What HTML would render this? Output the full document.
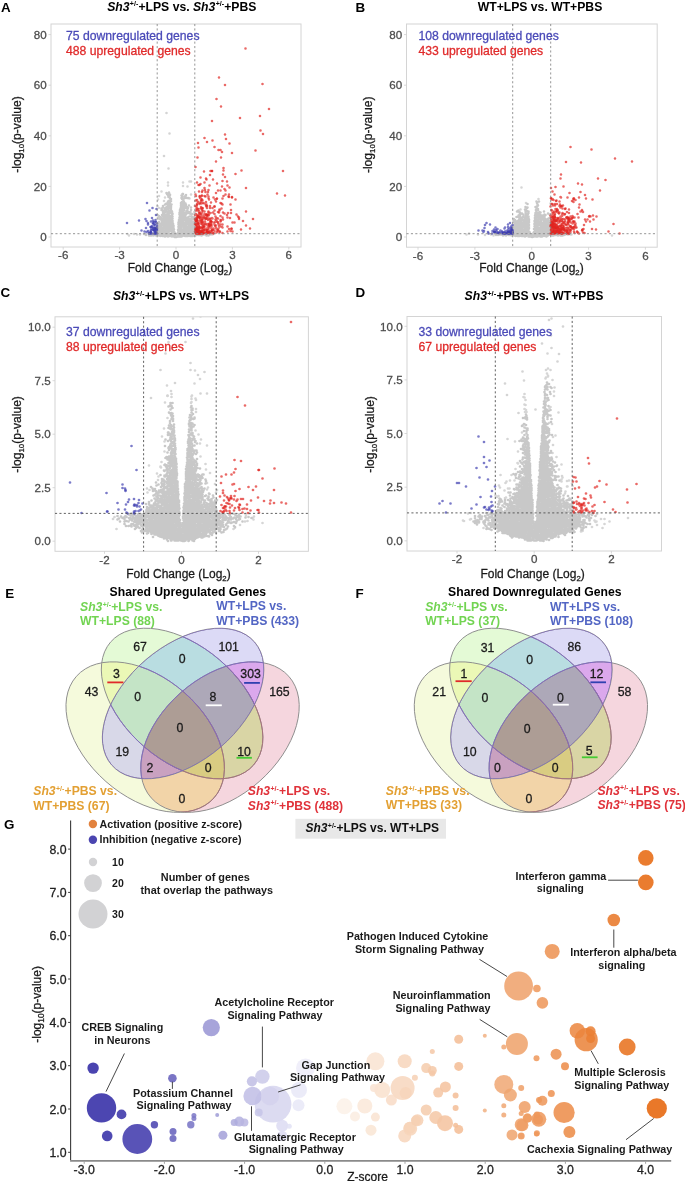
<!DOCTYPE html><html><head><meta charset="utf-8"><style>html,body{margin:0;padding:0;background:#fff}svg{display:block}</style></head><body><svg style="will-change:transform" width="685" height="1181" viewBox="0 0 685 1181" font-family="&quot;Liberation Sans&quot;, sans-serif">
<rect width="685" height="1181" fill="#fff"/>
<text x="1.0" y="11.6" font-size="13.4" font-weight="bold" fill="#000" text-anchor="start">A</text>
<text x="355.6" y="11.6" font-size="13.4" font-weight="bold" fill="#000" text-anchor="start">B</text>
<text x="0.6" y="296.8" font-size="13.4" font-weight="bold" fill="#000" text-anchor="start">C</text>
<text x="355.4" y="296.8" font-size="13.4" font-weight="bold" fill="#000" text-anchor="start">D</text>
<text x="5.2" y="598" font-size="13.4" font-weight="bold" fill="#000" text-anchor="start">E</text>
<text x="355.6" y="598.2" font-size="13.4" font-weight="bold" fill="#000" text-anchor="start">F</text>
<text x="4" y="829.3" font-size="13.4" font-weight="bold" fill="#000" text-anchor="start">G</text>
<text x="181.8" y="10.5" font-size="12.2" font-weight="bold" text-anchor="middle"><tspan font-style="italic">Sh3</tspan><tspan font-size="7" dy="-4.2" dx="0.3">+/-</tspan><tspan dy="4.2" dx="0.2">+LPS vs. </tspan><tspan font-style="italic">Sh3</tspan><tspan font-size="7" dy="-4.2" dx="0.3">+/-</tspan><tspan dy="4.2" dx="0.2">+PBS</tspan></text>
<text x="540" y="10.5" font-size="12.2" font-weight="bold" text-anchor="middle">WT+LPS vs. WT+PBS</text>
<text x="181" y="300" font-size="12.2" font-weight="bold" text-anchor="middle"><tspan font-style="italic">Sh3</tspan><tspan font-size="7.5" dy="-4.2" dx="0.3">+/-</tspan><tspan dy="4.2" dx="0.2">+LPS vs. WT+LPS</tspan></text>
<text x="534" y="300" font-size="12.2" font-weight="bold" text-anchor="middle"><tspan font-style="italic">Sh3</tspan><tspan font-size="7.5" dy="-4.2" dx="0.3">+/-</tspan><tspan dy="4.2" dx="0.2">+PBS vs. WT+PBS</tspan></text>
<rect x="51" y="24" width="250" height="223" fill="#fff" stroke="#d4d4d4" stroke-width="1"/>
<clipPath id="clp1"><rect x="51" y="24" width="250" height="223"/></clipPath>
<g clip-path="url(#clp1)">
<path transform="scale(0.5)" d="M280 469h0M274 469h0M425 469h0M366 365h0M323 383h0M255 468h0M366 372h0M379 363h0M379 397h0M422 469h0M258 471h0M328 402h0M318 392h0M336 365h0M336 371h0M330 395h0M318 416h0M315 412h0M268 468h0M316 399h0M382 389h0" stroke="#d6d6d6" stroke-width="5.2" stroke-linecap="round" fill="none" opacity="1.0"/>
<path transform="scale(0.5)" d="M339 472h0M382 469h0M349 474h0M346 472h0M361 473h0M330 470h0M374 467h0M370 471h0M339 472h0M358 473h0M357 473h0M344 473h0M352 474h0M353 474h0M340 471h0M372 469h0M323 467h0M336 473h0M327 472h0M366 471h0M342 472h0M342 472h0M371 472h0M364 472h0M385 462h0M332 470h0M325 468h0M365 472h0M345 471h0M377 469h0M327 470h0M363 473h0M324 466h0M362 471h0M360 471h0M384 471h0M386 468h0M387 470h0M338 469h0M323 471h0M319 467h0M380 470h0M326 470h0M373 470h0M416 469h0M328 461h0M322 464h0M368 469h0M362 469h0M336 471h0M329 469h0M328 465h0M335 468h0M373 472h0M332 472h0M379 465h0M317 468h0M396 470h0M379 467h0M317 471h0M325 463h0M332 469h0M398 469h0M366 467h0M391 471h0M386 466h0M320 468h0M370 472h0M371 466h0M335 463h0M387 469h0M340 468h0M382 464h0M359 467h0M395 469h0M329 466h0M364 468h0M330 468h0M321 465h0M315 470h0M321 470h0M371 472h0M312 468h0M377 469h0M383 472h0M389 462h0M325 472h0M407 468h0M388 465h0M305 468h0M357 471h0M312 471h0M303 471h0M327 464h0M401 468h0M330 473h0M292 469h0M307 471h0M309 469h0M310 470h0M300 469h0M389 470h0M389 469h0M317 463h0M377 466h0M393 469h0M363 465h0M366 464h0M407 468h0M317 465h0M319 460h0M389 465h0M333 465h0M288 468h0M321 463h0M299 469h0M374 466h0M404 468h0M315 456h0M410 469h0M307 468h0M382 472h0M315 469h0M342 468h0M380 472h0M336 465h0M320 458h0M348 472h0M339 467h0M399 470h0M372 464h0M317 460h0M330 463h0M315 466h0M376 472h0M386 472h0M381 453h0M321 472h0M337 467h0M372 458h0M345 469h0M383 462h0M397 470h0M372 461h0M298 471h0M364 466h0M340 442h0M357 463h0M326 443h0M342 437h0M368 449h0M344 466h0M346 466h0M340 455h0M345 457h0M341 447h0M361 464h0M368 459h0M360 458h0M342 449h0M343 461h0M345 443h0M367 451h0M328 434h0M340 435h0M367 424h0M357 448h0M374 462h0M338 442h0M356 465h0M363 455h0M364 394h0M386 454h0M366 465h0M347 453h0M362 440h0M342 452h0M346 459h0M365 447h0M334 461h0M322 459h0M357 458h0M342 438h0M359 429h0M361 456h0M363 458h0M381 460h0M356 460h0M379 457h0M344 463h0M358 440h0M323 435h0M328 453h0M328 438h0M367 402h0M344 455h0M362 447h0M329 438h0M333 423h0M364 443h0M343 454h0M382 438h0M362 460h0M361 451h0M365 451h0M319 438h0M360 466h0M388 459h0M379 445h0M329 429h0M343 432h0M361 427h0M378 454h0M336 458h0M346 447h0M337 429h0M363 457h0M344 439h0M339 458h0M357 454h0M337 408h0M367 422h0M348 459h0M337 405h0M331 445h0M335 413h0M366 447h0M345 441h0M374 444h0M342 445h0M376 416h0M360 462h0M349 465h0M357 469h0M330 461h0M336 438h0M316 450h0M344 448h0M345 428h0M370 456h0M368 449h0M367 428h0M368 417h0M371 446h0M330 456h0M368 414h0M381 447h0M338 440h0M360 456h0M341 457h0M374 396h0M365 435h0M343 443h0M337 461h0M362 444h0M346 462h0M341 460h0M370 460h0M359 461h0M374 454h0M357 453h0M388 439h0M361 429h0M335 451h0M363 440h0M340 432h0M326 427h0M339 401h0M319 438h0M378 459h0M348 463h0M358 452h0M330 452h0M374 459h0M377 462h0M358 450h0M378 460h0M368 446h0M333 440h0M378 453h0M342 438h0M330 409h0M323 441h0M322 454h0M369 439h0M343 456h0M343 422h0M388 464h0M361 453h0M328 456h0M358 447h0M339 422h0M374 448h0M336 453h0M333 455h0M370 453h0M371 447h0M373 451h0M339 444h0M369 441h0M363 437h0M327 449h0M363 463h0M347 456h0M334 463h0M345 456h0M343 450h0M382 455h0M376 446h0M333 459h0M345 442h0M370 464h0M341 400h0M338 462h0M335 434h0M334 429h0M379 455h0M348 468h0M321 448h0M385 446h0M320 450h0M366 461h0M347 457h0M324 419h0M330 440h0M321 449h0M332 416h0M379 448h0M355 468h0M371 449h0M359 438h0M419 469h0M343 433h0M345 450h0M362 406h0M343 427h0M381 424h0M342 462h0M363 409h0M369 462h0M322 447h0M341 410h0M374 441h0M381 453h0M326 414h0M324 430h0M331 458h0M332 420h0M323 452h0M318 451h0M332 449h0M330 419h0M359 445h0M337 454h0M366 438h0M339 454h0M364 404h0M388 447h0M317 456h0M355 470h0M329 450h0M345 437h0M372 455h0M320 456h0M360 423h0M340 390h0M326 441h0M384 452h0M378 463h0M364 443h0M342 422h0M334 417h0M339 426h0M358 442h0M362 417h0M383 451h0M376 446h0M363 433h0M332 453h0M364 424h0M384 450h0M383 456h0M367 435h0M336 430h0M370 430h0M340 425h0M339 451h0M374 435h0M335 441h0M365 459h0M335 436h0M342 410h0M361 434h0M389 452h0M338 433h0M318 437h0M337 448h0M371 412h0M357 445h0M360 421h0M360 431h0M325 438h0M365 388h0M332 432h0M326 458h0M338 436h0M387 456h0M369 458h0M360 420h0M362 441h0M326 458h0M338 393h0M373 451h0M336 409h0M332 448h0M337 451h0M366 444h0M385 461h0M340 402h0M377 458h0M363 454h0M337 443h0M334 444h0M383 442h0M334 443h0M370 436h0M359 426h0M368 446h0M378 438h0M292 470h0M389 424h0M366 420h0M366 430h0M360 436h0M341 445h0M371 407h0M359 435h0M334 388h0M326 412h0M389 460h0M360 433h0M372 441h0M363 391h0M344 423h0M381 439h0M366 414h0M373 436h0M377 424h0M327 432h0M339 393h0M368 455h0M335 427h0M338 423h0M328 426h0M368 415h0M315 450h0M370 431h0M368 433h0M316 459h0M344 430h0M372 454h0M324 447h0M324 460h0M342 415h0M333 435h0M375 456h0M323 457h0M360 424h0M365 426h0M335 447h0M335 431h0M377 439h0M333 461h0M366 406h0M347 453h0M365 413h0M345 433h0M357 449h0M368 437h0M337 417h0M362 411h0M341 415h0M384 439h0M331 442h0M366 443h0M368 404h0M336 424h0M363 421h0M374 416h0M340 396h0M326 424h0M324 444h0M370 396h0M371 416h0M377 396h0M317 435h0M328 448h0M376 435h0M325 432h0M362 414h0M372 435h0M330 431h0M372 440h0M343 409h0M386 435h0M366 388h0M375 420h0M363 396h0M374 423h0M388 449h0M362 408h0M377 442h0M364 419h0M389 434h0M377 426h0M382 428h0M298 468h0M342 398h0M335 419h0M336 403h0M385 437h0M342 418h0M332 437h0M315 430h0M371 425h0M327 423h0M325 443h0M385 444h0M338 431h0M315 452h0M378 450h0M363 405h0M315 448h0M381 440h0M315 457h0M385 428h0M373 422h0M331 448h0M369 393h0M372 410h0M328 444h0M379 450h0M333 407h0M379 433h0M342 402h0M369 407h0M340 389h0M347 451h0M337 418h0M383 446h0M318 444h0M372 429h0M413 471h0M371 393h0M383 433h0M385 454h0M320 434h0M332 419h0M340 405h0M368 420h0M364 392h0M375 436h0M366 411h0M339 423h0M316 447h0M325 445h0M382 415h0M315 461h0M336 411h0M332 415h0M403 471h0M368 419h0M338 412h0M331 422h0M363 429h0M329 417h0M338 385h0M389 450h0M375 440h0M381 428h0M363 411h0M326 456h0M340 408h0M338 389h0M337 404h0M319 452h0M332 408h0M326 451h0M341 417h0M300 471h0M385 458h0M350 471h0M333 386h0M318 432h0M389 457h0M337 415h0M386 445h0M372 390h0M342 418h0M323 417h0M330 425h0M329 429h0M368 397h0M325 433h0M369 427h0M417 471h0M336 391h0M380 441h0M361 417h0M374 414h0M363 416h0M342 413h0M323 420h0M322 438h0M389 444h0M327 422h0M373 427h0M345 427h0M369 411h0M378 411h0M405 470h0M364 398h0M337 394h0M382 420h0M369 406h0M389 448h0M315 463h0M367 426h0M325 449h0M325 439h0M352 468h0" stroke="#c8c8c8" stroke-width="5.2" stroke-linecap="round" fill="none" opacity="1.0"/>
<path transform="scale(0.5)" d="M333 226h0M339 267h0M328 312h0M337 337h0M382 363h0M375 373h0" stroke="#d4d4d4" stroke-width="5.2" stroke-linecap="round" fill="none" opacity="1.0"/>
<path transform="scale(0.5)" d="M398 443h0M431 439h0M409 376h0M393 458h0M395 315h0M393 417h0M437 457h0M394 456h0M418 399h0M396 465h0M417 380h0M399 462h0M445 466h0M429 462h0M405 417h0M424 242h0M482 459h0M400 406h0M419 452h0M393 439h0M401 463h0M395 442h0M397 467h0M441 440h0M399 427h0M401 443h0M420 450h0M394 455h0M394 410h0M400 433h0M446 425h0M414 465h0M403 443h0M406 451h0M408 461h0M400 396h0M421 464h0M420 437h0M392 464h0M396 445h0M441 443h0M404 439h0M394 466h0M450 354h0M415 465h0M409 407h0M413 429h0M393 465h0M459 287h0M397 405h0M429 428h0M440 453h0M395 467h0M458 394h0M427 466h0M445 397h0M465 463h0M418 448h0M393 442h0M408 449h0M393 458h0M441 381h0M396 434h0M407 454h0M390 438h0M413 437h0M438 425h0M412 357h0M406 465h0M394 417h0M400 436h0M398 453h0M419 463h0M390 412h0M404 391h0M424 342h0M397 418h0M406 465h0M395 421h0M506 438h0M403 466h0M492 376h0M420 466h0M402 400h0M423 444h0M416 440h0M403 463h0M393 463h0M397 418h0M396 465h0M393 467h0M392 438h0M438 452h0M400 440h0M405 463h0M411 384h0M417 431h0M391 334h0M390 448h0M412 404h0M395 443h0M392 437h0M419 466h0M409 465h0M422 462h0M392 451h0M402 397h0M478 435h0M423 446h0M402 417h0M391 448h0M421 444h0M394 458h0M395 430h0M413 462h0M399 430h0M427 460h0M390 463h0M438 155h0M570 391h0" stroke="#e0221e" stroke-width="5.2" stroke-linecap="round" fill="none" opacity="0.68"/>
<path transform="scale(0.5)" d="M428 445h0M397 370h0M405 401h0M424 464h0M398 424h0M463 457h0M462 426h0M419 452h0M406 466h0M404 454h0M410 380h0M426 359h0M394 439h0M419 447h0M399 436h0M405 454h0M394 461h0M433 436h0M398 422h0M442 315h0M395 434h0M400 467h0M393 413h0M444 373h0M392 460h0M418 452h0M445 435h0M454 430h0M393 444h0M443 407h0M391 438h0M414 465h0M410 443h0M391 447h0M405 455h0M415 450h0M436 445h0M413 413h0M455 371h0M447 341h0M433 465h0M408 435h0M396 447h0M457 393h0M415 455h0M433 398h0M430 452h0M397 466h0M413 458h0M442 441h0M394 461h0M411 447h0M403 407h0M419 371h0M415 429h0M464 395h0M445 362h0M416 437h0M404 463h0M405 416h0M462 420h0M408 466h0M460 436h0M430 399h0M407 445h0M399 393h0M461 462h0M406 466h0M420 412h0M432 403h0M416 384h0M436 424h0M433 198h0M526 268h0M399 455h0M395 403h0M423 466h0M394 452h0M399 458h0M442 213h0M403 429h0M414 437h0M392 460h0M404 420h0M424 461h0M447 336h0M427 467h0M434 464h0M454 363h0M396 460h0M411 437h0M405 381h0M415 464h0M422 443h0M405 464h0M392 442h0M404 462h0M401 355h0M394 457h0M395 433h0M451 381h0M436 381h0M429 294h0M415 435h0M392 457h0M415 448h0M394 400h0M393 446h0M425 416h0M449 427h0M439 419h0M408 343h0M486 442h0M416 457h0M403 466h0M401 368h0M417 425h0M405 440h0M450 170h0M480 236h0" stroke="#e0221e" stroke-width="5.2" stroke-linecap="round" fill="none" opacity="0.68"/>
<path transform="scale(0.5)" d="M405 444h0M391 401h0M409 276h0M464 394h0M417 465h0M399 408h0M425 281h0M398 456h0M406 422h0M432 323h0M391 464h0M394 440h0M413 410h0M404 446h0M446 439h0M436 460h0M404 467h0M392 449h0M411 393h0M451 389h0M397 448h0M397 295h0M402 464h0M399 462h0M424 436h0M403 456h0M435 444h0M396 459h0M400 466h0M414 284h0M409 423h0M394 436h0M413 409h0M461 409h0M440 463h0M441 406h0M445 449h0M520 232h0M395 457h0M396 466h0M434 397h0M434 367h0M415 465h0M399 427h0M425 460h0M421 342h0M398 451h0M465 445h0M412 429h0M395 432h0M408 459h0M395 418h0M404 459h0M399 454h0M429 449h0M427 395h0M391 458h0M418 429h0M437 448h0M399 455h0M420 416h0M441 432h0M419 466h0M399 370h0M391 465h0M404 436h0M444 454h0M449 378h0M416 464h0M429 413h0M452 278h0M395 434h0M407 436h0M478 438h0M445 455h0M404 399h0M421 442h0M406 467h0M464 306h0M390 430h0M425 437h0M413 465h0M400 455h0M392 421h0M397 463h0M396 453h0M423 450h0M395 462h0M411 449h0M441 449h0M395 433h0M413 430h0M392 428h0M554 387h0M399 434h0M424 460h0M403 447h0M414 460h0M447 392h0M413 467h0M395 461h0M394 408h0M393 456h0M538 218h0M445 409h0M436 437h0M414 431h0M458 389h0M408 452h0M395 433h0M431 433h0M450 269h0M469 445h0M455 435h0M415 389h0M456 426h0M463 458h0M491 97h0M521 261h0" stroke="#e0221e" stroke-width="5.2" stroke-linecap="round" fill="none" opacity="0.68"/>
<path transform="scale(0.5)" d="M476 433h0M403 416h0M416 460h0M391 459h0M433 441h0M392 463h0M404 464h0M455 453h0M421 439h0M435 461h0M492 451h0M414 416h0M492 423h0M392 458h0M391 389h0M395 467h0M439 464h0M443 417h0M408 460h0M422 405h0M396 457h0M483 341h0M426 425h0M403 445h0M409 428h0M432 451h0M391 441h0M396 286h0M393 458h0M423 443h0M444 304h0M409 392h0M455 463h0M413 359h0M409 454h0M397 433h0M401 463h0M396 467h0M438 463h0M391 463h0M471 348h0M402 427h0M404 433h0M424 342h0M439 421h0M459 375h0M421 426h0M417 396h0M433 458h0M432 386h0M406 406h0M402 403h0M392 392h0M392 467h0M397 447h0M405 449h0M399 456h0M432 442h0M500 457h0M402 414h0M441 300h0M404 384h0M393 442h0M406 461h0M420 350h0M411 438h0M419 464h0M429 421h0M411 435h0M420 439h0M417 460h0M431 444h0M397 467h0M418 450h0M403 392h0M423 453h0M422 449h0M396 464h0M458 458h0M414 431h0M394 365h0M404 425h0M432 456h0M437 300h0M409 365h0M446 349h0M429 413h0M396 448h0M400 467h0M402 425h0M413 431h0M398 383h0M400 392h0M400 463h0M392 442h0M392 459h0M419 455h0M417 393h0M412 411h0M405 466h0M414 412h0M423 457h0M397 461h0M403 448h0M417 423h0M408 431h0M397 458h0M405 456h0M511 301h0M471 399h0M395 462h0M402 441h0M410 459h0M427 457h0M414 461h0M473 429h0M396 448h0M525 168h0M566 342h0" stroke="#e0221e" stroke-width="5.2" stroke-linecap="round" fill="none" opacity="0.68"/>
<path transform="scale(0.5)" d="M314 452h0M313 418h0M302 464h0M306 441h0M278 441h0M306 460h0M302 454h0M314 456h0M307 456h0M306 442h0M298 467h0M311 458h0M310 458h0M311 465h0M299 467h0M314 457h0M310 467h0M306 446h0M254 446h0" stroke="#3c3cb0" stroke-width="5.2" stroke-linecap="round" fill="none" opacity="0.68"/>
<path transform="scale(0.5)" d="M309 450h0M314 460h0M308 460h0M312 458h0M304 452h0M304 458h0M311 440h0M304 457h0M309 461h0M310 449h0M311 443h0M283 461h0M296 449h0M311 462h0M303 457h0M313 455h0M301 463h0M289 463h0M294 406h0" stroke="#3c3cb0" stroke-width="5.2" stroke-linecap="round" fill="none" opacity="0.68"/>
<path transform="scale(0.5)" d="M292 456h0M312 466h0M313 459h0M312 430h0M306 447h0M293 464h0M304 436h0M312 459h0M302 460h0M312 444h0M309 462h0M314 447h0M302 443h0M298 466h0M306 455h0M309 455h0M310 466h0M301 467h0M299 421h0" stroke="#3c3cb0" stroke-width="5.2" stroke-linecap="round" fill="none" opacity="0.68"/>
<path transform="scale(0.5)" d="M309 449h0M308 460h0M314 467h0M303 467h0M310 456h0M311 467h0M309 458h0M291 438h0M308 444h0M307 467h0M293 442h0M312 465h0M311 463h0M296 446h0M305 416h0M296 462h0M301 454h0M302 465h0" stroke="#3c3cb0" stroke-width="5.2" stroke-linecap="round" fill="none" opacity="0.68"/>
</g>
<line x1="157.2" y1="24" x2="157.2" y2="247" stroke="#8a8a8a" stroke-width="0.9" stroke-dasharray="2.1 2.3"/>
<line x1="194.8" y1="24" x2="194.8" y2="247" stroke="#8a8a8a" stroke-width="0.9" stroke-dasharray="2.1 2.3"/>
<line x1="51" y1="233.7" x2="301" y2="233.7" stroke="#8a8a8a" stroke-width="0.9" stroke-dasharray="2.1 2.3"/>
<line x1="48.5" y1="237.0" x2="51" y2="237.0" stroke="#cfcfcf" stroke-width="0.8"/>
<text x="46.7" y="241.2" font-size="11.6" fill="#4d4d4d" stroke="#4d4d4d" stroke-width="0.28" text-anchor="end">0</text>
<line x1="48.5" y1="186.4" x2="51" y2="186.4" stroke="#cfcfcf" stroke-width="0.8"/>
<text x="46.7" y="190.6" font-size="11.6" fill="#4d4d4d" stroke="#4d4d4d" stroke-width="0.28" text-anchor="end">20</text>
<line x1="48.5" y1="135.8" x2="51" y2="135.8" stroke="#cfcfcf" stroke-width="0.8"/>
<text x="46.7" y="140.0" font-size="11.6" fill="#4d4d4d" stroke="#4d4d4d" stroke-width="0.28" text-anchor="end">40</text>
<line x1="48.5" y1="85.2" x2="51" y2="85.2" stroke="#cfcfcf" stroke-width="0.8"/>
<text x="46.7" y="89.4" font-size="11.6" fill="#4d4d4d" stroke="#4d4d4d" stroke-width="0.28" text-anchor="end">60</text>
<line x1="48.5" y1="34.6" x2="51" y2="34.6" stroke="#cfcfcf" stroke-width="0.8"/>
<text x="46.7" y="38.8" font-size="11.6" fill="#4d4d4d" stroke="#4d4d4d" stroke-width="0.28" text-anchor="end">80</text>
<line x1="63.2" y1="247" x2="63.2" y2="249.5" stroke="#cfcfcf" stroke-width="0.8"/>
<text x="63.2" y="259.3" font-size="11.6" fill="#4d4d4d" stroke="#4d4d4d" stroke-width="0.28" text-anchor="middle">-6</text>
<line x1="119.6" y1="247" x2="119.6" y2="249.5" stroke="#cfcfcf" stroke-width="0.8"/>
<text x="119.6" y="259.3" font-size="11.6" fill="#4d4d4d" stroke="#4d4d4d" stroke-width="0.28" text-anchor="middle">-3</text>
<line x1="176.0" y1="247" x2="176.0" y2="249.5" stroke="#cfcfcf" stroke-width="0.8"/>
<text x="176.0" y="259.3" font-size="11.6" fill="#4d4d4d" stroke="#4d4d4d" stroke-width="0.28" text-anchor="middle">0</text>
<line x1="232.4" y1="247" x2="232.4" y2="249.5" stroke="#cfcfcf" stroke-width="0.8"/>
<text x="232.4" y="259.3" font-size="11.6" fill="#4d4d4d" stroke="#4d4d4d" stroke-width="0.28" text-anchor="middle">3</text>
<line x1="288.8" y1="247" x2="288.8" y2="249.5" stroke="#cfcfcf" stroke-width="0.8"/>
<text x="288.8" y="259.3" font-size="11.6" fill="#4d4d4d" stroke="#4d4d4d" stroke-width="0.28" text-anchor="middle">6</text>
<text x="180" y="272.3" font-size="12" fill="#1a1a1a" stroke="#1a1a1a" stroke-width="0.28" text-anchor="middle">Fold Change (Log<tspan font-size="7.8" dy="3">2</tspan><tspan dy="-3">)</tspan></text>
<text transform="translate(21.1,134.5) rotate(-90)" font-size="12.1" fill="#1a1a1a" stroke="#1a1a1a" stroke-width="0.28" text-anchor="middle">-log<tspan font-size="7.8" dy="3">10</tspan><tspan dy="-3">(p-value)</tspan></text>
<text x="66" y="39.9" font-size="12.2" fill="#4a4ab8" stroke="#4a4ab8" stroke-width="0.28" text-anchor="start">75 downregulated genes</text>
<text x="66" y="54.9" font-size="12.2" fill="#e02a2a" stroke="#e02a2a" stroke-width="0.28" text-anchor="start">488 upregulated genes</text>
<rect x="406.5" y="24" width="250.70000000000005" height="223.2" fill="#fff" stroke="#d4d4d4" stroke-width="1"/>
<clipPath id="clp2"><rect x="406.5" y="24" width="250.70000000000005" height="223.2"/></clipPath>
<g clip-path="url(#clp2)">
<path transform="scale(0.5)" d="M1141 469h0M1224 471h0M933 469h0M978 467h0M1098 428h0M1041 419h0M1052 406h0M1101 407h0M1100 431h0M987 471h0M982 469h0M970 470h0M938 467h0M1043 375h0M1143 469h0M988 468h0M956 469h0M1077 398h0" stroke="#d6d6d6" stroke-width="5.2" stroke-linecap="round" fill="none" opacity="1.0"/>
<path transform="scale(0.5)" d="M1045 470h0M1068 473h0M1077 471h0M1070 470h0M1096 471h0M1050 473h0M1060 473h0M1064 474h0M1059 473h0M1057 473h0M1101 465h0M1036 469h0M1049 470h0M1075 472h0M1043 471h0M1072 473h0M1065 474h0M1032 471h0M1053 470h0M1054 470h0M1040 471h0M1078 471h0M1081 470h0M1040 463h0M1101 470h0M1042 464h0M1044 468h0M1032 469h0M1038 471h0M1079 472h0M1051 469h0M1086 471h0M1091 470h0M1109 470h0M1085 466h0M1052 472h0M1074 470h0M1103 470h0M1082 469h0M1094 465h0M1101 469h0M1039 465h0M1050 471h0M1075 473h0M1092 466h0M1090 469h0M1087 466h0M1039 472h0M1037 462h0M1093 463h0M1041 468h0M1091 469h0M1032 466h0M1087 467h0M1027 466h0M1049 469h0M1028 469h0M1089 466h0M1012 471h0M1058 472h0M1035 462h0M1075 468h0M1078 468h0M1095 467h0M1044 466h0M1038 469h0M1070 472h0M1090 472h0M1047 472h0M1035 469h0M1029 471h0M1084 472h0M1030 466h0M1072 468h0M1083 469h0M1101 464h0M1084 473h0M999 469h0M1098 463h0M1020 468h0M1089 469h0M1130 468h0M1082 466h0M1097 468h0M1086 472h0M1081 473h0M1078 466h0M1047 466h0M1042 468h0M1043 472h0M1032 461h0M1038 466h0M1111 468h0M1100 469h0M1089 460h0M1104 471h0M1019 470h0M1074 467h0M1021 469h0M1089 457h0M1026 468h0M1122 468h0M1117 468h0M1045 472h0M1096 470h0M1013 469h0M1052 466h0M1023 468h0M1008 469h0M1104 469h0M1045 464h0M1034 466h0M1101 461h0M1093 473h0M1016 467h0M1082 462h0M1098 467h0M1067 471h0M1054 469h0M1025 470h0M1095 463h0M1037 472h0M1023 471h0M1122 469h0M1010 468h0M1109 468h0M1042 461h0M1049 465h0M1055 469h0M1131 469h0M1087 462h0M1031 463h0M1094 472h0M1031 460h0M1015 469h0M1083 463h0M1089 464h0M1113 469h0M1079 463h0M1095 461h0M1002 469h0M1027 470h0M1004 468h0M1028 462h0M1055 465h0M1082 461h0M1007 468h0M1035 472h0M1031 472h0M1026 456h0M1117 469h0M1075 466h0M1098 461h0M1087 458h0M1048 454h0M1033 457h0M1075 462h0M1059 464h0M1053 458h0M1071 428h0M1068 464h0M1050 451h0M1077 459h0M1035 446h0M1056 458h0M1078 446h0M1091 451h0M1039 454h0M1053 463h0M1072 421h0M1057 463h0M1050 442h0M1089 435h0M1058 469h0M1074 441h0M1058 454h0M1075 452h0M1088 451h0M1083 449h0M1080 449h0M1070 465h0M1071 460h0M1069 459h0M1077 446h0M1069 464h0M1033 453h0M1070 456h0M1073 431h0M1080 459h0M1036 451h0M1055 456h0M1051 462h0M1038 457h0M1058 450h0M1057 459h0M1049 446h0M1095 459h0M1070 454h0M1042 458h0M1053 439h0M1057 448h0M1084 461h0M1058 445h0M1041 435h0M1073 452h0M1072 419h0M1099 454h0M1037 434h0M1072 447h0M1056 434h0M1056 454h0M1055 462h0M1038 459h0M1071 442h0M1080 430h0M1075 446h0M1069 469h0M1070 462h0M1073 450h0M1049 436h0M1049 461h0M1078 432h0M1072 450h0M1067 469h0M1046 460h0M1060 466h0M1046 441h0M1073 465h0M1076 463h0M1049 458h0M1069 453h0M1086 460h0M1054 449h0M1116 468h0M1060 470h0M1027 444h0M1072 459h0M1047 463h0M1040 450h0M1047 440h0M1056 451h0M1043 464h0M1074 448h0M1060 468h0M1082 456h0M1077 449h0M1050 452h0M1049 445h0M1083 448h0M1029 452h0M1076 445h0M1058 457h0M1086 446h0M1053 461h0M1053 454h0M1070 445h0M1073 454h0M1043 451h0M1078 456h0M1072 441h0M1076 455h0M1037 456h0M1095 440h0M1073 459h0M1055 442h0M1083 453h0M1078 431h0M1057 453h0M1050 459h0M1072 425h0M1044 427h0M1085 459h0M1052 419h0M1041 459h0M1074 457h0M1068 458h0M1054 452h0M1006 471h0M1056 427h0M1043 456h0M1089 455h0M1069 447h0M1035 454h0M1049 450h0M1043 436h0M1069 449h0M1052 433h0M1044 453h0M1077 457h0M1085 449h0M993 469h0M1080 451h0M1089 445h0M1027 451h0M1074 418h0M1047 433h0M1097 456h0M1093 453h0M1057 423h0M1044 455h0M1096 452h0M1052 446h0M1051 461h0M1083 454h0M1042 453h0M1057 460h0M1073 438h0M1035 460h0M1107 471h0M1073 436h0M1053 445h0M1056 436h0M1078 458h0M1054 433h0M1039 437h0M1081 448h0M1057 440h0M1085 431h0M1082 443h0M1045 448h0M1045 459h0M1071 456h0M1052 437h0M1058 442h0M1112 470h0M1086 456h0M1026 465h0M1034 453h0M1057 444h0M1027 461h0M1008 470h0M1050 455h0M1047 433h0M1097 458h0M1058 439h0M1051 447h0M1087 445h0M1080 460h0M1054 442h0M1090 446h0M1078 435h0M1035 458h0M1083 445h0M1071 437h0M1088 438h0M1100 451h0M1076 443h0M1082 436h0M1096 445h0M1071 444h0M1038 447h0M1048 442h0M1026 464h0M1096 453h0M1056 447h0M1089 429h0M1032 463h0M1099 436h0M1038 443h0M1086 453h0M1091 461h0M1051 440h0M1057 436h0M1072 431h0M1092 442h0M1121 471h0M1082 453h0M1046 450h0M1048 444h0M1055 408h0M1090 442h0M1042 444h0M1083 440h0M1088 441h0M1084 435h0M1040 457h0M1089 449h0M1028 438h0M1076 434h0M1043 439h0M1070 436h0M1036 444h0M1049 451h0M1070 438h0M1093 447h0M1101 442h0M1040 447h0M1046 446h0M1042 435h0M1028 458h0M1098 442h0M1053 437h0M1017 470h0M1041 452h0M1081 430h0M1123 471h0M1092 457h0M1034 450h0M1033 434h0M1030 458h0M1031 449h0M1078 438h0M1099 454h0M1052 431h0M1074 420h0M1055 415h0M1078 437h0M1034 443h0M1029 456h0M1070 435h0M1101 461h0M1092 450h0M1051 422h0M1081 425h0M1043 448h0M1045 428h0M1036 451h0M1026 460h0M1136 469h0M1053 434h0M1099 444h0M1074 413h0M1071 435h0M1093 454h0M1045 440h0M1026 452h0M1030 450h0M1052 430h0M1076 418h0M1093 443h0M1071 426h0M1089 440h0M992 470h0M1067 466h0M996 470h0M1033 445h0M1044 435h0M1056 428h0M1044 441h0M1078 443h0M1082 433h0M1054 416h0M1073 434h0M1030 447h0M1095 438h0M1040 440h0M1074 406h0M1047 430h0M995 468h0M1041 444h0M1096 427h0M1039 429h0M1038 440h0M1076 420h0M1090 438h0M1076 440h0M1050 419h0M1078 436h0M1030 440h0M1079 448h0M1054 429h0M1039 424h0M1027 442h0M1041 442h0M1069 442h0M1071 414h0M1054 422h0M1089 433h0M1096 456h0M1079 424h0M1033 455h0M1078 403h0M1057 433h0M1070 431h0M1052 427h0M1051 426h0M1033 447h0M1097 449h0M1094 449h0M1139 468h0M1073 403h0M1091 430h0M1097 437h0M1028 439h0M1084 445h0M1055 431h0M1073 429h0M1073 424h0M1037 423h0M1051 414h0M1088 423h0M1101 457h0M1034 423h0M1057 426h0M1076 429h0M1044 436h0M1042 427h0M1116 471h0M1079 427h0M1035 442h0M1030 443h0M1040 431h0M1099 448h0M1075 409h0M1087 432h0M1086 438h0M1092 440h0M1037 421h0M1076 411h0M1081 439h0M1128 470h0M1075 426h0M1037 431h0M1125 471h0M1063 469h0M1063 470h0" stroke="#c8c8c8" stroke-width="5.2" stroke-linecap="round" fill="none" opacity="1.0"/>
<path transform="scale(0.5)" d="M1134 467h0M1102 376h0M1111 462h0M1217 463h0M1167 458h0M1127 445h0M1105 449h0M1148 445h0M1130 428h0M1117 463h0M1128 466h0M1111 456h0M1112 455h0M1136 436h0M1104 455h0M1119 425h0M1170 390h0M1119 466h0M1111 443h0M1107 443h0M1121 412h0M1119 412h0M1108 439h0M1101 413h0M1136 440h0M1136 447h0M1102 396h0M1102 449h0M1105 466h0M1118 464h0M1109 435h0M1150 449h0M1133 435h0M1148 454h0M1105 383h0M1166 465h0M1110 462h0M1128 455h0M1123 442h0M1107 466h0M1108 437h0M1108 462h0M1124 442h0M1134 449h0M1113 401h0M1131 417h0M1115 461h0M1109 463h0M1113 422h0M1146 435h0M1108 447h0M1111 448h0M1107 466h0M1117 426h0M1137 463h0M1106 466h0M1128 459h0M1110 462h0M1107 454h0M1110 411h0M1138 467h0M1115 436h0M1106 467h0M1104 464h0M1151 447h0M1124 465h0M1112 455h0M1135 395h0M1142 453h0M1103 467h0M1115 454h0M1120 441h0M1121 461h0M1111 455h0M1107 400h0M1179 432h0M1105 445h0M1180 443h0M1122 465h0M1135 455h0M1138 444h0M1148 463h0M1165 423h0M1107 464h0M1166 424h0M1153 455h0M1109 467h0M1165 460h0M1107 435h0M1193 433h0M1108 465h0M1125 467h0M1102 454h0M1107 425h0M1123 460h0M1122 456h0M1145 457h0M1147 443h0M1123 448h0M1105 443h0M1121 451h0M1106 455h0M1105 454h0M1126 411h0M1148 397h0M1141 294h0M1211 360h0" stroke="#e0221e" stroke-width="5.2" stroke-linecap="round" fill="none" opacity="0.68"/>
<path transform="scale(0.5)" d="M1145 432h0M1186 431h0M1138 467h0M1120 443h0M1133 466h0M1109 448h0M1107 444h0M1128 457h0M1116 465h0M1102 459h0M1161 384h0M1103 451h0M1103 463h0M1196 357h0M1144 436h0M1112 440h0M1104 445h0M1125 426h0M1103 408h0M1124 459h0M1121 459h0M1102 445h0M1110 466h0M1119 456h0M1105 447h0M1102 397h0M1103 450h0M1127 447h0M1147 397h0M1103 466h0M1105 449h0M1121 464h0M1143 438h0M1115 463h0M1200 381h0M1122 453h0M1110 408h0M1138 442h0M1105 430h0M1110 441h0M1104 453h0M1106 411h0M1120 409h0M1128 461h0M1264 323h0M1165 459h0M1124 449h0M1122 461h0M1138 437h0M1140 459h0M1149 435h0M1116 454h0M1157 435h0M1115 420h0M1106 454h0M1106 464h0M1110 452h0M1164 369h0M1116 438h0M1104 465h0M1164 420h0M1139 386h0M1137 459h0M1149 466h0M1117 457h0M1106 466h0M1145 456h0M1178 433h0M1130 448h0M1138 426h0M1111 452h0M1127 438h0M1144 402h0M1125 461h0M1106 432h0M1133 461h0M1114 454h0M1106 450h0M1105 445h0M1113 465h0M1113 465h0M1117 455h0M1106 459h0M1151 455h0M1149 443h0M1118 462h0M1123 467h0M1101 467h0M1121 453h0M1119 466h0M1113 450h0M1119 462h0M1109 432h0M1110 455h0M1126 456h0M1155 464h0M1112 456h0M1123 412h0M1239 467h0M1108 441h0M1137 449h0M1110 440h0M1227 448h0M1136 444h0M1105 449h0M1183 299h0" stroke="#e0221e" stroke-width="5.2" stroke-linecap="round" fill="none" opacity="0.68"/>
<path transform="scale(0.5)" d="M1110 434h0M1114 451h0M1113 453h0M1115 440h0M1126 452h0M1142 460h0M1104 447h0M1135 445h0M1101 431h0M1156 367h0M1106 448h0M1111 460h0M1125 457h0M1187 439h0M1113 456h0M1109 452h0M1185 399h0M1108 457h0M1104 451h0M1117 453h0M1119 452h0M1101 452h0M1108 462h0M1109 453h0M1158 467h0M1102 434h0M1141 453h0M1103 452h0M1127 373h0M1159 409h0M1129 429h0M1124 432h0M1129 445h0M1121 357h0M1109 456h0M1113 466h0M1112 442h0M1114 453h0M1154 463h0M1125 443h0M1114 420h0M1108 457h0M1109 453h0M1124 438h0M1106 438h0M1124 429h0M1161 423h0M1103 420h0M1109 452h0M1175 439h0M1106 434h0M1141 454h0M1115 421h0M1121 394h0M1138 419h0M1114 421h0M1109 389h0M1122 395h0M1126 428h0M1117 457h0M1134 463h0M1126 429h0M1125 466h0M1105 452h0M1109 455h0M1109 430h0M1151 400h0M1112 402h0M1119 465h0M1128 459h0M1105 455h0M1168 450h0M1133 463h0M1115 441h0M1143 437h0M1181 433h0M1104 445h0M1104 441h0M1112 458h0M1103 441h0M1121 459h0M1110 434h0M1121 433h0M1112 463h0M1123 452h0M1116 423h0M1123 467h0M1156 466h0M1104 451h0M1141 433h0M1184 458h0M1114 460h0M1133 435h0M1137 436h0M1133 461h0M1121 435h0M1141 464h0M1103 466h0M1122 349h0M1138 439h0M1158 395h0M1164 461h0M1111 374h0M1125 417h0M1114 418h0M1230 317h0" stroke="#e0221e" stroke-width="5.2" stroke-linecap="round" fill="none" opacity="0.68"/>
<path transform="scale(0.5)" d="M1119 403h0M1113 457h0M1104 453h0M1142 445h0M1121 465h0M1145 447h0M1105 446h0M1105 408h0M1130 462h0M1103 421h0M1147 454h0M1116 446h0M1118 427h0M1111 418h0M1125 456h0M1111 466h0M1104 461h0M1145 446h0M1140 441h0M1132 456h0M1172 397h0M1158 415h0M1125 466h0M1140 452h0M1119 459h0M1114 461h0M1137 457h0M1121 415h0M1113 461h0M1106 462h0M1147 399h0M1135 437h0M1140 461h0M1108 423h0M1118 462h0M1111 438h0M1109 454h0M1139 439h0M1172 443h0M1121 439h0M1134 424h0M1151 451h0M1123 466h0M1111 450h0M1146 443h0M1112 464h0M1131 460h0M1108 425h0M1132 324h0M1106 450h0M1125 457h0M1108 461h0M1109 457h0M1192 459h0M1121 460h0M1104 435h0M1110 450h0M1103 460h0M1114 442h0M1105 426h0M1155 428h0M1104 465h0M1148 458h0M1104 459h0M1135 465h0M1123 413h0M1103 465h0M1130 418h0M1116 467h0M1130 439h0M1108 452h0M1107 437h0M1111 436h0M1108 448h0M1109 441h0M1102 450h0M1137 456h0M1103 459h0M1117 443h0M1102 438h0M1134 461h0M1135 434h0M1147 404h0M1117 436h0M1170 439h0M1132 450h0M1116 457h0M1143 455h0M1112 424h0M1127 452h0M1114 408h0M1104 399h0M1105 449h0M1108 463h0M1169 466h0M1115 461h0M1114 464h0M1110 428h0M1108 466h0M1103 437h0M1118 445h0M1105 398h0M1130 442h0M1114 465h0M1102 461h0M1162 325h0" stroke="#e0221e" stroke-width="5.2" stroke-linecap="round" fill="none" opacity="0.68"/>
<path transform="scale(0.5)" d="M1018 464h0M989 464h0M1010 467h0M997 465h0M1022 465h0M1024 465h0M1020 464h0M1018 467h0M1009 465h0M1007 466h0M1009 467h0M985 462h0M1024 466h0M1021 463h0M1006 466h0M1017 460h0M1025 466h0M1016 464h0M1023 460h0M1016 459h0M994 466h0M1021 465h0M1019 464h0M1020 446h0M1012 466h0M990 464h0M957 461h0" stroke="#3c3cb0" stroke-width="5.2" stroke-linecap="round" fill="none" opacity="0.68"/>
<path transform="scale(0.5)" d="M1025 467h0M967 464h0M997 466h0M1014 467h0M1008 467h0M968 462h0M1010 466h0M1022 453h0M1007 466h0M1022 466h0M1004 463h0M1023 460h0M991 455h0M1000 466h0M1025 465h0M1024 466h0M1018 456h0M995 458h0M1017 467h0M1019 464h0M1025 463h0M1016 454h0M989 464h0M1020 465h0M1024 461h0M1016 465h0M969 456h0" stroke="#3c3cb0" stroke-width="5.2" stroke-linecap="round" fill="none" opacity="0.68"/>
<path transform="scale(0.5)" d="M1022 467h0M1010 467h0M1021 463h0M976 464h0M994 463h0M1010 463h0M1013 462h0M1018 465h0M1024 464h0M988 463h0M1011 465h0M1013 464h0M1016 463h0M1022 458h0M1010 455h0M984 467h0M1025 461h0M1005 464h0M1023 457h0M980 449h0M1024 465h0M1023 464h0M1025 460h0M1025 467h0M1020 461h0M1009 457h0M988 459h0" stroke="#3c3cb0" stroke-width="5.2" stroke-linecap="round" fill="none" opacity="0.68"/>
<path transform="scale(0.5)" d="M1015 466h0M990 464h0M1020 465h0M1022 466h0M1018 467h0M1022 466h0M1020 466h0M1024 462h0M1025 450h0M1021 465h0M1025 465h0M965 461h0M1016 464h0M1016 449h0M973 446h0M1023 465h0M970 450h0M998 466h0M992 460h0M1001 461h0M1005 467h0M977 467h0M1023 456h0M1000 463h0M1020 465h0M1019 467h0" stroke="#3c3cb0" stroke-width="5.2" stroke-linecap="round" fill="none" opacity="0.68"/>
</g>
<line x1="512.7" y1="24" x2="512.7" y2="247.2" stroke="#8a8a8a" stroke-width="0.9" stroke-dasharray="2.1 2.3"/>
<line x1="550.7" y1="24" x2="550.7" y2="247.2" stroke="#8a8a8a" stroke-width="0.9" stroke-dasharray="2.1 2.3"/>
<line x1="406.5" y1="233.7" x2="657.2" y2="233.7" stroke="#8a8a8a" stroke-width="0.9" stroke-dasharray="2.1 2.3"/>
<line x1="404.0" y1="237.0" x2="406.5" y2="237.0" stroke="#cfcfcf" stroke-width="0.8"/>
<text x="402.2" y="241.2" font-size="11.6" fill="#4d4d4d" stroke="#4d4d4d" stroke-width="0.28" text-anchor="end">0</text>
<line x1="404.0" y1="186.4" x2="406.5" y2="186.4" stroke="#cfcfcf" stroke-width="0.8"/>
<text x="402.2" y="190.6" font-size="11.6" fill="#4d4d4d" stroke="#4d4d4d" stroke-width="0.28" text-anchor="end">20</text>
<line x1="404.0" y1="135.8" x2="406.5" y2="135.8" stroke="#cfcfcf" stroke-width="0.8"/>
<text x="402.2" y="140.0" font-size="11.6" fill="#4d4d4d" stroke="#4d4d4d" stroke-width="0.28" text-anchor="end">40</text>
<line x1="404.0" y1="85.2" x2="406.5" y2="85.2" stroke="#cfcfcf" stroke-width="0.8"/>
<text x="402.2" y="89.4" font-size="11.6" fill="#4d4d4d" stroke="#4d4d4d" stroke-width="0.28" text-anchor="end">60</text>
<line x1="404.0" y1="34.6" x2="406.5" y2="34.6" stroke="#cfcfcf" stroke-width="0.8"/>
<text x="402.2" y="38.8" font-size="11.6" fill="#4d4d4d" stroke="#4d4d4d" stroke-width="0.28" text-anchor="end">80</text>
<line x1="418.0" y1="247.2" x2="418.0" y2="249.7" stroke="#cfcfcf" stroke-width="0.8"/>
<text x="418.0" y="259.5" font-size="11.6" fill="#4d4d4d" stroke="#4d4d4d" stroke-width="0.28" text-anchor="middle">-6</text>
<line x1="474.9" y1="247.2" x2="474.9" y2="249.7" stroke="#cfcfcf" stroke-width="0.8"/>
<text x="474.9" y="259.5" font-size="11.6" fill="#4d4d4d" stroke="#4d4d4d" stroke-width="0.28" text-anchor="middle">-3</text>
<line x1="531.7" y1="247.2" x2="531.7" y2="249.7" stroke="#cfcfcf" stroke-width="0.8"/>
<text x="531.7" y="259.5" font-size="11.6" fill="#4d4d4d" stroke="#4d4d4d" stroke-width="0.28" text-anchor="middle">0</text>
<line x1="588.6" y1="247.2" x2="588.6" y2="249.7" stroke="#cfcfcf" stroke-width="0.8"/>
<text x="588.6" y="259.5" font-size="11.6" fill="#4d4d4d" stroke="#4d4d4d" stroke-width="0.28" text-anchor="middle">3</text>
<line x1="645.4" y1="247.2" x2="645.4" y2="249.7" stroke="#cfcfcf" stroke-width="0.8"/>
<text x="645.4" y="259.5" font-size="11.6" fill="#4d4d4d" stroke="#4d4d4d" stroke-width="0.28" text-anchor="middle">6</text>
<text x="531.5" y="272.3" font-size="12" fill="#1a1a1a" stroke="#1a1a1a" stroke-width="0.28" text-anchor="middle">Fold Change (Log<tspan font-size="7.8" dy="3">2</tspan><tspan dy="-3">)</tspan></text>
<text transform="translate(372.3,134.8) rotate(-90)" font-size="12.1" fill="#1a1a1a" stroke="#1a1a1a" stroke-width="0.28" text-anchor="middle">-log<tspan font-size="7.8" dy="3">10</tspan><tspan dy="-3">(p-value)</tspan></text>
<text x="418.5" y="39.9" font-size="12.2" fill="#4a4ab8" stroke="#4a4ab8" stroke-width="0.28" text-anchor="start">108 downregulated genes</text>
<text x="418.5" y="54.9" font-size="12.2" fill="#e02a2a" stroke="#e02a2a" stroke-width="0.28" text-anchor="start">433 upregulated genes</text>
<rect x="55" y="316.8" width="253.39999999999998" height="234.49999999999994" fill="#fff" stroke="#d4d4d4" stroke-width="1"/>
<clipPath id="clp3"><rect x="55" y="316.8" width="253.39999999999998" height="234.49999999999994"/></clipPath>
<g clip-path="url(#clp3)">
<path transform="scale(0.5)" d="M505 1036h0M414 979h0M298 931h0M495 1042h0M229 1034h0M430 968h0M233 1058h0M434 980h0M492 1031h0M432 985h0M499 1027h0M295 985h0M507 1039h0M508 1033h0M490 1043h0M491 1028h0M467 1058h0M299 980h0M525 1046h0M480 1050h0M226 1038h0M294 977h0M392 824h0M322 935h0M400 887h0M334 771h0M323 924h0M392 818h0M384 791h0M335 792h0M335 836h0M342 782h0M400 758h0M330 805h0M401 913h0M314 947h0M391 861h0M391 797h0M337 685h0M337 684h0M414 966h0M383 804h0M328 857h0M420 946h0M317 953h0M321 933h0M383 798h0M343 788h0M329 883h0M412 939h0M392 800h0M397 869h0M343 794h0M416 975h0M321 934h0M389 767h0M390 741h0M411 928h0M414 891h0M382 806h0M383 793h0M316 960h0M324 873h0M329 903h0M402 879h0" stroke="#d6d6d6" stroke-width="5.4" stroke-linecap="round" fill="none" opacity="1.0"/>
<path transform="scale(0.5)" d="M365 1082h0M362 1081h0M311 1044h0M396 1048h0M352 1074h0M392 1059h0M357 1075h0M332 1046h0M369 1082h0M298 1024h0M347 1071h0M413 1029h0M345 1062h0M375 1074h0M349 1075h0M322 1062h0M371 1077h0M394 1072h0M367 1081h0M344 1067h0M344 1069h0M286 1055h0M388 1063h0M418 1053h0M330 1042h0M369 1078h0M412 1055h0M431 1032h0M329 1058h0M336 1069h0M365 1078h0M441 1034h0M372 1078h0M373 1073h0M332 1059h0M404 1067h0M408 1057h0M347 1073h0M320 1063h0M377 1073h0M356 1076h0M387 1070h0M379 1071h0M356 1071h0M389 1036h0M351 1075h0M337 1052h0M383 1073h0M420 1054h0M371 1070h0M386 1063h0M320 1053h0M383 1064h0M368 1078h0M359 1079h0M352 1076h0M369 1075h0M287 1051h0M381 1076h0M357 1078h0M295 1051h0M349 1064h0M333 1056h0M407 1050h0M397 1063h0M349 1067h0M350 1064h0M378 1077h0M404 1060h0M402 1054h0M398 1050h0M340 1069h0M348 1072h0M352 1078h0M316 1044h0M330 1055h0M392 1076h0M450 1040h0M415 1062h0M354 1068h0M373 1071h0M383 1060h0M392 1061h0M358 1080h0M304 1064h0M339 1071h0M334 1074h0M390 1070h0M389 1073h0M353 1073h0M343 1062h0M346 1077h0M391 1059h0M329 1049h0M378 1069h0M383 1078h0M327 1050h0M380 1064h0M409 1053h0M416 1052h0M340 1067h0M332 1061h0M344 1056h0M380 1067h0M340 1063h0M322 1061h0M317 1039h0M376 1079h0M352 1066h0M390 1065h0M319 1062h0M429 1045h0M427 1057h0M336 1061h0M320 1059h0M335 1055h0M474 1041h0M291 1040h0M397 1074h0M386 1068h0M394 1059h0M320 1067h0M330 1068h0M400 1023h0M311 1039h0M381 1074h0M387 1068h0M339 1068h0M341 1046h0M401 1052h0M392 1065h0M332 1051h0M388 1065h0M328 1053h0M391 1060h0M345 1065h0M397 1054h0M338 1048h0M318 1062h0M300 1052h0M396 1056h0M340 1055h0M346 1069h0M372 1070h0M331 1035h0M401 1062h0M393 1040h0M340 1060h0M279 1047h0M398 1058h0M377 1068h0M348 1068h0M238 1037h0M405 1056h0M270 1052h0M390 1065h0M314 1052h0M293 1056h0M383 1068h0M402 1028h0M310 1047h0M408 1060h0M324 1059h0M414 1052h0M405 1043h0M434 1000h0M413 1033h0M278 1034h0M347 1057h0M411 1061h0M393 1052h0M408 1028h0M301 1061h0M394 1044h0M313 1035h0M351 1060h0M305 1037h0M387 1060h0M388 1057h0M334 1069h0M373 1078h0M385 1075h0M316 1041h0M346 1073h0M377 1072h0M374 1075h0M342 1049h0M331 1066h0M447 1064h0M426 1042h0M327 1059h0M321 1029h0M355 1062h0M379 1077h0M382 1066h0M339 1052h0M281 1045h0M382 1071h0M349 1078h0M414 1034h0M412 1041h0M393 1068h0M433 1031h0M334 1067h0M385 1072h0M402 1042h0M327 1067h0M324 1035h0M375 1058h0M290 1050h0M421 1042h0M317 1067h0M319 1043h0M339 1061h0M326 1048h0M305 1048h0M301 1054h0M389 1070h0M403 1049h0M341 1042h0M354 1079h0M335 1064h0M336 1057h0M330 1039h0M306 1059h0M343 1072h0M340 1073h0M440 1029h0M396 1066h0M387 1058h0M390 1073h0M316 1051h0M433 1034h0M435 1046h0M398 1056h0M408 1046h0M336 1071h0M381 1059h0M337 1065h0M337 1034h0M375 1067h0M385 1054h0M344 1074h0M330 1050h0M386 1067h0M350 1071h0M294 1048h0M415 1033h0M299 1010h0M429 1037h0M406 1044h0M307 1062h0M361 1079h0M335 1046h0M437 1039h0M387 1048h0M399 1048h0M338 1074h0M386 1052h0M300 1058h0M393 1057h0M340 1071h0M402 1040h0M420 1033h0M401 1046h0M322 1053h0M408 1001h0M406 1063h0M344 1077h0M410 1056h0M381 1058h0M401 1069h0M311 1059h0M312 1054h0M378 1061h0M445 1039h0M309 1031h0M430 1043h0M352 1046h0M413 1058h0M385 1059h0M333 1063h0M397 1065h0M327 1047h0M275 1034h0M303 1068h0M342 1058h0M395 1069h0M393 1063h0M296 1047h0M394 1062h0M333 1070h0M431 1064h0M400 1064h0M327 1061h0M279 1040h0M435 1051h0M330 1045h0M310 1055h0M380 1061h0M348 1056h0M413 1064h0M384 1061h0M301 1014h0M327 1074h0M278 1037h0M424 1060h0M403 1062h0M392 1074h0M367 1078h0M402 1049h0M395 1064h0M336 1034h0M322 1057h0M399 1002h0M374 1056h0M464 1045h0M318 1049h0M332 1030h0M328 1054h0M401 1044h0M338 1059h0M329 1062h0M389 1049h0M344 1054h0M350 1067h0M332 1052h0M403 1068h0M434 1053h0M322 1033h0M312 1028h0M337 1076h0M395 1039h0M404 1044h0M374 1067h0M311 1050h0M345 1060h0M386 1073h0M400 1056h0M326 1060h0M410 1046h0M393 1018h0M328 1066h0M409 1055h0M331 1064h0M331 1072h0M412 1069h0M346 1059h0M384 1049h0M274 1038h0M338 1031h0M423 1019h0M325 1035h0M317 1044h0M288 1033h0M336 1065h0M324 1032h0M415 1037h0M324 1045h0M338 1046h0M284 1030h0M295 1034h0M411 1014h0M300 1055h0M358 1077h0M418 1062h0M357 1081h0M337 1065h0M356 1068h0M334 1051h0M302 1055h0M282 1062h0M436 1046h0M307 1047h0M322 1068h0M445 1050h0M420 1044h0M301 1048h0M344 1065h0M420 1040h0M271 1050h0M331 1052h0M413 1049h0M347 1054h0M405 1075h0M412 1047h0M433 1038h0M377 1043h0M382 1041h0M326 1068h0M352 1071h0M397 1033h0M315 1053h0M391 1049h0M311 1061h0M321 1045h0M309 1059h0M335 1048h0M381 1056h0M335 1039h0M406 1066h0M325 1065h0M421 1054h0M309 1054h0M329 1064h0M331 1031h0M432 1024h0M396 1028h0M318 1020h0M392 1072h0M297 1039h0M404 1052h0M398 1069h0M293 1040h0M465 1027h0M307 1055h0M334 1043h0M326 1039h0M460 1034h0M301 1045h0M398 1062h0M332 1074h0M339 1058h0M305 1056h0M398 1041h0M409 1052h0M472 1046h0M424 1066h0M412 1059h0M345 1051h0M316 1054h0M419 1029h0M449 1029h0M323 1040h0M432 1037h0M292 1052h0M390 1048h0M315 1060h0M406 1053h0M389 1040h0M402 1059h0M314 1055h0M431 1052h0M274 1039h0M424 1050h0M412 1048h0M377 1067h0M312 1052h0M408 1042h0M310 1060h0M314 1036h0M303 1045h0M403 1032h0M313 1029h0M411 1050h0M433 1042h0M335 1044h0M413 1042h0M324 1046h0M344 1050h0M381 1055h0M318 1044h0M311 1063h0M430 1053h0M321 1049h0M307 1052h0M405 1059h0M373 1061h0M328 1041h0M418 1050h0M426 1048h0M400 1049h0M321 1068h0M399 1070h0M444 1053h0M284 1036h0M432 1050h0M262 1030h0M409 1066h0M335 1052h0M317 1064h0M397 1037h0M325 1053h0M384 1056h0M319 1049h0M297 1052h0M277 1045h0M425 1043h0M306 1025h0M298 1031h0M401 1073h0M410 1069h0M289 1062h0M324 1071h0M430 1029h0M326 1042h0M312 1069h0M287 1028h0M353 1061h0M305 1060h0M279 1056h0M439 1045h0M326 1044h0M346 1045h0M426 1051h0M325 1056h0M306 1017h0M350 1068h0M396 1050h0M390 1032h0M478 1039h0M388 1043h0M315 1045h0M404 1071h0M302 1027h0M407 1037h0M249 1038h0M429 1057h0M320 1049h0M407 1048h0M444 1043h0M391 1044h0M353 1081h0M425 1038h0M390 1020h0M304 1042h0M397 1044h0M372 1067h0M395 1016h0M440 1033h0M344 1028h0M408 1062h0M380 1078h0M397 1023h0M319 1035h0M322 1055h0M341 1035h0M418 1033h0M389 1076h0M446 1033h0M277 1040h0M417 1034h0M417 1055h0M294 1059h0M370 1072h0M402 1059h0M303 1030h0M389 1044h0M451 1034h0M302 1036h0M330 1076h0M313 1048h0M298 1039h0M263 1027h0M274 1050h0M377 1053h0M291 1036h0M341 1077h0M424 1056h0M432 1046h0M437 1044h0M322 1026h0M428 1036h0M377 1059h0M284 1051h0M315 1063h0M478 1035h0M404 1038h0M318 1003h0M390 1055h0M349 1051h0M272 1056h0M390 1039h0M307 1044h0M331 1029h0M410 1071h0M306 1060h0M293 1033h0M303 1064h0M405 1039h0M445 1039h0M391 1076h0M408 1048h0M324 1037h0M425 1066h0M395 1053h0M388 1040h0M341 1037h0M470 1054h0M320 1040h0M388 1045h0M400 1028h0M399 1049h0M319 1038h0M317 1069h0M403 1036h0M318 1055h0M412 1040h0M416 1029h0M461 1037h0M319 982h0M282 1050h0M380 1052h0M469 1028h0M261 1031h0M277 1028h0M385 1045h0M310 1026h0M395 1074h0M418 1045h0M274 1047h0M293 1027h0M382 1048h0M309 997h0M301 1032h0M291 1051h0M414 1024h0M294 1042h0M325 1025h0M418 1073h0M415 1047h0M333 1038h0M336 1075h0M448 1054h0M343 1041h0M332 1040h0M305 1052h0M325 1064h0M288 1040h0M470 1055h0M438 1050h0M323 1043h0M304 1040h0M415 1043h0M302 974h0M414 1038h0M414 1010h0M309 1050h0M296 1063h0M372 1063h0M315 1048h0M358 1075h0M439 1050h0M257 1043h0M422 1035h0M399 1039h0M375 1064h0M376 1049h0M440 1055h0M281 1032h0M408 1039h0M365 1080h0M405 1027h0M307 1029h0M421 1059h0M435 1039h0M480 1038h0M415 1057h0M339 1056h0M306 1043h0M386 1079h0M428 1047h0M334 1047h0M425 1028h0M424 1057h0M416 1051h0M376 1064h0M395 1042h0M314 1066h0M341 1053h0M405 1068h0M407 1029h0M279 1029h0M429 1005h0M429 1058h0M432 1036h0M285 1044h0M322 1038h0M390 1030h0M346 1054h0M325 1050h0M478 1029h0M301 1035h0M428 1041h0M318 1005h0M407 1040h0M455 1036h0M383 1053h0M444 1029h0M313 1066h0M428 1028h0M263 1049h0M322 1067h0M303 1052h0M392 1044h0M429 1050h0M269 1030h0M417 1058h0M397 1029h0M371 1081h0M436 1036h0M296 1046h0M397 1040h0M424 1053h0M421 1045h0M400 1070h0M440 1036h0M311 1044h0M270 1044h0M278 1031h0M300 1046h0M330 1022h0M348 1061h0M474 1034h0M313 1030h0M394 1037h0M440 1057h0M431 1039h0M299 1051h0M242 1033h0M305 1016h0M405 1060h0M425 1033h0M430 1063h0M313 1021h0M448 1060h0M413 1060h0M297 1058h0M410 1035h0M322 1051h0M300 1044h0M400 1066h0M301 1058h0M413 1066h0M399 1036h0M427 1052h0M407 981h0M392 1042h0M409 1034h0M314 1017h0M417 1041h0M411 1033h0M457 1041h0M410 1052h0M397 1023h0M386 1041h0M437 1058h0M292 1058h0M418 1022h0M414 1072h0M433 1021h0M310 1037h0M305 1029h0M420 1063h0M462 1034h0M304 1027h0M327 1018h0M268 1043h0M309 1042h0M390 1054h0M311 1007h0M392 1050h0M410 1036h0M402 1030h0M321 1001h0M274 1051h0M352 1058h0M380 1040h0M425 1010h0M293 1062h0M380 1045h0M264 1041h0M410 1044h0M381 1052h0M405 1071h0M415 1046h0M468 1052h0M316 1010h0M420 1027h0M315 1058h0M452 1039h0M333 1075h0M258 1028h0M299 1015h0M323 1030h0M442 1049h0M434 1057h0M286 1046h0M389 1051h0M428 1039h0M266 1034h0M442 1053h0M321 1056h0M307 1049h0M308 1041h0M380 1049h0M311 1033h0M417 1072h0M415 1063h0M370 1070h0M303 1033h0M299 1049h0M317 1035h0M405 1014h0M424 1031h0M421 1029h0M386 1035h0M311 1043h0M340 1047h0M308 1007h0M406 1025h0M408 1069h0M272 1035h0M337 1030h0M298 1017h0M296 1041h0M452 1050h0M427 1038h0M423 1034h0M421 1054h0M361 1077h0M270 1036h0M294 1044h0M473 1043h0M345 1078h0M422 1047h0M335 1037h0M454 1057h0M309 1023h0M457 1037h0M307 1033h0M405 1034h0M263 1048h0M355 1065h0M455 1046h0M407 1070h0M258 1036h0M344 1049h0M317 1059h0M378 1056h0M334 1079h0M402 1018h0M419 1040h0M427 1036h0M442 1029h0M396 1019h0M451 1037h0M249 1043h0M289 1045h0M341 1078h0M261 1036h0M312 1037h0M421 1004h0M308 1011h0M435 1028h0M434 1026h0M325 1073h0M452 1049h0M298 1008h0M328 1046h0M317 1028h0M439 1027h0M413 1045h0M245 1036h0M319 1015h0M383 1045h0M318 1033h0M395 1034h0M318 1024h0M372 1061h0M251 1032h0M315 1069h0M385 1037h0M322 1025h0M300 1039h0M396 1029h0M284 1040h0M331 1074h0M304 1019h0M308 1041h0M293 1029h0M312 1024h0M391 1037h0M291 1062h0M432 1066h0M382 1027h0M320 1073h0M291 1049h0M424 1045h0M293 1020h0M446 1050h0M295 1054h0M290 1043h0M376 1046h0M435 1031h0M409 1010h0M285 1031h0M425 1044h0M292 1033h0M308 1030h0M305 1059h0M253 1034h0M443 1065h0M281 1030h0M337 1011h0M284 1065h0M328 1037h0M280 1035h0M240 1043h0M419 1062h0M323 1071h0M438 1031h0M386 1048h0M444 1047h0M252 1052h0M301 1042h0M449 1037h0M427 1063h0M413 1028h0M419 1047h0M235 1032h0M379 1054h0M337 1041h0M468 1044h0M291 1044h0M401 1014h0M331 1036h0M302 1065h0M453 1036h0M446 1036h0M326 1028h0M320 1070h0M432 1003h0M424 1025h0M385 1010h0M312 1063h0M292 1054h0M420 1050h0M386 1078h0M295 1032h0M248 1035h0M344 1078h0M300 1034h0M451 1059h0M432 1017h0M285 1043h0M429 1043h0M328 1032h0M503 1036h0M319 985h0M316 1071h0M458 1029h0M419 1035h0M264 1028h0M328 1072h0M301 1021h0M282 1038h0M411 1064h0M333 1034h0M474 1032h0M270 1040h0M298 1036h0M347 1043h0M320 1032h0M424 1070h0M429 1008h0M288 1031h0M325 1029h0M411 1029h0M347 1049h0M468 1052h0M300 1033h0M418 1028h0M315 1041h0M318 1072h0M441 1034h0M280 1047h0M297 1021h0M327 1034h0M281 1041h0M318 1011h0M456 1043h0M284 1059h0M337 1028h0M314 1035h0M378 1034h0M441 1046h0M425 1048h0M446 1040h0M296 1066h0M304 1023h0M408 1014h0M306 1035h0M306 1036h0M286 1058h0M478 1031h0M403 1075h0M420 1025h0M332 1032h0M395 993h0M437 1028h0M291 1037h0M441 1028h0M305 1054h0M385 1043h0M406 1021h0M346 1041h0M294 1062h0M276 1030h0M409 1073h0M407 1032h0M441 1049h0M418 1037h0M310 981h0M273 1043h0M398 994h0M358 1069h0M292 1008h0M419 1065h0M283 1052h0M399 1032h0M288 1048h0M329 996h0M276 1054h0M385 1036h0M405 1073h0M427 1005h0M446 1031h0M333 1027h0M294 1016h0M294 1067h0M316 1006h0M471 1030h0M260 1039h0M298 1060h0M307 1027h0M324 1027h0M274 1053h0M391 1023h0M339 1042h0M395 1075h0M404 1033h0M462 1039h0M298 1004h0M423 1000h0M427 995h0M408 1009h0M276 1049h0M419 988h0M328 1023h0M429 1011h0M440 1062h0M270 1058h0M425 1041h0M421 1000h0M424 1006h0M306 1074h0M297 1026h0M419 1020h0M398 1034h0M452 1033h0M446 1045h0M292 1043h0M281 1042h0M443 1043h0M462 1046h0M303 1025h0M257 1052h0M430 1059h0M445 1045h0M298 1006h0M415 1023h0M441 1058h0M393 1028h0M469 1035h0M249 1048h0M417 1008h0M426 1021h0M257 1029h0M368 1073h0M283 1045h0M295 1034h0M393 1013h0M343 1035h0M425 1059h0M291 1029h0M423 1031h0M309 1035h0M434 1031h0M313 993h0M296 1018h0M400 1034h0M497 1034h0M318 1031h0M424 1014h0M287 1047h0M416 1025h0M299 1017h0M265 1038h0M308 1023h0M261 1051h0M421 1068h0M435 1055h0M300 1062h0M456 1053h0M273 1032h0M394 1032h0M306 1066h0M411 1065h0M350 1055h0M338 1026h0M472 1038h0M301 1011h0M417 1014h0M303 1035h0M320 1027h0M438 1062h0M388 1038h0M385 1027h0M410 1028h0M274 1043h0M295 1052h0M463 1037h0M460 1045h0M422 1017h0M281 1028h0M440 1042h0M409 1021h0M309 1069h0M309 1066h0M323 1074h0M481 1033h0M392 1031h0M235 1039h0M263 1053h0M347 1048h0M266 1048h0M430 1013h0M314 1032h0M328 1077h0M278 1044h0M287 1061h0M349 1038h0M349 992h0M373 954h0M369 1017h0M361 1050h0M372 997h0M369 998h0M347 1028h0M370 1038h0M349 1032h0M352 1021h0M352 970h0M356 1013h0M354 964h0M351 1024h0M380 993h0M359 1045h0M344 866h0M371 1045h0M358 1028h0M352 926h0M379 1026h0M356 1011h0M329 1012h0M366 1033h0M373 988h0M354 996h0M354 998h0M381 973h0M374 979h0M337 972h0M352 1016h0M376 1033h0M375 1010h0M340 1014h0M434 1022h0M332 930h0M391 952h0M378 985h0M353 1008h0M369 1010h0M374 994h0M374 1023h0M347 1006h0M374 953h0M355 1026h0M359 1017h0M370 1006h0M373 961h0M382 1030h0M375 1042h0M357 989h0M372 971h0M349 998h0M368 1054h0M335 989h0M372 964h0M377 948h0M369 1001h0M345 995h0M353 1004h0M373 1008h0M386 1029h0M328 1024h0M342 971h0M343 1012h0M352 994h0M356 991h0M349 1014h0M371 970h0M405 949h0M317 969h0M350 951h0M354 947h0M375 1002h0M372 1007h0M331 1025h0M385 1008h0M354 1030h0M353 953h0M357 1025h0M387 1010h0M348 946h0M377 939h0M349 1029h0M385 989h0M370 1029h0M340 879h0M374 1032h0M357 1002h0M350 946h0M356 983h0M346 1017h0M350 945h0M356 1022h0M370 974h0M374 976h0M373 976h0M337 926h0M349 935h0M340 979h0M338 894h0M344 1010h0M338 913h0M336 865h0M371 1014h0M372 952h0M401 1005h0M347 1020h0M355 974h0M355 1029h0M380 1020h0M341 1006h0M376 951h0M342 980h0M346 951h0M356 999h0M384 934h0M380 1037h0M339 989h0M372 1038h0M378 999h0M353 1006h0M396 949h0M397 995h0M374 989h0M369 1052h0M375 1014h0M353 944h0M378 955h0M389 891h0M377 1007h0M357 1017h0M368 1017h0M369 1018h0M336 1033h0M354 1037h0M356 1005h0M426 991h0M359 1030h0M346 979h0M398 950h0M359 1025h0M372 1042h0M346 1014h0M378 966h0M367 1040h0M369 1023h0M354 1012h0M350 967h0M377 998h0M373 984h0M396 991h0M383 986h0M372 982h0M378 993h0M378 1019h0M340 968h0M352 1010h0M410 1001h0M351 1013h0M341 1022h0M357 1006h0M369 994h0M374 945h0M383 1002h0M373 1029h0M349 995h0M347 1035h0M374 929h0M338 1002h0M358 1049h0M391 1022h0M354 974h0M358 1014h0M351 896h0M338 968h0M370 1035h0M379 959h0M356 1028h0M393 977h0M340 946h0M332 1005h0M375 924h0M341 952h0M380 981h0M352 929h0M372 1027h0M379 988h0M378 972h0M373 985h0M373 992h0M370 1004h0M348 993h0M343 975h0M374 925h0M375 933h0M342 830h0M376 1041h0M350 961h0M388 1005h0M372 998h0M357 1019h0M350 1004h0M346 965h0M379 946h0M382 1010h0M376 1019h0M351 1038h0M372 1011h0M375 1004h0M373 948h0M368 1046h0M356 1047h0M344 1015h0M375 910h0M348 1044h0M376 990h0M371 1022h0M353 935h0M390 1013h0M376 919h0M375 1041h0M353 1051h0M318 981h0M353 980h0M370 1025h0M372 944h0M353 982h0M323 966h0M369 996h0M377 996h0M359 1040h0M342 1018h0M354 1025h0M345 962h0M341 926h0M403 956h0M343 832h0M375 968h0M378 979h0M380 1031h0M358 1032h0M357 1009h0M354 991h0M386 1000h0M349 921h0M343 978h0M346 992h0M353 961h0M336 1010h0M430 1024h0M384 941h0M379 926h0M384 937h0M346 991h0M382 1016h0M348 1017h0M341 1041h0M355 1038h0M348 884h0M376 944h0M349 939h0M399 1022h0M404 977h0M379 961h0M385 1016h0M375 958h0M348 863h0M351 1000h0M382 951h0M373 1020h0M344 961h0M377 1014h0M323 1015h0M352 999h0M355 972h0M369 987h0M378 904h0M381 992h0M348 1011h0M375 1007h0M379 900h0M358 1048h0M398 1007h0M349 979h0M382 994h0M340 999h0M352 996h0M374 1051h0M375 982h0M340 915h0M342 985h0M395 983h0M347 972h0M346 948h0M337 1038h0M346 1006h0M342 1000h0M333 988h0M377 940h0M377 979h0M358 1036h0M354 994h0M381 1007h0M350 1039h0M373 1037h0M379 879h0M351 958h0M336 882h0M349 1024h0M379 1009h0M373 978h0M382 979h0M379 922h0M387 1006h0M383 987h0M369 1052h0M352 937h0M348 911h0M332 992h0M321 1004h0M365 1050h0M345 892h0M350 1036h0M354 1034h0M368 1013h0M342 1046h0M343 1023h0M355 979h0M358 1037h0M415 1028h0M367 1021h0M373 1025h0M349 926h0M375 960h0M380 897h0M370 1032h0M376 1045h0M356 993h0M386 1022h0M341 928h0M373 1048h0M390 984h0M347 959h0M402 1022h0M387 838h0M376 968h0M386 891h0M398 1015h0M384 984h0M377 1037h0M371 1024h0M389 966h0M392 1016h0M374 1053h0M379 950h0M372 1056h0M439 1047h0M386 909h0M377 914h0M342 1026h0M374 938h0M376 883h0M350 1028h0M429 1021h0M367 1024h0M386 960h0M329 983h0M358 1010h0M344 965h0M337 1019h0M324 962h0M379 1001h0M346 1038h0M353 1016h0M355 1020h0M346 1020h0M360 1040h0M345 1029h0M342 994h0M392 988h0M347 979h0M343 1033h0M351 972h0M378 890h0M368 1034h0M342 956h0M369 1026h0M345 945h0M371 1032h0M374 915h0M338 1014h0M372 1052h0M342 895h0M380 973h0M379 938h0M385 957h0M341 1002h0M386 1014h0M348 891h0M345 982h0M353 956h0M380 954h0M347 1005h0M380 1017h0M377 1010h0M338 962h0M356 978h0M393 998h0M379 995h0M368 1012h0M356 986h0M350 1006h0M389 837h0M349 1023h0M350 906h0M344 928h0M384 1033h0M344 1005h0M353 1013h0M353 1052h0M378 864h0M353 1048h0M346 986h0M334 1009h0M348 1026h0M353 1021h0M376 912h0M366 1036h0M398 1028h0M357 1042h0M345 925h0M373 997h0M338 1005h0M389 921h0M381 914h0M382 898h0M378 1021h0M344 994h0M355 968h0M345 967h0M329 977h0M387 999h0M387 1030h0M347 1054h0M375 1029h0M352 987h0M421 1012h0M344 960h0M352 1032h0M315 997h0M356 1032h0M329 1019h0M352 961h0M384 976h0M377 1001h0M385 1000h0M370 1048h0M382 1025h0M378 1025h0M375 920h0M352 988h0M344 990h0M351 960h0M378 941h0M372 956h0M372 1051h0M389 989h0M372 947h0M379 1027h0M340 956h0M348 906h0M376 908h0M348 1035h0M378 1011h0M354 976h0M377 1027h0M392 959h0M351 933h0M356 996h0M366 1046h0M350 981h0M394 930h0M352 974h0M375 1016h0M386 919h0M324 1006h0M388 905h0M367 1051h0M378 1018h0M383 1033h0M387 907h0M372 979h0M375 919h0M375 941h0M342 907h0M331 963h0M358 1022h0M406 1015h0M383 1035h0M351 939h0M341 868h0M400 991h0M373 1036h0M352 983h0M385 929h0M353 929h0M377 1011h0M354 1001h0M352 978h0M368 1040h0M343 1001h0M344 1024h0M347 867h0M350 953h0M349 976h0M330 999h0M344 932h0M378 894h0M343 1038h0M353 977h0M394 1023h0M382 815h0M341 871h0M378 934h0M376 926h0M371 990h0M350 1040h0M349 1010h0M367 1028h0M321 998h0M315 985h0M399 955h0M342 943h0M341 1012h0M336 955h0M381 916h0M358 1011h0M314 1027h0M347 961h0M384 1023h0M377 1030h0M327 1006h0M358 1018h0M349 898h0M383 956h0M384 965h0M355 971h0M321 1005h0M342 850h0M392 992h0M336 986h0M375 1011h0M348 971h0M373 997h0M383 1005h0M352 990h0M342 1031h0M361 1048h0M348 890h0M338 900h0M344 1006h0M374 965h0M344 982h0M339 960h0M417 1000h0M388 977h0M328 1019h0M371 974h0M367 1015h0M378 1003h0M380 956h0M345 1008h0M353 1040h0M346 1004h0M344 1043h0M370 990h0M370 976h0M336 1023h0M349 882h0M349 923h0M387 1011h0M381 1023h0M351 963h0M389 835h0M377 960h0M356 1040h0M378 1005h0M347 982h0M389 1009h0M375 948h0M357 1053h0M389 850h0M358 1005h0M346 938h0M381 970h0M353 1033h0M375 1026h0M371 1000h0M351 970h0M412 991h0M353 988h0M337 994h0M379 907h0M367 1029h0M351 951h0M344 1018h0M391 981h0M353 939h0M370 980h0M376 897h0M341 988h0M427 1014h0M359 1043h0M400 993h0M338 1002h0M348 977h0M377 984h0M375 1048h0M349 898h0M386 982h0M368 1042h0M346 865h0M348 903h0M336 994h0M424 1011h0M390 1007h0M418 1015h0M352 1010h0M340 1009h0M345 900h0M369 1011h0M341 1024h0M340 961h0M370 984h0M397 1003h0M337 1004h0M384 955h0M381 940h0M335 999h0M387 1014h0M325 1003h0M351 1029h0M383 923h0M336 1014h0M391 1016h0M370 973h0M389 940h0M382 1043h0M393 1029h0M352 941h0M386 961h0M343 922h0M372 958h0M392 983h0M350 971h0M342 919h0M384 887h0M355 1035h0M349 936h0M372 1016h0M405 995h0M347 1000h0M401 960h0M378 881h0M353 927h0M352 953h0M351 1043h0M343 887h0M385 992h0M385 820h0M334 951h0M345 1021h0M368 1043h0M371 967h0M390 934h0M328 1004h0M331 992h0M338 1025h0M349 875h0M399 1008h0M334 1023h0M350 903h0M409 1025h0M407 1009h0M348 964h0M375 914h0M356 1051h0M376 958h0M380 983h0M333 983h0M350 915h0M383 812h0M347 936h0M399 1017h0M335 1020h0M361 1046h0M379 895h0M324 972h0M346 917h0M350 989h0M382 943h0M346 839h0M376 900h0M338 957h0M351 919h0M328 967h0M336 1000h0M400 997h0M388 1015h0M326 968h0M334 987h0M350 984h0M383 927h0M335 1006h0M351 924h0M381 945h0M390 989h0M378 975h0M394 1002h0M383 846h0M331 1000h0M312 982h0M395 1024h0M359 1053h0M395 1006h0M336 870h0M384 1020h0M381 976h0M383 1011h0M336 914h0M341 986h0M321 1017h0M368 1048h0M391 963h0M320 1019h0M345 923h0M383 831h0M383 965h0M306 982h0M396 985h0M398 979h0M342 1030h0M390 931h0M334 1018h0M324 970h0M424 1028h0M376 923h0M339 970h0M347 942h0M343 859h0M374 1034h0M341 806h0M394 887h0M378 1050h0M398 988h0M343 1029h0M357 1045h0M390 1012h0M382 839h0M389 1028h0M376 966h0M346 956h0M386 967h0M391 998h0M342 968h0M375 963h0M392 938h0M329 951h0M328 941h0M379 1014h0M375 972h0M397 1012h0M347 989h0M353 942h0M394 905h0M392 1023h0M404 1013h0M353 1042h0M391 1001h0M378 937h0M385 866h0M375 907h0M338 953h0M335 1031h0M491 1035h0M385 868h0M345 911h0M343 995h0M346 860h0M355 968h0M341 1017h0M380 924h0M386 877h0M352 917h0M381 1019h0M400 937h0M392 923h0M393 1012h0M340 964h0M345 1043h0M346 1025h0M377 969h0M341 808h0M375 954h0M388 994h0M399 1029h0M398 954h0M379 1033h0M401 1011h0M340 949h0M415 997h0M388 970h0M349 871h0M371 1040h0M394 1003h0M342 960h0M396 997h0M397 1020h0M344 901h0M400 964h0M335 972h0M337 964h0M396 977h0M382 1022h0M353 934h0M403 988h0M344 940h0M411 959h0M355 985h0M423 1002h0M394 966h0M376 886h0M322 992h0M382 854h0M343 812h0M392 1006h0M322 974h0M342 906h0M344 869h0M336 961h0M388 952h0M343 950h0M380 1034h0M376 920h0M384 1002h0M379 1003h0M405 1019h0M386 1006h0M335 983h0M341 973h0M382 968h0M333 994h0M348 958h0M401 976h0M374 969h0M345 1032h0M326 1020h0M350 909h0M337 1022h0M388 1020h0M304 1011h0M383 934h0M388 879h0M329 1002h0M313 1012h0M347 1001h0M388 1027h0M331 953h0M409 1004h0M409 977h0M377 891h0M337 1016h0M396 999h0M327 980h0M338 932h0M386 901h0M351 899h0M377 903h0M324 995h0M381 904h0M376 911h0M386 959h0M321 1022h0M334 958h0M339 924h0M379 966h0M341 983h0M376 901h0M354 1046h0M349 949h0M339 917h0M330 1007h0M338 851h0M344 932h0M394 974h0M309 1010h0M338 1010h0M329 998h0M346 954h0M348 916h0M366 1054h0M325 1023h0M372 1002h0M346 921h0M335 919h0M385 985h0M386 969h0M392 976h0M381 877h0M345 1011h0M398 997h0M387 950h0M380 927h0M341 1019h0M321 1012h0M345 971h0M383 889h0M320 1004h0M328 1009h0M383 949h0M340 1004h0M344 835h0M348 940h0M343 838h0M387 937h0M334 1025h0M334 995h0M350 913h0M352 1048h0M333 964h0M351 1018h0M343 923h0M347 947h0M341 975h0M370 984h0M328 1029h0M373 933h0M412 962h0M385 817h0M375 990h0M344 972h0M387 943h0M408 1006h0M331 1026h0M336 1012h0M376 928h0M338 998h0M344 830h0M339 937h0M378 947h0M342 925h0M386 996h0M391 882h0M328 990h0M411 1024h0M380 892h0M329 942h0M350 963h0M354 950h0M390 957h0M390 995h0M382 981h0M374 931h0M345 998h0M395 952h0M333 1013h0M386 979h0M379 987h0M383 902h0M388 991h0M431 1008h0M386 1022h0M381 899h0M397 972h0M388 966h0M386 947h0M384 972h0M403 995h0M342 856h0M385 916h0M333 949h0M389 992h0M315 991h0M386 1025h0M384 931h0M384 912h0M394 979h0M384 924h0M379 992h0M379 882h0M342 944h0M379 835h0M384 987h0M383 946h0M377 988h0M348 931h0M399 987h0M397 1018h0M265 1031h0M346 858h0M345 933h0M347 858h0M402 1003h0M382 971h0M376 937h0M382 1014h0M343 874h0M324 998h0M361 1056h0M368 1007h0M333 914h0M348 887h0M340 933h0M343 910h0M404 1019h0M375 906h0M375 937h0M343 852h0M485 1043h0M372 938h0M381 963h0M312 965h0M403 1016h0M377 962h0M342 897h0M385 898h0M340 995h0M321 999h0M331 916h0M347 877h0M286 1036h0M411 967h0M382 909h0M337 896h0M346 931h0M389 970h0M404 999h0M390 979h0M382 894h0M344 955h0M330 1008h0M327 994h0M348 919h0M307 1014h0M321 1017h0M417 1016h0M336 1023h0M379 870h0M268 1051h0M392 985h0M389 960h0M378 930h0M348 944h0M383 1038h0M352 1053h0M373 937h0M397 990h0M411 1023h0M382 885h0M348 905h0M328 976h0M337 939h0M387 1031h0M322 980h0M384 938h0M408 1020h0M379 1042h0M309 990h0M372 949h0M352 923h0M326 991h0M383 825h0M396 1015h0M340 914h0M382 1000h0M378 877h0M349 966h0M335 931h0M412 1018h0M349 955h0M379 934h0M382 917h0M383 954h0M334 998h0M355 963h0M335 943h0M414 1015h0M334 935h0M379 842h0M385 978h0M388 873h0M398 969h0M346 916h0M328 962h0M393 956h0M381 995h0M379 860h0M373 941h0M341 942h0M402 1025h0M325 987h0M348 911h0M394 1022h0M332 1016h0M344 815h0M335 979h0M345 869h0M395 1009h0M350 948h0M345 827h0M337 865h0M384 1003h0M383 850h0M347 975h0M386 995h0M350 894h0M395 1010h0M368 1020h0M313 971h0M381 935h0M380 840h0M387 919h0M343 892h0M415 1019h0M392 940h0M345 886h0M389 1002h0M306 980h0M403 974h0M422 1024h0M341 875h0M334 934h0M337 1016h0M321 997h0M377 879h0M340 980h0M380 859h0M381 959h0M326 1000h0M334 967h0M392 934h0M269 1036h0M351 1051h0M405 994h0M297 1024h0M386 988h0M344 864h0M426 1031h0M344 946h0M410 1010h0M391 955h0M346 905h0M403 967h0M308 1020h0M331 994h0M421 1007h0M348 855h0M330 892h0M339 920h0M390 884h0M358 1003h0M402 994h0M396 981h0M352 920h0M417 999h0M360 1056h0M375 901h0M404 1010h0M380 830h0M342 955h0M313 1010h0M351 932h0M337 970h0M343 989h0M303 1001h0M382 928h0M345 878h0M389 968h0M330 974h0M380 976h0M421 1019h0M431 1018h0M382 867h0M381 919h0M344 942h0M379 912h0M386 972h0M396 971h0M383 856h0M333 1001h0M337 945h0M378 873h0M288 1028h0M343 897h0M392 997h0M344 969h0M345 898h0M381 880h0M402 1005h0M326 994h0M417 993h0M403 986h0M392 1035h0M337 996h0M350 878h0M307 991h0M368 1056h0M385 911h0M329 930h0M340 842h0M399 984h0M336 952h0M312 1000h0M431 1028h0M343 904h0M405 997h0M355 965h0M384 943h0M395 936h0M329 969h0M325 979h0M344 914h0M410 992h0M386 980h0M350 887h0M311 1003h0M346 863h0M315 988h0M396 960h0M391 943h0M340 921h0M339 978h0M340 936h0M339 826h0M466 1037h0M342 878h0M390 948h0M340 846h0M333 1012h0M417 995h0M391 991h0M347 871h0M334 975h0M324 1009h0M293 1025h0M384 894h0M303 1014h0M294 1014h0M385 952h0M378 849h0M380 952h0M334 947h0M383 984h0M391 985h0M395 1002h0M382 906h0M344 916h0M337 813h0M341 819h0M404 954h0M402 952h0M335 974h0M387 968h0M388 924h0M378 859h0M379 875h0M380 932h0M343 826h0M387 975h0M348 849h0M392 908h0M316 1014h0M321 950h0M335 915h0M341 852h0M391 975h0M338 896h0M386 828h0M333 939h0M387 903h0M329 1016h0M310 978h0M397 1010h0M344 906h0M370 968h0M334 976h0M424 1009h0M350 891h0M391 1001h0M405 985h0M309 1018h0M330 986h0M403 981h0M382 931h0M393 950h0M344 949h0M331 1015h0M326 984h0M342 882h0M319 991h0M332 933h0M382 974h0M390 924h0M405 956h0M316 1022h0M395 967h0M383 909h0M386 955h0M334 1003h0M323 1012h0M392 970h0M351 908h0M391 941h0M394 918h0M380 850h0M393 901h0M338 984h0M326 987h0M446 1035h0M358 1001h0M390 901h0M381 938h0M389 925h0M387 930h0M329 953h0M405 989h0M348 865h0M379 853h0M400 969h0M380 890h0M328 977h0M350 881h0M404 983h0M377 870h0M390 938h0M293 1021h0M375 898h0M346 837h0M407 949h0M347 853h0M336 980h0M345 816h0M386 940h0M329 1011h0M379 887h0M361 1053h0M305 977h0M400 958h0M348 861h0M341 930h0M338 991h0M339 945h0M317 1021h0M402 991h0M394 966h0M460 1030h0M346 832h0M316 996h0M338 918h0M290 1037h0M337 952h0M292 1025h0M311 1016h0M384 881h0M393 1008h0M389 878h0M383 861h0M397 967h0M383 820h0M326 981h0M405 989h0M430 1001h0M389 929h0M382 836h0M340 892h0M406 984h0M341 889h0M342 911h0M330 929h0M321 1023h0M322 984h0M334 973h0M338 825h0M344 884h0M435 1049h0M385 871h0M396 989h0M413 1006h0M427 1017h0M397 1001h0M335 905h0M324 1019h0M316 1002h0M346 842h0M328 972h0M385 847h0M339 812h0M324 958h0M331 987h0M389 947h0M379 846h0M345 877h0M328 1015h0M341 858h0M311 1019h0M327 959h0M342 887h0M370 969h0M383 836h0M312 987h0M344 903h0M387 853h0M345 806h0M385 925h0M345 912h0M378 847h0M399 983h0M349 927h0M380 902h0M337 856h0M383 921h0M253 1042h0M331 879h0M387 985h0M418 987h0M382 869h0M394 927h0M423 998h0M383 858h0M419 1011h0M336 869h0M316 1000h0M367 1071h0M364 1060h0M359 1065h0M360 1060h0M369 1063h0M363 1062h0M370 1066h0M361 1065h0M361 1062h0M358 1058h0M362 1074h0M369 1058h0M365 1076h0M360 1072h0M357 1061h0M364 1065h0M363 1069h0M377 1082h0M359 1072h0M363 1074h0M368 1060h0M372 1057h0M343 1081h0M359 1061h0M378 1081h0M388 1082h0M357 1063h0M367 1058h0M363 1058h0M357 1057h0M366 1062h0M366 1065h0M365 1072h0M366 1060h0M342 1081h0M362 1059h0M358 1063h0M349 1081h0M361 1067h0M353 1057h0M385 1081h0M336 1082h0M353 1058h0M367 1070h0M390 1078h0" stroke="#c8c8c8" stroke-width="5.4" stroke-linecap="round" fill="none" opacity="1.0"/>
<path transform="scale(0.5)" d="M381 726h0M381 740h0M350 766h0M396 750h0M321 740h0M414 787h0M335 791h0M386 637h0M401 633h0M331 707h0M401 787h0M302 796h0M371 684h0M344 697h0M409 744h0" stroke="#d4d4d4" stroke-width="5.4" stroke-linecap="round" fill="none" opacity="1.0"/>
<path transform="scale(0.5)" d="M517 1020h0M441 1022h0M469 992h0M478 1016h0M489 1017h0M518 1025h0M468 968h0M479 978h0M464 1011h0M516 995h0M462 996h0M452 1013h0M454 994h0M518 940h0M548 1006h0M501 1021h0M460 1026h0M471 982h0M446 1016h0M458 1001h0M465 969h0M582 644h0" stroke="#e0221e" stroke-width="5.4" stroke-linecap="round" fill="none" opacity="0.68"/>
<path transform="scale(0.5)" d="M494 1009h0M443 1010h0M486 998h0M440 993h0M453 1022h0M470 1016h0M494 1018h0M540 1007h0M460 1015h0M477 1014h0M541 1001h0M459 1022h0M468 999h0M463 997h0M448 1016h0M456 997h0M446 986h0M452 949h0M572 1007h0M463 949h0M449 1013h0M482 922h0" stroke="#e0221e" stroke-width="5.4" stroke-linecap="round" fill="none" opacity="0.68"/>
<path transform="scale(0.5)" d="M515 1020h0M456 1007h0M448 1022h0M469 920h0M460 997h0M442 966h0M480 1010h0M512 973h0M443 953h0M458 1000h0M448 1001h0M482 998h0M445 1024h0M517 940h0M468 1021h0M449 991h0M506 980h0M473 1002h0M502 1001h0M525 957h0M475 794h0M548 980h0" stroke="#e0221e" stroke-width="5.4" stroke-linecap="round" fill="none" opacity="0.68"/>
<path transform="scale(0.5)" d="M453 1006h0M451 1019h0M475 999h0M549 937h0M496 1026h0M497 974h0M479 1020h0M459 1008h0M450 1013h0M563 1005h0M471 938h0M468 945h0M447 1024h0M446 981h0M528 1002h0M446 1025h0M479 1009h0M485 1018h0M462 992h0M485 1025h0M490 811h0M582 1025h0" stroke="#e0221e" stroke-width="5.4" stroke-linecap="round" fill="none" opacity="0.68"/>
<path transform="scale(0.5)" d="M258 999h0M268 1023h0M245 976h0M237 1019h0M269 1027h0M253 1025h0M278 1000h0M268 998h0M256 1004h0M251 980h0" stroke="#3c3cb0" stroke-width="5.4" stroke-linecap="round" fill="none" opacity="0.68"/>
<path transform="scale(0.5)" d="M269 1009h0M252 1009h0M274 1010h0M285 1007h0M250 1019h0M273 940h0M251 982h0M279 1013h0M140 965h0" stroke="#3c3cb0" stroke-width="5.4" stroke-linecap="round" fill="none" opacity="0.68"/>
<path transform="scale(0.5)" d="M270 1011h0M271 1022h0M215 1023h0M250 977h0M245 969h0M235 1006h0M282 1019h0M163 1026h0M263 892h0" stroke="#3c3cb0" stroke-width="5.4" stroke-linecap="round" fill="none" opacity="0.68"/>
<path transform="scale(0.5)" d="M277 1006h0M274 1013h0M277 1022h0M268 1011h0M255 1027h0M279 1021h0M268 1026h0M214 1023h0M213 986h0" stroke="#3c3cb0" stroke-width="5.4" stroke-linecap="round" fill="none" opacity="0.68"/>
</g>
<line x1="143.6" y1="316.8" x2="143.6" y2="551.3" stroke="#505050" stroke-width="0.9" stroke-dasharray="2.1 2.3"/>
<line x1="216.2" y1="316.8" x2="216.2" y2="551.3" stroke="#505050" stroke-width="0.9" stroke-dasharray="2.1 2.3"/>
<line x1="55" y1="513.4" x2="308.4" y2="513.4" stroke="#505050" stroke-width="0.9" stroke-dasharray="2.1 2.3"/>
<line x1="52.5" y1="541.2" x2="55" y2="541.2" stroke="#cfcfcf" stroke-width="0.8"/>
<text x="50.7" y="545.4" font-size="11.6" fill="#4d4d4d" stroke="#4d4d4d" stroke-width="0.28" text-anchor="end">0.0</text>
<line x1="52.5" y1="487.7" x2="55" y2="487.7" stroke="#cfcfcf" stroke-width="0.8"/>
<text x="50.7" y="491.9" font-size="11.6" fill="#4d4d4d" stroke="#4d4d4d" stroke-width="0.28" text-anchor="end">2.5</text>
<line x1="52.5" y1="434.2" x2="55" y2="434.2" stroke="#cfcfcf" stroke-width="0.8"/>
<text x="50.7" y="438.4" font-size="11.6" fill="#4d4d4d" stroke="#4d4d4d" stroke-width="0.28" text-anchor="end">5.0</text>
<line x1="52.5" y1="380.7" x2="55" y2="380.7" stroke="#cfcfcf" stroke-width="0.8"/>
<text x="50.7" y="384.9" font-size="11.6" fill="#4d4d4d" stroke="#4d4d4d" stroke-width="0.28" text-anchor="end">7.5</text>
<line x1="52.5" y1="327.2" x2="55" y2="327.2" stroke="#cfcfcf" stroke-width="0.8"/>
<text x="50.7" y="331.4" font-size="11.6" fill="#4d4d4d" stroke="#4d4d4d" stroke-width="0.28" text-anchor="end">10.0</text>
<line x1="104.5" y1="551.3" x2="104.5" y2="553.8" stroke="#cfcfcf" stroke-width="0.8"/>
<text x="104.5" y="563.5999999999999" font-size="11.6" fill="#4d4d4d" stroke="#4d4d4d" stroke-width="0.28" text-anchor="middle">-2</text>
<line x1="181.5" y1="551.3" x2="181.5" y2="553.8" stroke="#cfcfcf" stroke-width="0.8"/>
<text x="181.5" y="563.5999999999999" font-size="11.6" fill="#4d4d4d" stroke="#4d4d4d" stroke-width="0.28" text-anchor="middle">0</text>
<line x1="258.5" y1="551.3" x2="258.5" y2="553.8" stroke="#cfcfcf" stroke-width="0.8"/>
<text x="258.5" y="563.5999999999999" font-size="11.6" fill="#4d4d4d" stroke="#4d4d4d" stroke-width="0.28" text-anchor="middle">2</text>
<text x="178.5" y="578" font-size="12" fill="#1a1a1a" stroke="#1a1a1a" stroke-width="0.28" text-anchor="middle">Fold Change (Log<tspan font-size="7.8" dy="3">2</tspan><tspan dy="-3">)</tspan></text>
<text transform="translate(21,434.4) rotate(-90)" font-size="12.1" fill="#1a1a1a" stroke="#1a1a1a" stroke-width="0.28" text-anchor="middle">-log<tspan font-size="7.8" dy="3">10</tspan><tspan dy="-3">(p-value)</tspan></text>
<text x="66" y="336.0" font-size="12.2" fill="#4a4ab8" stroke="#4a4ab8" stroke-width="0.28" text-anchor="start">37 downregulated genes</text>
<text x="66" y="351.0" font-size="12.2" fill="#e02a2a" stroke="#e02a2a" stroke-width="0.28" text-anchor="start">88 upregulated genes</text>
<rect x="407" y="316.5" width="254.5" height="234.5" fill="#fff" stroke="#d4d4d4" stroke-width="1"/>
<clipPath id="clp4"><rect x="407" y="316.5" width="254.5" height="234.5"/></clipPath>
<g clip-path="url(#clp4)">
<path transform="scale(0.5)" d="M1010 996h0M997 992h0M936 1027h0M1202 1038h0M994 994h0M1000 975h0M1256 1036h0M1162 1063h0M1134 973h0M1220 1026h0M998 971h0M1193 1043h0M1194 1028h0M1165 1062h0M991 991h0M1001 950h0M1131 983h0M1219 1043h0M1194 1050h0M1130 987h0M1023 950h0M940 1039h0M1209 1048h0M1189 1041h0M926 1041h0M942 1026h0M1191 1044h0M928 1042h0M1138 961h0M967 1056h0M1144 967h0M1205 1056h0M1209 1038h0M1184 1054h0M1049 818h0M1123 959h0M1102 671h0M1049 809h0M1104 848h0M1049 788h0M1125 955h0M1099 816h0M1117 825h0M1013 963h0M1031 938h0M1016 977h0M1111 871h0M1035 926h0M1096 753h0M1096 737h0M1108 792h0M1009 981h0M1019 977h0M1095 707h0M1106 890h0M1123 963h0M1020 961h0M1036 927h0M1012 995h0M1101 740h0M942 1038h0M1098 846h0M1096 751h0M1044 865h0M1145 972h0M1051 810h0M1011 966h0M1092 755h0M1092 740h0M1015 878h0M1047 794h0M1053 824h0M1101 814h0M1124 952h0M1118 939h0M1135 973h0M1030 883h0M1049 795h0M1050 824h0M1106 874h0M1134 962h0M1048 761h0M1123 929h0M1036 903h0M1103 637h0M1091 757h0M1113 914h0M1105 760h0M1051 800h0M1052 820h0M1029 961h0M1108 783h0M1094 747h0M1105 906h0" stroke="#d6d6d6" stroke-width="5.4" stroke-linecap="round" fill="none" opacity="1.0"/>
<path transform="scale(0.5)" d="M1054 1067h0M1068 1081h0M1145 1050h0M1056 1075h0M1083 1064h0M1067 1080h0M1091 1063h0M1063 1073h0M1013 1034h0M1119 1063h0M1114 1050h0M1103 1063h0M1077 1073h0M1044 1075h0M1050 1045h0M1009 1050h0M1070 1081h0M1023 1011h0M1065 1078h0M1082 1072h0M1123 1042h0M1095 1063h0M1093 1040h0M1081 1075h0M1074 1080h0M1091 1038h0M1080 1075h0M1085 1073h0M998 1038h0M1041 1062h0M1047 1072h0M1103 1042h0M1084 1076h0M1047 1058h0M1088 1066h0M1105 1038h0M1090 1068h0M1014 1065h0M1119 1021h0M1048 1065h0M1021 1048h0M1072 1080h0M1077 1077h0M1105 1055h0M1000 1035h0M1062 1079h0M1051 1067h0M1034 1066h0M1109 1053h0M1052 1063h0M1035 1040h0M1111 1070h0M1045 1063h0M1060 1072h0M1036 1050h0M1110 1063h0M1042 1050h0M1090 1050h0M1081 1075h0M1050 1077h0M1023 1058h0M1059 1075h0M1083 1066h0M1034 1038h0M1099 1040h0M1093 1059h0M1041 1063h0M1121 1057h0M1076 1078h0M1015 1027h0M1060 1078h0M1054 1075h0M1018 1043h0M1107 1041h0M1100 1033h0M1093 1073h0M1046 1066h0M1037 1059h0M1090 1072h0M1054 1072h0M1079 1077h0M1094 1054h0M1023 1049h0M1067 1079h0M1157 1043h0M1039 1059h0M982 1054h0M1157 1052h0M1037 1064h0M1093 1067h0M1102 1069h0M1095 1070h0M1121 1049h0M1096 1061h0M1165 1029h0M1028 1014h0M990 1038h0M1128 1050h0M1020 1036h0M1035 1054h0M1012 1046h0M1050 1063h0M995 1031h0M1054 1073h0M1085 1071h0M1037 1060h0M1088 1069h0M1097 1064h0M1067 1077h0M1023 1041h0M1060 1074h0M1073 1081h0M1128 1044h0M1002 1051h0M1107 1062h0M1060 1076h0M1111 1046h0M1037 1057h0M1086 1033h0M1012 1051h0M1048 1066h0M1096 1065h0M1082 1068h0M1052 1065h0M1147 1037h0M1120 1060h0M1099 1060h0M1036 1064h0M1058 1078h0M1083 1057h0M1041 1056h0M1044 1066h0M1010 1029h0M1034 1044h0M977 1030h0M1108 1069h0M1086 1072h0M1139 1056h0M1051 1069h0M1101 1059h0M1050 1055h0M1034 1030h0M1058 1077h0M1025 1058h0M1107 1038h0M1075 1076h0M1131 1027h0M1093 1071h0M1130 1047h0M1048 1076h0M1104 1057h0M1028 1068h0M1078 1078h0M1106 1050h0M999 1040h0M1098 1045h0M1109 1048h0M1003 1032h0M1065 1080h0M1058 1071h0M1087 1075h0M1096 1066h0M1115 1051h0M1018 1064h0M1087 1067h0M1081 1078h0M1041 1042h0M1124 1048h0M976 1057h0M1136 1052h0M1112 1064h0M1066 1076h0M1042 1073h0M1049 1073h0M1032 1066h0M1107 1059h0M1055 1067h0M1145 1040h0M1055 1061h0M1093 1068h0M1110 1060h0M1019 1062h0M1024 1042h0M1118 1022h0M1030 1034h0M1015 1058h0M1089 1057h0M1097 1073h0M1105 1066h0M1040 1050h0M1042 1044h0M1100 1055h0M1100 1067h0M1058 1068h0M1142 1062h0M1078 1062h0M1030 1049h0M1081 1063h0M1103 1066h0M1054 1059h0M1101 1047h0M1038 1071h0M1115 1062h0M1084 1070h0M1087 1064h0M1060 1069h0M1140 1040h0M1091 1063h0M1094 1074h0M1048 1068h0M1107 1031h0M1104 1053h0M1011 1059h0M1005 1050h0M1087 1059h0M1084 1067h0M1038 1041h0M1042 1054h0M1108 1045h0M1101 1035h0M1059 1060h0M1099 1045h0M1119 1049h0M1089 1057h0M1020 1036h0M1093 1061h0M1119 1066h0M1051 1060h0M1100 1068h0M1095 1072h0M1118 1053h0M1094 1049h0M1050 1072h0M1124 1036h0M1042 1057h0M1113 1036h0M1027 1042h0M1034 1060h0M1027 1038h0M971 1051h0M1033 1064h0M1097 1069h0M1045 1058h0M1097 1051h0M1022 1046h0M1121 1001h0M1112 1060h0M1127 1054h0M1134 1042h0M1045 1056h0M1052 1077h0M1031 1055h0M1085 1060h0M1057 1072h0M1041 1068h0M1053 1055h0M977 1049h0M1018 1052h0M1034 1028h0M1105 1049h0M1116 1027h0M1089 1078h0M1115 1066h0M985 1027h0M1138 1032h0M1000 1004h0M1104 1045h0M1059 1059h0M1141 1009h0M1092 1077h0M1136 1031h0M983 1035h0M1135 1006h0M1096 1059h0M1044 1073h0M1099 1037h0M1041 1041h0M1102 1070h0M1000 1052h0M1129 1041h0M1062 1070h0M1121 1042h0M1100 1049h0M1119 1042h0M1099 1064h0M1036 1031h0M991 1035h0M1132 1066h0M1062 1063h0M1056 1068h0M1145 1019h0M1109 1067h0M1103 1055h0M1160 1036h0M1027 1059h0M1087 1060h0M1125 1030h0M1127 1047h0M1154 1037h0M1007 1052h0M1119 1045h0M1139 1054h0M1077 1072h0M1067 1075h0M1010 1004h0M1045 1052h0M1148 1035h0M1050 1073h0M1056 1046h0M1007 1032h0M1100 1053h0M1003 1045h0M1009 1055h0M1041 1072h0M1037 1066h0M1058 1067h0M1043 1055h0M1093 1050h0M1159 1033h0M1109 1058h0M1108 1050h0M960 1035h0M1090 1073h0M1075 1075h0M1121 1051h0M1104 1064h0M997 1049h0M1178 1037h0M1020 1070h0M1111 1041h0M1009 1043h0M1078 1072h0M1103 1049h0M1060 1067h0M1018 1018h0M1043 1062h0M1105 1060h0M1152 1055h0M1095 1043h0M1025 1056h0M1104 1044h0M998 1036h0M1048 1055h0M1013 1032h0M1137 1040h0M1126 1063h0M1055 1057h0M1108 1026h0M1014 1044h0M1050 1059h0M1102 1058h0M1046 1051h0M1046 1047h0M1122 1033h0M1084 1078h0M1051 1038h0M1013 1040h0M1052 1049h0M1110 1048h0M1045 1068h0M1097 1043h0M1007 1036h0M1033 1044h0M1011 1044h0M1044 1071h0M1078 1070h0M1145 1020h0M1022 1054h0M1054 1045h0M1118 1011h0M1098 1054h0M1032 1073h0M1032 1051h0M1130 1029h0M1130 1042h0M1123 1020h0M1005 1055h0M1118 1049h0M1027 1047h0M983 1027h0M1124 1052h0M1110 1049h0M1040 1066h0M1028 1064h0M1106 1070h0M1141 1037h0M996 1042h0M1033 1033h0M1105 1070h0M1127 1032h0M1089 1042h0M1066 1069h0M1027 1067h0M1093 1053h0M1033 1041h0M1019 1066h0M1109 1035h0M1112 1047h0M1028 1041h0M1058 1063h0M1105 1076h0M1030 1029h0M1003 1040h0M996 1008h0M1121 1067h0M1117 1039h0M1039 1035h0M1145 1007h0M1030 1056h0M1014 1056h0M1133 1051h0M1026 1026h0M1043 1038h0M1011 1047h0M1043 1068h0M1041 1036h0M1122 1053h0M1021 1041h0M1005 1048h0M1033 1052h0M1097 1072h0M1032 1038h0M1156 1034h0M1128 1068h0M1002 1047h0M1035 1055h0M1133 1057h0M1103 1053h0M1142 1054h0M1102 1036h0M1129 1058h0M1143 1052h0M1043 1072h0M1098 1062h0M1124 1055h0M1096 1030h0M1035 1043h0M1027 1051h0M1038 1036h0M1090 1076h0M1087 1076h0M1125 1044h0M1115 1049h0M1096 1059h0M1049 1060h0M1107 1023h0M1101 1045h0M1012 1063h0M1025 1039h0M1018 1045h0M1130 1041h0M1004 1048h0M994 1043h0M1089 1060h0M1027 1057h0M1159 1041h0M980 1046h0M1039 1054h0M1018 1055h0M998 1053h0M1031 1018h0M1002 1040h0M1103 1050h0M1041 1061h0M1036 1070h0M1094 1075h0M1117 1060h0M1120 1014h0M983 1030h0M1152 1044h0M1029 1046h0M1023 1027h0M1018 1041h0M987 1043h0M1035 1071h0M1139 1034h0M1002 1045h0M1122 1061h0M1022 1038h0M1131 1050h0M1120 1040h0M1092 1056h0M1012 1056h0M1101 1072h0M1138 1062h0M1056 1078h0M1146 1045h0M1027 1062h0M1121 1045h0M1006 1044h0M1184 1030h0M960 1038h0M1001 1031h0M1035 1036h0M1102 1060h0M1011 1041h0M1120 1025h0M1114 1061h0M1121 1031h0M1024 1064h0M1007 1058h0M1016 1028h0M1116 1045h0M1129 1052h0M1045 1061h0M1036 1069h0M1112 1055h0M1032 1048h0M1097 1039h0M1096 1047h0M1010 1000h0M1116 1055h0M1021 1042h0M1106 1061h0M1048 1046h0M1142 1046h0M1050 1047h0M1054 1051h0M954 1049h0M1010 1033h0M1034 1049h0M1093 1049h0M1122 1039h0M1038 1050h0M1024 1034h0M1017 1050h0M991 1031h0M1033 1060h0M1037 1046h0M1111 1052h0M986 1042h0M1123 1059h0M1019 1048h0M1099 1027h0M1030 1066h0M1011 1025h0M1022 1067h0M1024 1048h0M1038 1039h0M963 1036h0M1053 1061h0M1027 1054h0M1105 1029h0M1131 1044h0M998 1043h0M964 1033h0M1002 1042h0M1121 1038h0M1024 1022h0M1101 1010h0M1031 1058h0M1004 1062h0M1105 1031h0M1021 1035h0M993 1031h0M1019 1033h0M1057 1050h0M1138 1050h0M1106 1055h0M1013 1037h0M1113 1043h0M1037 1028h0M1020 1027h0M1024 1050h0M1080 1070h0M1125 1053h0M1160 1038h0M1153 1051h0M1147 1043h0M1114 1067h0M1140 1040h0M1014 1054h0M1022 1055h0M1040 1073h0M1149 1037h0M1006 1061h0M1039 1048h0M1148 1039h0M1111 1056h0M1079 1051h0M1045 1032h0M1112 1040h0M1136 1062h0M1037 1052h0M1029 1051h0M1099 1073h0M990 1057h0M1113 1053h0M1028 1032h0M1140 1064h0M1029 1061h0M1121 1033h0M1154 1051h0M1048 1050h0M1113 932h0M1035 1031h0M1026 1044h0M1008 1046h0M989 1035h0M1025 1011h0M1024 1045h0M1112 1031h0M1094 1030h0M1010 1040h0M1128 1048h0M1118 1037h0M1135 1053h0M1080 1063h0M1020 1054h0M1117 1057h0M1016 1032h0M1050 1051h0M1144 1048h0M1172 1054h0M1105 1040h0M995 1040h0M1009 1029h0M1025 1065h0M1111 1073h0M997 1062h0M1040 1033h0M1000 1025h0M1020 1059h0M1114 1022h0M1029 1031h0M1030 1064h0M1055 1054h0M1135 1058h0M1143 1031h0M1120 1067h0M1017 1043h0M1022 1018h0M1035 1059h0M1007 1038h0M1124 1031h0M1114 1058h0M1015 1047h0M1081 1060h0M1098 1055h0M1130 1056h0M950 1036h0M1039 1074h0M1015 1051h0M1117 1040h0M1016 1041h0M1119 1027h0M1109 1069h0M1099 1029h0M1014 1044h0M1119 1064h0M1120 1016h0M1053 1053h0M1088 1052h0M1029 1027h0M1017 1034h0M1029 1043h0M1129 1037h0M1149 1032h0M1167 1029h0M973 1039h0M1132 1023h0M1002 1038h0M1126 1049h0M1113 1028h0M1048 1039h0M1026 1036h0M1097 1032h0M1023 1060h0M1144 1053h0M1153 1034h0M1017 1046h0M1048 1032h0M1108 1034h0M1114 1039h0M1098 1038h0M1023 1014h0M1013 1038h0M1035 1013h0M1143 1056h0M970 1044h0M1063 1068h0M1128 1003h0M975 1030h0M1122 1026h0M1173 1035h0M1016 1068h0M1096 1032h0M1021 1064h0M1051 1054h0M1103 1025h0M1115 1010h0M979 1035h0M1002 1020h0M1112 1045h0M1035 1073h0M1130 1024h0M1098 1035h0M1003 1052h0M1165 1056h0M1129 1007h0M1134 1048h0M992 1052h0M1030 1072h0M1006 1030h0M1110 1067h0M1031 1040h0M1020 1051h0M1047 1052h0M1147 1035h0M1155 1044h0M994 1027h0M1111 1039h0M1044 1045h0M1110 1033h0M1086 1054h0M1179 1028h0M1143 1042h0M1160 1052h0M991 1054h0M1018 1031h0M1167 1056h0M1024 1069h0M1134 1038h0M1008 1026h0M1053 1007h0M1040 1046h0M994 1049h0M1021 1068h0M1072 1076h0M1113 1058h0M1057 1065h0M1050 1036h0M1140 1017h0M991 1027h0M1117 1035h0M991 1043h0M1154 1040h0M1125 1060h0M1089 1048h0M1005 1039h0M1078 1065h0M1032 1069h0M1122 1024h0M1086 1079h0M998 1003h0M1114 1032h0M1097 1048h0M1134 1060h0M1136 992h0M1168 1032h0M992 1040h0M998 1009h0M1130 1034h0M1123 1038h0M1011 1066h0M1025 1054h0M989 1052h0M1133 1001h0M1037 1047h0M969 1048h0M988 1044h0M1026 1029h0M1137 1048h0M1115 1054h0M1127 1033h0M1123 1027h0M1018 1061h0M1110 1014h0M1169 1040h0M1167 1040h0M1029 1053h0M1002 1043h0M1001 1030h0M1027 996h0M1160 1042h0M1121 1056h0M1109 1070h0M1010 1022h0M1015 1061h0M985 1045h0M1025 996h0M1137 1043h0M1117 1068h0M1047 1048h0M1134 1019h0M1123 1066h0M1103 1073h0M1153 1055h0M1016 1058h0M1018 1016h0M994 1021h0M1169 1026h0M990 1049h0M1109 1031h0M1037 1024h0M1139 1059h0M1118 1058h0M1048 1034h0M1033 1035h0M1045 1026h0M1156 1038h0M1075 1080h0M1116 1029h0M960 1030h0M1117 1035h0M1131 1064h0M1112 990h0M1108 1043h0M1132 1054h0M1129 1010h0M1117 1074h0M972 1026h0M1167 1050h0M1152 1054h0M1112 1068h0M1035 1019h0M1026 1030h0M1036 1034h0M1017 1047h0M1016 1025h0M1093 1054h0M1044 1044h0M1149 1064h0M1142 1049h0M1041 1048h0M1010 1060h0M957 1033h0M999 1002h0M1108 1010h0M1129 1026h0M1126 1034h0M1075 1071h0M999 1047h0M1032 1043h0M1135 1015h0M1003 1037h0M1158 1046h0M997 1057h0M1149 1048h0M1141 1019h0M1096 1040h0M995 1036h0M1028 1068h0M1084 1056h0M1022 1010h0M1135 1063h0M1010 1038h0M1131 1039h0M1084 1052h0M1152 1042h0M1056 1048h0M1191 1032h0M1023 1030h0M1093 1045h0M1115 1042h0M1008 1035h0M1055 1031h0M1114 1031h0M994 1024h0M1127 1021h0M1123 1062h0M1097 1020h0M967 1045h0M1152 1057h0M1021 1060h0M1179 1040h0M1039 1021h0M1127 1054h0M1141 999h0M1020 1055h0M1090 1040h0M1124 1045h0M1165 1059h0M973 1058h0M1159 1045h0M1145 1044h0M1122 1053h0M1133 1057h0M1089 1052h0M1165 1033h0M990 1050h0M950 1032h0M1057 1045h0M986 1051h0M1112 1034h0M994 1054h0M1146 1053h0M1012 1035h0M979 1034h0M1126 1027h0M993 1038h0M1081 1056h0M1139 1045h0M1127 1039h0M1012 1062h0M1094 1044h0M979 1058h0M1154 1045h0M1010 1062h0M1100 1044h0M1030 1058h0M995 1022h0M1139 1043h0M1014 1067h0M1146 1032h0M1165 1045h0M1135 1039h0M1019 1008h0M1088 1038h0M1113 1017h0M1152 1031h0M992 1035h0M1102 1027h0M1018 1010h0M1147 1061h0M1075 1069h0M981 1027h0M1005 1055h0M997 1038h0M1022 1031h0M970 1032h0M1158 1030h0M1061 1061h0M1086 1048h0M1150 1055h0M1038 1029h0M1138 1000h0M967 1043h0M1026 1073h0M1082 1059h0M1029 1038h0M1031 1026h0M1117 1032h0M1108 1032h0M1125 1013h0M1009 1007h0M984 1032h0M1024 1032h0M1004 1003h0M987 1028h0M1008 1031h0M1133 1065h0M1142 1061h0M1129 1034h0M995 1057h0M1015 1061h0M1107 1074h0M1033 1071h0M1134 1046h0M989 1039h0M1156 1026h0M1134 1035h0M1119 1035h0M1103 1031h0M996 1029h0M1146 1047h0M1148 1052h0M1139 1039h0M1112 1004h0M1131 1016h0M1167 1046h0M1178 1029h0M1003 1002h0M1175 1048h0M1006 1042h0M1014 1020h0M1148 1052h0M1105 1073h0M995 1027h0M1150 1045h0M1016 1012h0M1045 1040h0M1133 1029h0M1156 1041h0M1005 1066h0M1003 1025h0M1119 1004h0M1126 1013h0M1151 1049h0M1021 1072h0M1024 1075h0M1126 1059h0M1163 1060h0M998 1022h0M991 1045h0M1139 1030h0M984 1053h0M1179 1041h0M1163 1029h0M1110 1028h0M958 1043h0M1001 1016h0M1042 1036h0M996 1014h0M1009 1053h0M1125 1042h0M984 1041h0M1130 1059h0M1143 1009h0M1088 1046h0M1146 1029h0M1096 1028h0M1004 1054h0M1013 1030h0M1135 1053h0M977 1041h0M1002 999h0M1171 1033h0M1043 1040h0M1144 1037h0M1132 1032h0M1002 1056h0M1110 1037h0M1167 1054h0M953 1045h0M955 1040h0M1049 1044h0M1001 1060h0M1017 1036h0M963 1038h0M1176 1030h0M1093 1042h0M1111 1023h0M1144 1046h0M1058 1051h0M1061 1047h0M1125 999h0M1027 1027h0M1129 1015h0M995 1063h0M1014 1008h0M1136 1023h0M1129 1064h0M1162 1055h0M985 1047h0M984 1031h0M1102 1040h0M1118 1025h0M1023 1009h0M981 1050h0M983 1060h0M1053 1078h0M1018 1015h0M1125 1007h0M1169 1042h0M1141 1032h0M1153 1039h0M1006 1064h0M1138 1014h0M1021 1016h0M1136 1045h0M997 1020h0M984 1040h0M1178 1032h0M1100 1020h0M1045 1037h0M1033 1030h0M1098 1023h0M1172 1033h0M1038 1075h0M1041 1025h0M972 1035h0M1133 1028h0M1091 1026h0M1009 1066h0M1117 1069h0M1046 1043h0M1095 1035h0M992 1046h0M1009 1014h0M1027 1071h0M1112 1071h0M1135 1009h0M1012 1027h0M1036 1022h0M976 1037h0M1171 1046h0M1019 1022h0M1127 1020h0M1036 1024h0M1120 993h0M1165 1027h0M1140 1026h0M1164 1049h0M1005 1026h0M1055 1056h0M1139 1009h0M1141 1036h0M997 1032h0M1088 1042h0M1130 1012h0M1140 1012h0M1010 1048h0M1146 1027h0M1122 1016h0M1002 1058h0M995 1052h0M1019 1010h0M1185 1027h0M1086 1035h0M1136 1024h0M1138 1023h0M977 1041h0M1180 1048h0M1139 1049h0M1022 1014h0M1149 1028h0M950 1046h0M1164 1044h0M1101 1034h0M1142 1057h0M1146 1057h0M1144 1029h0M1154 1047h0M1102 992h0M1127 1031h0M1136 1000h0M959 1031h0M1122 977h0M986 1036h0M1086 1037h0M1149 1031h0M1041 1020h0M1145 1003h0M997 1051h0M1127 1066h0M1030 1006h0M1152 1030h0M1125 1066h0M1120 1005h0M1122 982h0M1159 1048h0M988 1056h0M955 1044h0M1146 1065h0M1125 1025h0M1139 997h0M1046 1036h0M1036 1002h0M1041 1030h0M1102 1076h0M1062 1067h0M1033 1008h0M1131 1009h0M989 1041h0M1085 1050h0M1126 1038h0M1118 1030h0M1141 1021h0M1047 1037h0M1017 985h0M1130 1070h0M1004 1023h0M1008 1025h0M1167 1047h0M1144 1013h0M1016 1066h0M1082 1053h0M1058 1055h0M970 1041h0M999 1005h0M1134 1012h0M1129 1011h0M1016 1000h0M1141 1029h0M991 1031h0M1016 1028h0M1019 1026h0M1010 1052h0M1058 960h0M1063 1045h0M1044 986h0M1052 1040h0M1087 837h0M1086 1013h0M1074 1023h0M1048 1044h0M1093 1020h0M1056 996h0M1082 932h0M1090 1035h0M1060 975h0M1089 858h0M1064 1015h0M1083 912h0M1058 915h0M1093 946h0M1062 1011h0M1084 876h0M1076 1031h0M1095 991h0M1058 1016h0M1078 974h0M1060 933h0M1049 1009h0M1058 1026h0M1086 982h0M1094 1026h0M1057 945h0M1080 983h0M1078 1001h0M1059 986h0M1060 1010h0M1049 1032h0M1079 967h0M1079 977h0M1083 891h0M1074 1044h0M1065 1023h0M1059 969h0M1061 963h0M1065 1038h0M1111 959h0M1080 1011h0M1063 1034h0M1086 974h0M1075 1005h0M1058 980h0M1083 1024h0M1055 1038h0M1079 1009h0M1065 1033h0M1083 915h0M1091 960h0M1081 1019h0M1063 981h0M1080 1025h0M1088 998h0M1083 911h0M1058 1018h0M1063 991h0M1052 1025h0M1087 990h0M1061 967h0M1095 1037h0M1078 954h0M1094 1020h0M1083 944h0M1102 957h0M1054 1023h0M1046 1005h0M1062 985h0M1060 1001h0M1076 1012h0M1094 986h0M1078 1039h0M1062 1047h0M1090 911h0M1077 986h0M1029 1017h0M1079 962h0M1088 971h0M1088 953h0M1091 987h0M1076 1037h0M1060 1019h0M1050 886h0M1084 887h0M1056 957h0M1102 950h0M1077 1015h0M1049 1012h0M1081 1007h0M1078 1007h0M1059 1010h0M1063 995h0M1076 1041h0M1079 1052h0M1046 963h0M1098 1002h0M1080 985h0M1040 1006h0M1088 1045h0M1060 944h0M1062 983h0M1052 1037h0M1057 927h0M1078 1021h0M1074 1041h0M1044 962h0M1041 1001h0M1074 1031h0M1088 856h0M1092 1009h0M1092 1030h0M1081 926h0M1085 869h0M1084 973h0M1084 1017h0M1061 984h0M1017 1017h0M1091 1016h0M1093 926h0M1085 996h0M1062 1033h0M1047 1023h0M1054 1003h0M1049 937h0M1084 993h0M1079 1036h0M1063 971h0M1039 1028h0M1082 929h0M1085 966h0M1050 849h0M1086 851h0M1053 958h0M1074 1043h0M1082 946h0M1065 1046h0M1046 974h0M1044 882h0M1059 952h0M1104 1003h0M1077 1010h0M1060 956h0M1080 1027h0M1052 1029h0M1083 994h0M1056 1002h0M1052 1017h0M1103 1002h0M1088 853h0M1059 998h0M1084 1010h0M1081 923h0M1110 1012h0M1077 996h0M1067 1055h0M1088 928h0M973 1053h0M1093 1014h0M1077 981h0M1107 978h0M1089 1006h0M1066 1029h0M1102 1020h0M1097 996h0M1042 1013h0M1076 1026h0M1060 1006h0M1063 1005h0M1074 1022h0M1081 953h0M1050 1026h0M1084 980h0M1085 922h0M1082 952h0M1036 999h0M1081 987h0M1061 951h0M1076 991h0M1057 1043h0M1075 1020h0M1058 1014h0M1082 1035h0M1114 987h0M1082 938h0M1080 947h0M1096 872h0M1093 1004h0M1086 986h0M1047 1028h0M1083 1033h0M1088 1028h0M1089 945h0M1087 830h0M1086 959h0M1057 1018h0M1058 1030h0M1056 1023h0M1081 956h0M1056 998h0M1046 984h0M1078 1031h0M1052 954h0M1077 1019h0M1047 969h0M1065 1021h0M1079 979h0M1058 1013h0M1118 975h0M1079 1033h0M1081 1013h0M1079 1020h0M1064 999h0M1089 1017h0M1076 999h0M1094 918h0M1062 1019h0M1080 951h0M1088 940h0M1099 922h0M1087 886h0M1081 962h0M1078 1045h0M1097 830h0M1064 1009h0M1082 919h0M1054 973h0M1079 988h0M1081 970h0M1112 982h0M1056 1010h0M1077 977h0M1079 1016h0M1100 999h0M1053 922h0M1084 926h0M1104 1030h0M1078 1043h0M1089 1010h0M1105 998h0M1061 1004h0M1088 916h0M1064 1026h0M1060 966h0M1053 994h0M1084 975h0M1079 994h0M1033 1021h0M1066 1035h0M1082 1008h0M1083 958h0M1081 918h0M1053 1005h0M1053 1013h0M1058 976h0M1077 1024h0M1086 881h0M1081 937h0M1085 1012h0M1086 922h0M1080 1014h0M1081 977h0M1083 940h0M1082 1017h0M1063 978h0M1084 1022h0M1057 1034h0M1098 940h0M1084 1005h0M1116 1008h0M1084 989h0M1090 949h0M1055 895h0M1092 1031h0M1053 947h0M1087 981h0M1059 911h0M1105 934h0M1075 1027h0M1085 1043h0M1090 865h0M1065 1055h0M1063 992h0M1052 984h0M1061 981h0M1094 1009h0M1065 1012h0M1059 972h0M1091 996h0M1062 1029h0M1087 954h0M1059 947h0M1102 960h0M1084 1027h0M1061 1017h0M1082 903h0M1057 994h0M1061 1024h0M1065 1000h0M1098 950h0M1056 1040h0M1059 917h0M1056 970h0M1102 844h0M1083 960h0M1081 981h0M1059 1031h0M1048 959h0M1083 964h0M1083 902h0M1053 939h0M1085 1029h0M1042 1025h0M1062 1044h0M1048 1024h0M1082 1036h0M1078 970h0M1075 1034h0M1082 1030h0M1086 874h0M1061 1013h0M1067 1044h0M1075 1011h0M1029 999h0M1057 1005h0M1077 1021h0M1075 1037h0M1090 791h0M1085 860h0M1080 1026h0M1062 1037h0M1046 906h0M1091 978h0M1084 1015h0M1088 950h0M1099 960h0M1063 976h0M1088 823h0M1059 965h0M1089 960h0M1057 941h0M1078 1043h0M1062 993h0M1091 999h0M1040 1012h0M1087 1023h0M1077 989h0M1057 940h0M1092 953h0M1053 983h0M1113 999h0M1062 1054h0M1058 931h0M1093 1022h0M1057 982h0M1086 1007h0M1055 968h0M1043 981h0M1085 935h0M1083 1019h0M1086 940h0M1093 1025h0M1099 931h0M1089 955h0M1051 916h0M1089 983h0M1051 900h0M1043 879h0M1096 964h0M1103 915h0M1084 950h0M1059 1027h0M1059 949h0M1078 996h0M1084 920h0M1091 886h0M1094 928h0M1045 919h0M1049 1017h0M1104 991h0M1097 1014h0M1081 968h0M1082 899h0M1083 982h0M1038 1015h0M1065 1040h0M1082 973h0M1081 974h0M1082 991h0M1052 1010h0M1077 1029h0M1059 939h0M1053 975h0M1082 1050h0M1082 1039h0M1085 898h0M1087 952h0M1086 868h0M1096 1023h0M1075 1018h0M1058 990h0M1094 1003h0M1076 1053h0M1050 1040h0M1097 965h0M1094 1017h0M1083 946h0M1051 937h0M1085 1035h0M1055 1026h0M1077 1017h0M1034 1017h0M1060 999h0M1055 1023h0M1057 894h0M1082 896h0M1057 1004h0M1090 852h0M1060 997h0M1067 1048h0M1037 978h0M1093 1002h0M1082 912h0M1056 994h0M1080 1023h0M1090 800h0M1032 995h0M1096 1021h0M1062 1004h0M1088 1019h0M1048 924h0M1095 1024h0M1105 1023h0M1082 907h0M1057 898h0M1079 1038h0M1083 931h0M1049 1003h0M1045 928h0M1095 926h0M1061 1021h0M1083 895h0M1066 1036h0M1085 853h0M1082 987h0M1089 878h0M1057 912h0M1096 1002h0M1046 1018h0M1087 913h0M1056 893h0M1091 811h0M1050 999h0M1063 1017h0M1084 968h0M1060 1026h0M1052 960h0M1066 1028h0M1036 994h0M1076 1005h0M1037 1019h0M1041 985h0M1090 986h0M1094 944h0M1050 981h0M1043 1021h0M1083 991h0M1081 999h0M1042 965h0M1062 1043h0M1081 943h0M1051 992h0M1099 997h0M1049 1030h0M1092 864h0M1062 960h0M1056 1013h0M1053 1012h0M1078 998h0M1092 968h0M1086 925h0M1095 838h0M1079 956h0M1074 1014h0M1086 917h0M1101 1003h0M1046 896h0M1099 955h0M1087 833h0M1062 1050h0M1061 970h0M1081 1012h0M1057 1035h0M1059 1040h0M1079 964h0M1052 979h0M1048 1006h0M1105 992h0M1079 1024h0M1065 1020h0M1056 930h0M1095 833h0M1097 894h0M1087 957h0M1095 768h0M1088 847h0M1044 1004h0M1060 987h0M1091 828h0M1049 934h0M1085 983h0M1089 977h0M1055 870h0M1078 982h0M1108 995h0M1097 800h0M1058 1021h0M1088 872h0M1091 945h0M1077 994h0M1054 961h0M1084 1003h0M1093 984h0M1096 999h0M1050 989h0M1056 1030h0M1089 990h0M1095 989h0M1075 1034h0M1086 934h0M1046 1015h0M1065 1025h0M1084 906h0M1051 1002h0M1075 1003h0M1049 997h0M1080 924h0M1095 848h0M1085 959h0M1089 867h0M1063 1028h0M1052 940h0M1087 940h0M1084 936h0M1107 992h0M1088 1030h0M1074 1049h0M1049 1001h0M1082 995h0M1065 1009h0M1094 949h0M1107 980h0M1061 985h0M1038 1022h0M1095 915h0M1094 902h0M1079 1047h0M1031 991h0M1078 990h0M1083 984h0M1095 874h0M1084 970h0M1031 1019h0M1087 967h0M1043 1016h0M1078 968h0M1083 1001h0M1078 961h0M1096 897h0M1047 1010h0M1092 1034h0M1088 997h0M1041 959h0M1086 1012h0M1040 981h0M1078 976h0M1059 1001h0M1079 941h0M1097 954h0M1057 1043h0M1086 977h0M1096 1011h0M1088 993h0M1050 964h0M1061 1012h0M1056 983h0M1089 888h0M1089 1004h0M1053 857h0M1087 901h0M1091 858h0M1080 973h0M1050 878h0M1054 882h0M1053 962h0M1054 1034h0M1095 888h0M1035 1011h0M1097 864h0M1083 895h0M1051 1021h0M1049 1003h0M1060 1036h0M1065 1042h0M1084 938h0M1051 985h0M1050 969h0M1054 924h0M1094 955h0M1053 948h0M1086 911h0M1057 961h0M1118 989h0M1053 923h0M1084 1036h0M1061 971h0M1085 979h0M1087 961h0M1086 964h0M1108 1003h0M1088 897h0M1049 959h0M1091 850h0M1091 976h0M1084 880h0M1092 909h0M1096 1012h0M1055 1007h0M1055 977h0M1083 1032h0M1085 931h0M1087 895h0M1046 942h0M1087 921h0M1112 995h0M1052 926h0M1093 1014h0M1024 1005h0M1088 968h0M1094 860h0M1091 789h0M1097 986h0M1065 1016h0M1053 972h0M1108 933h0M1081 940h0M1059 995h0M1096 1008h0M1055 988h0M1090 946h0M1084 898h0M1033 1004h0M1058 896h0M1061 1039h0M1061 950h0M1127 997h0M1083 1004h0M1061 1032h0M1083 948h0M1090 972h0M1086 972h0M1052 970h0M1096 1006h0M1060 946h0M1048 1015h0M1113 1025h0M1093 993h0M1028 978h0M1087 1004h0M1034 1007h0M1053 1001h0M1087 1002h0M1093 981h0M1049 958h0M1101 1021h0M1092 986h0M1113 953h0M1100 951h0M1096 970h0M1048 877h0M1082 1002h0M1056 980h0M1091 809h0M1085 885h0M1087 1021h0M1087 823h0M1095 981h0M1085 855h0M1050 904h0M1091 906h0M1087 1040h0M1057 987h0M1056 963h0M1088 1024h0M1054 960h0M1049 949h0M1093 777h0M1058 977h0M1089 915h0M1050 1019h0M1050 1024h0M1119 983h0M1049 855h0M1090 1015h0M1047 889h0M1108 1023h0M1078 1003h0M1102 928h0M1099 991h0M1086 841h0M1082 914h0M1095 978h0M1090 1026h0M1095 885h0M1096 996h0M1092 948h0M1098 916h0M1098 971h0M1039 1015h0M1075 1010h0M1058 906h0M1092 899h0M1095 984h0M1054 964h0M1092 935h0M1083 1040h0M1054 836h0M1052 941h0M1042 972h0M1088 845h0M1085 863h0M1102 932h0M1080 950h0M1046 958h0M1054 988h0M1058 1049h0M1055 857h0M1084 950h0M1105 1019h0M1051 996h0M1084 871h0M1087 858h0M1020 1002h0M1054 883h0M1050 961h0M1073 1032h0M1055 902h0M1085 999h0M1090 922h0M1057 923h0M1038 973h0M1052 985h0M1091 971h0M1047 993h0M1082 911h0M1060 942h0M1089 860h0M1082 1047h0M1044 996h0M1054 1027h0M1058 1036h0M1060 1050h0M1119 994h0M1116 1017h0M1101 983h0M1103 1023h0M1075 1046h0M1059 933h0M1102 969h0M1056 1008h0M1074 1052h0M1095 889h0M1086 998h0M1117 1020h0M1097 812h0M1080 933h0M1067 1043h0M1060 990h0M1089 872h0M1037 989h0M1093 906h0M1057 913h0M1096 920h0M1087 905h0M1099 1011h0M1085 1046h0M1088 935h0M1093 905h0M1091 892h0M1053 862h0M1099 972h0M1096 907h0M1102 902h0M1090 847h0M1093 1012h0M1061 1030h0M1030 1026h0M1087 932h0M1100 1001h0M1053 991h0M1060 939h0M1090 939h0M1024 1016h0M1082 906h0M1065 1013h0M1095 972h0M1094 863h0M1093 819h0M1080 943h0M1096 905h0M1093 923h0M1042 989h0M1107 960h0M1086 994h0M1040 965h0M1088 997h0M1090 908h0M1086 1020h0M1055 937h0M1063 987h0M1088 815h0M1084 881h0M1080 939h0M1041 952h0M1086 948h0M1039 994h0M1079 1001h0M1090 919h0M1043 1028h0M1100 949h0M1089 981h0M1043 999h0M1044 938h0M1040 1014h0M1058 925h0M1057 886h0M1063 1040h0M1084 890h0M1099 869h0M1091 991h0M1041 1008h0M1051 1018h0M1031 997h0M1045 1003h0M1045 1024h0M1057 952h0M1045 1022h0M1093 1006h0M1106 983h0M1084 955h0M1047 1031h0M1100 1008h0M1058 968h0M1059 927h0M1088 988h0M1054 917h0M1054 905h0M1080 929h0M1094 924h0M1099 1018h0M1092 883h0M1101 979h0M1103 984h0M1059 937h0M1029 1005h0M1104 946h0M1083 919h0M1072 1048h0M1056 929h0M1125 1020h0M1108 1000h0M1106 988h0M1117 977h0M1092 953h0M1050 971h0M1086 836h0M1055 884h0M1029 1012h0M1091 883h0M1087 1017h0M1091 975h0M1095 942h0M1050 939h0M1057 891h0M1029 1022h0M1101 774h0M1048 981h0M1086 1008h0M1101 1013h0M1084 906h0M1076 1048h0M1048 848h0M1060 955h0M1093 975h0M1048 999h0M1050 949h0M1054 985h0M1097 982h0M1055 990h0M1107 975h0M1047 975h0M1055 1018h0M1091 917h0M1089 964h0M1045 1031h0M1109 1020h0M1043 1032h0M1080 930h0M1068 1048h0M1102 920h0M1039 995h0M1095 946h0M1104 973h0M1098 926h0M1182 1036h0M1088 1029h0M1095 912h0M1050 944h0M1046 1008h0M1103 965h0M1104 943h0M1085 927h0M1096 973h0M1048 944h0M1081 1043h0M1036 1003h0M1100 965h0M1096 981h0M1094 1002h0M1103 997h0M1078 972h0M1089 988h0M1093 957h0M1084 962h0M1054 998h0M1046 915h0M1037 1006h0M1096 913h0M1052 978h0M1119 961h0M1039 1004h0M1088 932h0M1098 945h0M1062 963h0M1062 968h0M1055 874h0M1062 977h0M1156 1049h0M1099 983h0M1086 877h0M1090 779h0M1086 867h0M1090 812h0M1027 1006h0M1057 889h0M1106 1027h0M1020 991h0M1097 919h0M1065 1005h0M1051 974h0M1052 916h0M1099 980h0M1034 993h0M1077 971h0M1046 1017h0M977 1047h0M1043 1001h0M1052 931h0M1089 886h0M1088 832h0M1090 958h0M1089 893h0M1048 900h0M1106 1025h0M1051 837h0M1055 860h0M1044 991h0M1036 1017h0M1088 825h0M1090 970h0M1041 987h0M1099 947h0M1087 943h0M1057 953h0M1092 889h0M1095 855h0M1109 975h0M1053 914h0M1050 1008h0M1050 1013h0M1060 936h0M1094 1007h0M1051 934h0M1113 994h0M1090 1011h0M1054 874h0M1099 992h0M1046 1011h0M1072 1051h0M1121 1007h0M1059 944h0M1099 968h0M1098 958h0M1057 976h0M1043 992h0M1045 981h0M1112 1011h0M1087 815h0M1048 862h0M1055 954h0M1025 1020h0M1089 901h0M1118 1008h0M1057 888h0M1097 947h0M1091 772h0M1080 935h0M1055 916h0M1053 951h0M1097 883h0M1088 803h0M1096 900h0M1109 986h0M1087 899h0M1088 872h0M1088 841h0M1058 901h0M1103 972h0M1056 877h0M1110 1001h0M1083 1049h0M1090 774h0M1089 929h0M1042 898h0M1044 975h0M1095 962h0M1110 1021h0M1082 893h0M1051 978h0M1097 998h0M1095 932h0M1031 951h0M1053 1042h0M1089 1023h0M1110 952h0M1052 1032h0M1048 932h0M1089 914h0M1088 826h0M1094 938h0M1104 997h0M1124 1021h0M1066 1051h0M1074 1052h0M1088 808h0M1053 910h0M1091 941h0M1048 893h0M1053 900h0M1097 1017h0M1133 1013h0M1095 968h0M1060 928h0M1094 866h0M1053 935h0M1020 1005h0M1093 824h0M1046 925h0M1090 816h0M1092 914h0M1091 805h0M1036 991h0M1054 907h0M1102 905h0M1048 939h0M1101 1005h0M1052 1019h0M1029 1013h0M1108 990h0M1102 1007h0M1046 977h0M1103 1018h0M1090 897h0M1092 778h0M1095 952h0M1053 945h0M1052 889h0M1105 1002h0M1105 1010h0M1035 1008h0M1039 999h0M1091 927h0M1091 891h0M1057 906h0M1097 871h0M1053 832h0M1097 991h0M1058 957h0M1103 980h0M1077 1050h0M1088 889h0M1038 1008h0M1034 1000h0M1107 1007h0M1089 843h0M1098 989h0M1042 992h0M1104 966h0M1105 1006h0M1066 1052h0M1115 970h0M1103 776h0M1049 870h0M1053 929h0M1045 1000h0M1126 1001h0M1090 820h0M1091 1001h0M1029 979h0M1027 1019h0M1120 1020h0M1091 802h0M1086 1050h0M1044 982h0M1032 992h0M1090 788h0M1054 955h0M1096 962h0M1092 961h0M1116 994h0M1094 959h0M1086 844h0M1106 923h0M1029 987h0M1052 907h0M1093 856h0M1051 991h0M1049 963h0M1064 1053h0M1041 996h0M1042 1007h0M1089 857h0M1113 980h0M1097 885h0M1099 957h0M1096 949h0M1104 937h0M1039 973h0M1065 1005h0M1068 1051h0M1032 956h0M1043 957h0M1094 827h0M1143 1027h0M1046 955h0M1052 850h0M1036 944h0M1091 874h0M1104 870h0M1003 1017h0M1041 946h0M1054 903h0M1049 915h0M1103 1008h0M1098 768h0M1086 908h0M1114 931h0M1097 958h0M1081 1044h0M1047 988h0M1093 802h0M1062 969h0M958 1045h0M1095 779h0M1119 1018h0M1051 932h0M1056 949h0M1112 960h0M1101 919h0M1038 981h0M1088 930h0M1098 861h0M1045 998h0M1102 938h0M1096 892h0M1056 909h0M1051 956h0M1098 884h0M1087 878h0M1039 882h0M1033 975h0M1101 967h0M1084 874h0M1104 929h0M1001 1021h0M1075 1007h0M1092 877h0M1038 970h0M1085 857h0M1108 940h0M1072 1046h0M1095 796h0M1004 1028h0M1110 956h0M1054 888h0M1091 940h0M1091 805h0M1111 997h0M1045 966h0M1127 991h0M1092 973h0M1048 982h0M1078 1055h0M1087 891h0M1051 927h0M1105 1034h0M1027 998h0M1097 938h0M1051 925h0M1094 892h0M1090 920h0M1088 882h0M1046 993h0M1012 1009h0M1043 1010h0M1045 943h0M1105 980h0M1092 897h0M1045 989h0M1132 1006h0M1027 988h0M1059 921h0M1041 1020h0M1038 985h0M1055 899h0M1088 883h0M1045 851h0M1054 878h0M1088 864h0M1050 923h0M1047 1020h0M1094 790h0M1099 881h0M1072 1054h0M1025 994h0M1106 974h0M1154 1029h0M1110 981h0M1097 937h0M1033 969h0M1092 895h0M1116 1015h0M1124 1001h0M1116 1001h0M1121 1012h0M1053 967h0M1022 1005h0M1054 898h0M1090 796h0M1048 955h0M1060 931h0M1095 994h0M1108 1012h0M1051 894h0M1100 784h0M1088 936h0M1040 933h0M1099 906h0M1103 838h0M1041 995h0M1047 882h0M997 1049h0M1101 831h0M1100 1025h0M1090 829h0M1038 974h0M1034 986h0M1098 865h0M1053 933h0M1095 829h0M1058 907h0M1121 987h0M1091 921h0M1072 1053h0M1083 887h0M1101 820h0M1085 865h0M1032 1000h0M1058 902h0M1098 967h0M1046 969h0M1027 948h0M1109 1015h0M1094 935h0M1092 854h0M1060 927h0M1100 942h0M1054 839h0M1051 966h0M1032 948h0M1089 850h0M1094 765h0M1037 957h0M1040 943h0M1102 976h0M1113 1008h0M1088 864h0M1105 1010h0M1033 1007h0M1107 998h0M1104 1018h0M1021 985h0M1099 975h0M1039 950h0M1114 977h0M1028 1002h0M1111 1017h0M1046 836h0M1114 1006h0M1111 944h0M1088 925h0M1095 834h0M1050 909h0M1021 1002h0M1038 984h0M1021 1025h0M1044 852h0M1056 918h0M1112 1019h0M1040 982h0M1106 1018h0M1101 946h0M1044 985h0M1102 987h0M1025 1026h0M1042 925h0M1122 1010h0M1097 822h0M1046 892h0M1056 944h0M1047 985h0M1028 1024h0M1036 969h0M1089 826h0M1105 937h0M1047 942h0M1104 918h0M1088 875h0M1032 1024h0M1119 998h0M1120 976h0M1034 979h0M1093 770h0M1077 1055h0M1048 897h0M1053 996h0M1040 922h0M1080 925h0M1105 968h0M1042 1012h0M1061 1055h0M1032 987h0M1038 989h0M1067 1044h0M1043 1030h0M1031 1013h0M1090 963h0M1105 960h0M1109 995h0M1037 1011h0M1011 1023h0M1110 925h0M1087 862h0M1101 977h0M1095 774h0M1092 849h0M1048 978h0M1047 967h0M1096 977h0M1089 784h0M1106 1015h0M951 1041h0M1117 953h0M1093 933h0M1090 814h0M1043 969h0M1044 946h0M1053 866h0M1030 994h0M1072 1044h0M1051 883h0M999 997h0M1030 1000h0M947 1043h0M1047 992h0M1099 986h0M1106 972h0M1090 1033h0M1041 990h0M1091 882h0M1091 846h0M1096 796h0M1048 973h0M1056 940h0M1118 986h0M1014 1017h0M1105 951h0M1103 1014h0M1093 913h0M1043 977h0M1046 899h0M1094 798h0M1111 955h0M1093 966h0M1055 934h0M1005 1011h0M1068 1053h0M1110 1006h0M1101 788h0M1052 829h0M1098 858h0M1038 954h0M1094 909h0M1046 875h0M1104 995h0M1091 932h0M1103 963h0M1104 984h0M1096 821h0M1050 835h0M1099 989h0M1021 997h0M1039 1075h0M1076 1066h0M1071 1065h0M1065 1071h0M1072 1069h0M1065 1061h0M1065 1066h0M1062 1062h0M1073 1059h0M1070 1059h0M1074 1060h0M1080 1059h0M1072 1064h0M1063 1063h0M1072 1071h0M1073 1064h0M1071 1058h0M1064 1058h0M1077 1061h0M1065 1058h0M1076 1065h0M1071 1075h0M1070 1061h0M1067 1064h0M1081 1081h0M1068 1072h0M1060 1057h0M1068 1062h0M1067 1073h0M1062 1081h0M1080 1081h0M1073 1066h0M1069 1067h0M1093 1079h0M1055 1081h0M1050 1079h0M1085 1081h0M1067 1069h0M1076 1059h0M1062 1081h0M1074 1057h0M1098 1080h0M1068 1064h0M1059 1081h0M1087 1082h0M1068 1056h0" stroke="#c8c8c8" stroke-width="5.4" stroke-linecap="round" fill="none" opacity="1.0"/>
<path transform="scale(0.5)" d="M1098 640h0M1126 653h0M1118 708h0M1115 723h0M1010 767h0M1014 790h0M1109 775h0M1092 800h0M1071 819h0M1037 826h0M1084 687h0M1103 696h0M1045 743h0" stroke="#d4d4d4" stroke-width="5.4" stroke-linecap="round" fill="none" opacity="1.0"/>
<path transform="scale(0.5)" d="M1177 1006h0M1158 1006h0M1231 1024h0M1209 1004h0M1163 1015h0M1162 1025h0M1148 1005h0M1156 994h0M1173 1017h0M1154 1008h0M1185 1013h0M1164 1011h0M1169 1011h0M1179 1024h0M1147 1023h0M1234 837h0" stroke="#e0221e" stroke-width="5.4" stroke-linecap="round" fill="none" opacity="0.68"/>
<path transform="scale(0.5)" d="M1153 1003h0M1194 973h0M1190 975h0M1189 1010h0M1187 1026h0M1175 1021h0M1213 969h0M1172 987h0M1160 1012h0M1148 1016h0M1147 1006h0M1151 955h0M1162 1021h0M1164 1024h0M1158 1009h0M1273 968h0" stroke="#e0221e" stroke-width="5.4" stroke-linecap="round" fill="none" opacity="0.68"/>
<path transform="scale(0.5)" d="M1163 1017h0M1162 1008h0M1226 1019h0M1147 954h0M1181 991h0M1147 1014h0M1166 1008h0M1171 998h0M1172 1021h0M1157 1024h0M1150 977h0M1148 1025h0M1182 995h0M1159 1022h0M1178 927h0M1254 979h0" stroke="#e0221e" stroke-width="5.4" stroke-linecap="round" fill="none" opacity="0.68"/>
<path transform="scale(0.5)" d="M1255 1005h0M1184 1022h0M1153 963h0M1199 962h0M1146 963h0M1163 1010h0M1158 975h0M1153 1019h0M1168 1006h0M1171 1019h0M1152 1016h0M1166 1021h0M1168 997h0M1189 1022h0M1152 1019h0M1176 916h0" stroke="#e0221e" stroke-width="5.4" stroke-linecap="round" fill="none" opacity="0.68"/>
<path transform="scale(0.5)" d="M892 1025h0M976 959h0M973 934h0M982 1013h0M973 1019h0M953 1009h0M959 955h0M968 884h0M914 966h0" stroke="#3c3cb0" stroke-width="5.4" stroke-linecap="round" fill="none" opacity="0.68"/>
<path transform="scale(0.5)" d="M885 1002h0M985 1011h0M985 1022h0M984 982h0M979 1018h0M901 1007h0M982 993h0M968 914h0M918 966h0" stroke="#3c3cb0" stroke-width="5.4" stroke-linecap="round" fill="none" opacity="0.68"/>
<path transform="scale(0.5)" d="M957 873h0M977 1020h0M984 1023h0M961 994h0M943 1017h0M983 1021h0M970 1014h0M953 936h0" stroke="#3c3cb0" stroke-width="5.4" stroke-linecap="round" fill="none" opacity="0.68"/>
<path transform="scale(0.5)" d="M983 1004h0M979 921h0M978 1015h0M932 973h0M968 1015h0M990 973h0M968 926h0M879 1007h0" stroke="#3c3cb0" stroke-width="5.4" stroke-linecap="round" fill="none" opacity="0.68"/>
</g>
<line x1="495.3" y1="316.5" x2="495.3" y2="551" stroke="#505050" stroke-width="0.9" stroke-dasharray="2.1 2.3"/>
<line x1="572.2" y1="316.5" x2="572.2" y2="551" stroke="#505050" stroke-width="0.9" stroke-dasharray="2.1 2.3"/>
<line x1="407" y1="512.9" x2="661.5" y2="512.9" stroke="#505050" stroke-width="0.9" stroke-dasharray="2.1 2.3"/>
<line x1="404.5" y1="540.8" x2="407" y2="540.8" stroke="#cfcfcf" stroke-width="0.8"/>
<text x="402.7" y="545.0" font-size="11.6" fill="#4d4d4d" stroke="#4d4d4d" stroke-width="0.28" text-anchor="end">0.0</text>
<line x1="404.5" y1="487.2" x2="407" y2="487.2" stroke="#cfcfcf" stroke-width="0.8"/>
<text x="402.7" y="491.4" font-size="11.6" fill="#4d4d4d" stroke="#4d4d4d" stroke-width="0.28" text-anchor="end">2.5</text>
<line x1="404.5" y1="433.5" x2="407" y2="433.5" stroke="#cfcfcf" stroke-width="0.8"/>
<text x="402.7" y="437.7" font-size="11.6" fill="#4d4d4d" stroke="#4d4d4d" stroke-width="0.28" text-anchor="end">5.0</text>
<line x1="404.5" y1="379.9" x2="407" y2="379.9" stroke="#cfcfcf" stroke-width="0.8"/>
<text x="402.7" y="384.1" font-size="11.6" fill="#4d4d4d" stroke="#4d4d4d" stroke-width="0.28" text-anchor="end">7.5</text>
<line x1="404.5" y1="326.3" x2="407" y2="326.3" stroke="#cfcfcf" stroke-width="0.8"/>
<text x="402.7" y="330.5" font-size="11.6" fill="#4d4d4d" stroke="#4d4d4d" stroke-width="0.28" text-anchor="end">10.0</text>
<line x1="457.0" y1="551" x2="457.0" y2="553.5" stroke="#cfcfcf" stroke-width="0.8"/>
<text x="457.0" y="563.3" font-size="11.6" fill="#4d4d4d" stroke="#4d4d4d" stroke-width="0.28" text-anchor="middle">-2</text>
<line x1="534.2" y1="551" x2="534.2" y2="553.5" stroke="#cfcfcf" stroke-width="0.8"/>
<text x="534.2" y="563.3" font-size="11.6" fill="#4d4d4d" stroke="#4d4d4d" stroke-width="0.28" text-anchor="middle">0</text>
<line x1="611.4" y1="551" x2="611.4" y2="553.5" stroke="#cfcfcf" stroke-width="0.8"/>
<text x="611.4" y="563.3" font-size="11.6" fill="#4d4d4d" stroke="#4d4d4d" stroke-width="0.28" text-anchor="middle">2</text>
<text x="532.6" y="578" font-size="12" fill="#1a1a1a" stroke="#1a1a1a" stroke-width="0.28" text-anchor="middle">Fold Change (Log<tspan font-size="7.8" dy="3">2</tspan><tspan dy="-3">)</tspan></text>
<text transform="translate(374,434.4) rotate(-90)" font-size="12.1" fill="#1a1a1a" stroke="#1a1a1a" stroke-width="0.28" text-anchor="middle">-log<tspan font-size="7.8" dy="3">10</tspan><tspan dy="-3">(p-value)</tspan></text>
<text x="418.5" y="336.0" font-size="12.2" fill="#4a4ab8" stroke="#4a4ab8" stroke-width="0.28" text-anchor="start">33 downregulated genes</text>
<text x="418.5" y="351.0" font-size="12.2" fill="#e02a2a" stroke="#e02a2a" stroke-width="0.28" text-anchor="start">67 upregulated genes</text>
<clipPath id="ceY"><ellipse cx="145.2" cy="737.1" rx="91.8" ry="59.3" transform="rotate(41.4 145.2 737.1)" /></clipPath>
<clipPath id="ceG"><ellipse cx="182.1" cy="703.5" rx="94.3" ry="57.5" transform="rotate(40.6 182.1 703.5)" /></clipPath>
<clipPath id="ceL"><ellipse cx="183.1" cy="703.5" rx="94.3" ry="57.5" transform="rotate(139.4 183.1 703.5)" /></clipPath>
<clipPath id="ceP"><ellipse cx="220.0" cy="737.1" rx="91.8" ry="59.3" transform="rotate(138.6 220.0 737.1)" /></clipPath>
<ellipse cx="145.2" cy="737.1" rx="91.8" ry="59.3" transform="rotate(41.4 145.2 737.1)" fill="#f5fadc"/>
<ellipse cx="220.0" cy="737.1" rx="91.8" ry="59.3" transform="rotate(138.6 220.0 737.1)" fill="#f5d6de"/>
<ellipse cx="182.1" cy="703.5" rx="94.3" ry="57.5" transform="rotate(40.6 182.1 703.5)" fill="#e4fad6"/>
<ellipse cx="183.1" cy="703.5" rx="94.3" ry="57.5" transform="rotate(139.4 183.1 703.5)" fill="#dcdaf6"/>
<g clip-path="url(#ceY)"><ellipse cx="182.1" cy="703.5" rx="94.3" ry="57.5" transform="rotate(40.6 182.1 703.5)" fill="#ebf8b6"/></g>
<g clip-path="url(#ceG)"><ellipse cx="183.1" cy="703.5" rx="94.3" ry="57.5" transform="rotate(139.4 183.1 703.5)" fill="#b9dde1"/></g>
<g clip-path="url(#ceL)"><ellipse cx="220.0" cy="737.1" rx="91.8" ry="59.3" transform="rotate(138.6 220.0 737.1)" fill="#dba8ec"/></g>
<g clip-path="url(#ceY)"><ellipse cx="220.0" cy="737.1" rx="91.8" ry="59.3" transform="rotate(138.6 220.0 737.1)" fill="#f2d4a8"/></g>
<g clip-path="url(#ceY)"><ellipse cx="183.1" cy="703.5" rx="94.3" ry="57.5" transform="rotate(139.4 183.1 703.5)" fill="#d8d8e8"/></g>
<g clip-path="url(#ceG)"><ellipse cx="220.0" cy="737.1" rx="91.8" ry="59.3" transform="rotate(138.6 220.0 737.1)" fill="#d9d5a5"/></g>
<g clip-path="url(#ceY)"><g clip-path="url(#ceG)"><ellipse cx="183.1" cy="703.5" rx="94.3" ry="57.5" transform="rotate(139.4 183.1 703.5)" fill="#c4e4c6"/></g></g>
<g clip-path="url(#ceG)"><g clip-path="url(#ceL)"><ellipse cx="220.0" cy="737.1" rx="91.8" ry="59.3" transform="rotate(138.6 220.0 737.1)" fill="#ada8b8"/></g></g>
<g clip-path="url(#ceY)"><g clip-path="url(#ceL)"><ellipse cx="220.0" cy="737.1" rx="91.8" ry="59.3" transform="rotate(138.6 220.0 737.1)" fill="#c9a1c0"/></g></g>
<g clip-path="url(#ceY)"><g clip-path="url(#ceG)"><ellipse cx="220.0" cy="737.1" rx="91.8" ry="59.3" transform="rotate(138.6 220.0 737.1)" fill="#d9cc82"/></g></g>
<g clip-path="url(#ceY)"><g clip-path="url(#ceG)"><g clip-path="url(#ceL)"><ellipse cx="220.0" cy="737.1" rx="91.8" ry="59.3" transform="rotate(138.6 220.0 737.1)" fill="#ad9d95"/></g></g></g>
<ellipse cx="145.2" cy="737.1" rx="91.8" ry="59.3" transform="rotate(41.4 145.2 737.1)" fill="none" stroke="#8c8c8c" stroke-width="0.9"/>
<ellipse cx="182.1" cy="703.5" rx="94.3" ry="57.5" transform="rotate(40.6 182.1 703.5)" fill="none" stroke="#8c8c8c" stroke-width="0.9"/>
<ellipse cx="220.0" cy="737.1" rx="91.8" ry="59.3" transform="rotate(138.6 220.0 737.1)" fill="none" stroke="#8c8c8c" stroke-width="0.9"/>
<ellipse cx="183.1" cy="703.5" rx="94.3" ry="57.5" transform="rotate(139.4 183.1 703.5)" fill="none" stroke="#8c8c8c" stroke-width="0.9"/>
<g clip-path="url(#ceP)">
<ellipse cx="145.2" cy="737.1" rx="91.8" ry="59.3" transform="rotate(41.4 145.2 737.1)" fill="none" stroke="#a87078" stroke-width="0.85"/>
<ellipse cx="182.1" cy="703.5" rx="94.3" ry="57.5" transform="rotate(40.6 182.1 703.5)" fill="none" stroke="#a87078" stroke-width="0.85"/>
</g>
<g clip-path="url(#ceL)">
<ellipse cx="145.2" cy="737.1" rx="91.8" ry="59.3" transform="rotate(41.4 145.2 737.1)" fill="none" stroke="#8068c4" stroke-width="0.85"/>
<ellipse cx="182.1" cy="703.5" rx="94.3" ry="57.5" transform="rotate(40.6 182.1 703.5)" fill="none" stroke="#8068c4" stroke-width="0.85"/>
<ellipse cx="220.0" cy="737.1" rx="91.8" ry="59.3" transform="rotate(138.6 220.0 737.1)" fill="none" stroke="#8068c4" stroke-width="0.85"/>
<ellipse cx="183.1" cy="703.5" rx="94.3" ry="57.5" transform="rotate(139.4 183.1 703.5)" fill="none" stroke="#8068c4" stroke-width="0.85"/>
</g>
<text x="140.1" y="651.1" font-size="12.3" fill="#1a1a1a" stroke="#1a1a1a" stroke-width="0.28" text-anchor="middle">67</text>
<text x="228.7" y="650.8" font-size="12.3" fill="#1a1a1a" stroke="#1a1a1a" stroke-width="0.28" text-anchor="middle">101</text>
<text x="182.2" y="663.2" font-size="12.3" fill="#1a1a1a" stroke="#1a1a1a" stroke-width="0.28" text-anchor="middle">0</text>
<text x="116.4" y="677.7" font-size="12.3" fill="#1a1a1a" stroke="#1a1a1a" stroke-width="0.28" text-anchor="middle">3</text>
<text x="250.6" y="677.5" font-size="12.3" fill="#1a1a1a" stroke="#1a1a1a" stroke-width="0.28" text-anchor="middle">303</text>
<text x="91.6" y="695.9" font-size="12.3" fill="#1a1a1a" stroke="#1a1a1a" stroke-width="0.28" text-anchor="middle">43</text>
<text x="279.4" y="695.5" font-size="12.3" fill="#1a1a1a" stroke="#1a1a1a" stroke-width="0.28" text-anchor="middle">165</text>
<text x="137.7" y="701.4" font-size="12.3" fill="#1a1a1a" stroke="#1a1a1a" stroke-width="0.28" text-anchor="middle">0</text>
<text x="213.0" y="700.9" font-size="12.3" fill="#1a1a1a" stroke="#1a1a1a" stroke-width="0.28" text-anchor="middle">8</text>
<text x="180.0" y="732.3" font-size="12.3" fill="#1a1a1a" stroke="#1a1a1a" stroke-width="0.28" text-anchor="middle">0</text>
<text x="122.3" y="755.6" font-size="12.3" fill="#1a1a1a" stroke="#1a1a1a" stroke-width="0.28" text-anchor="middle">19</text>
<text x="244.0" y="755.6" font-size="12.3" fill="#1a1a1a" stroke="#1a1a1a" stroke-width="0.28" text-anchor="middle">10</text>
<text x="150.0" y="771.5" font-size="12.3" fill="#1a1a1a" stroke="#1a1a1a" stroke-width="0.28" text-anchor="middle">2</text>
<text x="208.1" y="771.5" font-size="12.3" fill="#1a1a1a" stroke="#1a1a1a" stroke-width="0.28" text-anchor="middle">0</text>
<text x="182.0" y="803.4" font-size="12.3" fill="#1a1a1a" stroke="#1a1a1a" stroke-width="0.28" text-anchor="middle">0</text>
<line x1="107.3" y1="682.4" x2="123.4" y2="682.4" stroke="#e02a2a" stroke-width="1.8"/>
<line x1="244.1" y1="682.9" x2="259.9" y2="682.9" stroke="#3040b0" stroke-width="1.8"/>
<line x1="205.7" y1="705.3" x2="221.8" y2="705.3" stroke="#ffffff" stroke-width="1.8"/>
<line x1="236.5" y1="757.8" x2="251.9" y2="757.8" stroke="#44cc33" stroke-width="1.8"/>
<clipPath id="cfY"><ellipse cx="493.5" cy="737.1" rx="91.8" ry="59.3" transform="rotate(41.4 493.5 737.1)" /></clipPath>
<clipPath id="cfG"><ellipse cx="530.4" cy="703.5" rx="94.3" ry="57.5" transform="rotate(40.6 530.4 703.5)" /></clipPath>
<clipPath id="cfL"><ellipse cx="531.4" cy="703.5" rx="94.3" ry="57.5" transform="rotate(139.4 531.4 703.5)" /></clipPath>
<clipPath id="cfP"><ellipse cx="568.3" cy="737.1" rx="91.8" ry="59.3" transform="rotate(138.6 568.3 737.1)" /></clipPath>
<ellipse cx="493.5" cy="737.1" rx="91.8" ry="59.3" transform="rotate(41.4 493.5 737.1)" fill="#f5fadc"/>
<ellipse cx="568.3" cy="737.1" rx="91.8" ry="59.3" transform="rotate(138.6 568.3 737.1)" fill="#f5d6de"/>
<ellipse cx="530.4" cy="703.5" rx="94.3" ry="57.5" transform="rotate(40.6 530.4 703.5)" fill="#e4fad6"/>
<ellipse cx="531.4" cy="703.5" rx="94.3" ry="57.5" transform="rotate(139.4 531.4 703.5)" fill="#dcdaf6"/>
<g clip-path="url(#cfY)"><ellipse cx="530.4" cy="703.5" rx="94.3" ry="57.5" transform="rotate(40.6 530.4 703.5)" fill="#ebf8b6"/></g>
<g clip-path="url(#cfG)"><ellipse cx="531.4" cy="703.5" rx="94.3" ry="57.5" transform="rotate(139.4 531.4 703.5)" fill="#b9dde1"/></g>
<g clip-path="url(#cfL)"><ellipse cx="568.3" cy="737.1" rx="91.8" ry="59.3" transform="rotate(138.6 568.3 737.1)" fill="#dba8ec"/></g>
<g clip-path="url(#cfY)"><ellipse cx="568.3" cy="737.1" rx="91.8" ry="59.3" transform="rotate(138.6 568.3 737.1)" fill="#f2d4a8"/></g>
<g clip-path="url(#cfY)"><ellipse cx="531.4" cy="703.5" rx="94.3" ry="57.5" transform="rotate(139.4 531.4 703.5)" fill="#d8d8e8"/></g>
<g clip-path="url(#cfG)"><ellipse cx="568.3" cy="737.1" rx="91.8" ry="59.3" transform="rotate(138.6 568.3 737.1)" fill="#d9d5a5"/></g>
<g clip-path="url(#cfY)"><g clip-path="url(#cfG)"><ellipse cx="531.4" cy="703.5" rx="94.3" ry="57.5" transform="rotate(139.4 531.4 703.5)" fill="#c4e4c6"/></g></g>
<g clip-path="url(#cfG)"><g clip-path="url(#cfL)"><ellipse cx="568.3" cy="737.1" rx="91.8" ry="59.3" transform="rotate(138.6 568.3 737.1)" fill="#ada8b8"/></g></g>
<g clip-path="url(#cfY)"><g clip-path="url(#cfL)"><ellipse cx="568.3" cy="737.1" rx="91.8" ry="59.3" transform="rotate(138.6 568.3 737.1)" fill="#c9a1c0"/></g></g>
<g clip-path="url(#cfY)"><g clip-path="url(#cfG)"><ellipse cx="568.3" cy="737.1" rx="91.8" ry="59.3" transform="rotate(138.6 568.3 737.1)" fill="#d9cc82"/></g></g>
<g clip-path="url(#cfY)"><g clip-path="url(#cfG)"><g clip-path="url(#cfL)"><ellipse cx="568.3" cy="737.1" rx="91.8" ry="59.3" transform="rotate(138.6 568.3 737.1)" fill="#ad9d95"/></g></g></g>
<ellipse cx="493.5" cy="737.1" rx="91.8" ry="59.3" transform="rotate(41.4 493.5 737.1)" fill="none" stroke="#8c8c8c" stroke-width="0.9"/>
<ellipse cx="530.4" cy="703.5" rx="94.3" ry="57.5" transform="rotate(40.6 530.4 703.5)" fill="none" stroke="#8c8c8c" stroke-width="0.9"/>
<ellipse cx="568.3" cy="737.1" rx="91.8" ry="59.3" transform="rotate(138.6 568.3 737.1)" fill="none" stroke="#8c8c8c" stroke-width="0.9"/>
<ellipse cx="531.4" cy="703.5" rx="94.3" ry="57.5" transform="rotate(139.4 531.4 703.5)" fill="none" stroke="#8c8c8c" stroke-width="0.9"/>
<g clip-path="url(#cfP)">
<ellipse cx="493.5" cy="737.1" rx="91.8" ry="59.3" transform="rotate(41.4 493.5 737.1)" fill="none" stroke="#a87078" stroke-width="0.85"/>
<ellipse cx="530.4" cy="703.5" rx="94.3" ry="57.5" transform="rotate(40.6 530.4 703.5)" fill="none" stroke="#a87078" stroke-width="0.85"/>
</g>
<g clip-path="url(#cfL)">
<ellipse cx="493.5" cy="737.1" rx="91.8" ry="59.3" transform="rotate(41.4 493.5 737.1)" fill="none" stroke="#8068c4" stroke-width="0.85"/>
<ellipse cx="530.4" cy="703.5" rx="94.3" ry="57.5" transform="rotate(40.6 530.4 703.5)" fill="none" stroke="#8068c4" stroke-width="0.85"/>
<ellipse cx="568.3" cy="737.1" rx="91.8" ry="59.3" transform="rotate(138.6 568.3 737.1)" fill="none" stroke="#8068c4" stroke-width="0.85"/>
<ellipse cx="531.4" cy="703.5" rx="94.3" ry="57.5" transform="rotate(139.4 531.4 703.5)" fill="none" stroke="#8068c4" stroke-width="0.85"/>
</g>
<text x="487.6" y="651.7" font-size="12.3" fill="#1a1a1a" stroke="#1a1a1a" stroke-width="0.28" text-anchor="middle">31</text>
<text x="574.3" y="650.8" font-size="12.3" fill="#1a1a1a" stroke="#1a1a1a" stroke-width="0.28" text-anchor="middle">86</text>
<text x="529.6" y="664.1" font-size="12.3" fill="#1a1a1a" stroke="#1a1a1a" stroke-width="0.28" text-anchor="middle">0</text>
<text x="464.0" y="677.6" font-size="12.3" fill="#1a1a1a" stroke="#1a1a1a" stroke-width="0.28" text-anchor="middle">1</text>
<text x="596.6" y="677.9" font-size="12.3" fill="#1a1a1a" stroke="#1a1a1a" stroke-width="0.28" text-anchor="middle">12</text>
<text x="439.2" y="696.4" font-size="12.3" fill="#1a1a1a" stroke="#1a1a1a" stroke-width="0.28" text-anchor="middle">21</text>
<text x="624.5" y="696.0" font-size="12.3" fill="#1a1a1a" stroke="#1a1a1a" stroke-width="0.28" text-anchor="middle">58</text>
<text x="485.0" y="701.8" font-size="12.3" fill="#1a1a1a" stroke="#1a1a1a" stroke-width="0.28" text-anchor="middle">0</text>
<text x="560.5" y="701.6" font-size="12.3" fill="#1a1a1a" stroke="#1a1a1a" stroke-width="0.28" text-anchor="middle">0</text>
<text x="527.2" y="732.8" font-size="12.3" fill="#1a1a1a" stroke="#1a1a1a" stroke-width="0.28" text-anchor="middle">0</text>
<text x="469.8" y="755.7" font-size="12.3" fill="#1a1a1a" stroke="#1a1a1a" stroke-width="0.28" text-anchor="middle">10</text>
<text x="589.2" y="755.1" font-size="12.3" fill="#1a1a1a" stroke="#1a1a1a" stroke-width="0.28" text-anchor="middle">5</text>
<text x="497.3" y="771.7" font-size="12.3" fill="#1a1a1a" stroke="#1a1a1a" stroke-width="0.28" text-anchor="middle">0</text>
<text x="555.1" y="771.7" font-size="12.3" fill="#1a1a1a" stroke="#1a1a1a" stroke-width="0.28" text-anchor="middle">0</text>
<text x="528.8" y="803.2" font-size="12.3" fill="#1a1a1a" stroke="#1a1a1a" stroke-width="0.28" text-anchor="middle">0</text>
<line x1="455.5" y1="681.2" x2="471.7" y2="681.2" stroke="#e02a2a" stroke-width="1.8"/>
<line x1="590.4" y1="682.3" x2="606.0" y2="682.3" stroke="#3040b0" stroke-width="1.8"/>
<line x1="552.8" y1="704.7" x2="568.8" y2="704.7" stroke="#ffffff" stroke-width="1.8"/>
<line x1="581.9" y1="757.3" x2="597.6" y2="757.3" stroke="#44cc33" stroke-width="1.8"/>
<text x="187.8" y="595.6" font-size="12.2" font-weight="bold" fill="#000" text-anchor="middle">Shared Upregulated Genes</text>
<text x="534.8" y="595.8" font-size="12.2" font-weight="bold" fill="#000" text-anchor="middle">Shared Downregulated Genes</text>
<text x="80" y="611" font-size="12.2" font-weight="bold" fill="#72d452"><tspan font-style="italic">Sh3</tspan><tspan font-size="7.0" dy="-4.2" dx="0.3">+/-</tspan><tspan dy="4.2" dx="0.2">+LPS vs.</tspan></text>
<text x="80" y="625" font-size="12.2" font-weight="bold" fill="#72d452">WT+LPS (88)</text>
<text x="216.2" y="610.4" font-size="12.2" font-weight="bold" fill="#5366c4">WT+LPS vs.</text>
<text x="216.2" y="625" font-size="12.2" font-weight="bold" fill="#5366c4">WT+PBS (433)</text>
<text x="33.3" y="795.2" font-size="12.2" font-weight="bold" fill="#e3a033"><tspan font-style="italic">Sh3</tspan><tspan font-size="7.0" dy="-4.2" dx="0.3">+/-</tspan><tspan dy="4.2" dx="0.2">+PBS vs.</tspan></text>
<text x="33.3" y="809.5" font-size="12.2" font-weight="bold" fill="#e3a033">WT+PBS (67)</text>
<text x="247.8" y="794.8" font-size="12.2" font-weight="bold" fill="#e0323a"><tspan font-style="italic">Sh3</tspan><tspan font-size="7.0" dy="-4.2" dx="0.3">+/-</tspan><tspan dy="4.2" dx="0.2">+LPS vs.</tspan></text>
<text x="247.8" y="809.5" font-size="12.2" font-weight="bold" fill="#e0323a"><tspan font-style="italic">Sh3</tspan><tspan font-size="7.0" dy="-4.2" dx="0.3">+/-</tspan><tspan dy="4.2" dx="0.2">+PBS (488)</tspan></text>
<text x="425.2" y="611.2" font-size="12.2" font-weight="bold" fill="#72d452"><tspan font-style="italic">Sh3</tspan><tspan font-size="7.0" dy="-4.2" dx="0.3">+/-</tspan><tspan dy="4.2" dx="0.2">+LPS vs.</tspan></text>
<text x="425.2" y="625.4" font-size="12.2" font-weight="bold" fill="#72d452">WT+LPS (37)</text>
<text x="550.1" y="610.8" font-size="12.2" font-weight="bold" fill="#5366c4">WT+LPS vs.</text>
<text x="550.1" y="624.8" font-size="12.2" font-weight="bold" fill="#5366c4">WT+PBS (108)</text>
<text x="385.8" y="795.2" font-size="12.2" font-weight="bold" fill="#e3a033"><tspan font-style="italic">Sh3</tspan><tspan font-size="7.0" dy="-4.2" dx="0.3">+/-</tspan><tspan dy="4.2" dx="0.2">+PBS vs.</tspan></text>
<text x="385.8" y="809.2" font-size="12.2" font-weight="bold" fill="#e3a033">WT+PBS (33)</text>
<text x="597.4" y="794.6" font-size="12.2" font-weight="bold" fill="#e0323a"><tspan font-style="italic">Sh3</tspan><tspan font-size="7.0" dy="-4.2" dx="0.3">+/-</tspan><tspan dy="4.2" dx="0.2">+LPS vs.</tspan></text>
<text x="597.4" y="809.2" font-size="12.2" font-weight="bold" fill="#e0323a"><tspan font-style="italic">Sh3</tspan><tspan font-size="7.0" dy="-4.2" dx="0.3">+/-</tspan><tspan dy="4.2" dx="0.2">+PBS (75)</tspan></text>
<circle cx="273" cy="1104.2" r="18.4" fill="#d6d5ef" fill-opacity="0.85"/>
<circle cx="137.3" cy="1139" r="14.9" fill="#3c35aa" fill-opacity="0.85"/>
<circle cx="101.5" cy="1107.9" r="14.7" fill="#2d26a3" fill-opacity="0.85"/>
<circle cx="518.6" cy="986" r="14.4" fill="#efa068" fill-opacity="0.85"/>
<circle cx="402.6" cy="1087.9" r="12" fill="#f7d6bd" fill-opacity="0.85"/>
<circle cx="586.2" cy="1039.7" r="11.6" fill="#ea8137" fill-opacity="0.85"/>
<circle cx="516.9" cy="1043.9" r="11" fill="#efa169" fill-opacity="0.85"/>
<circle cx="564.1" cy="1112.5" r="10.6" fill="#ec8b47" fill-opacity="0.85"/>
<circle cx="656.8" cy="1108.4" r="10.1" fill="#e56003" fill-opacity="0.85"/>
<circle cx="305.5" cy="1068" r="9.5" fill="#edecf9" fill-opacity="0.85"/>
<circle cx="503.8" cy="1084.4" r="9.5" fill="#f0a773" fill-opacity="0.85"/>
<circle cx="252.6" cy="1096" r="9.2" fill="#bfbde5" fill-opacity="0.85"/>
<circle cx="269.9" cy="1096" r="9.2" fill="#d3d1ed" fill-opacity="0.85"/>
<circle cx="375.4" cy="1061.3" r="9" fill="#f9e3d1" fill-opacity="0.85"/>
<circle cx="211.3" cy="1027.6" r="8.6" fill="#9894d3" fill-opacity="0.85"/>
<circle cx="627.2" cy="1047" r="8.4" fill="#e76e19" fill-opacity="0.85"/>
<circle cx="299" cy="1090" r="8" fill="#e8e7f7" fill-opacity="0.85"/>
<circle cx="344.4" cy="1106.3" r="8" fill="#fbf1e7" fill-opacity="0.85"/>
<circle cx="382.2" cy="1090" r="8" fill="#f9e0cc" fill-opacity="0.85"/>
<circle cx="445" cy="1123.2" r="8" fill="#f4c29e" fill-opacity="0.85"/>
<circle cx="645.8" cy="857.9" r="7.8" fill="#e6650b" fill-opacity="0.85"/>
<circle cx="645.8" cy="882.4" r="7.8" fill="#e6650b" fill-opacity="0.85"/>
<circle cx="577.3" cy="1030.8" r="7.7" fill="#eb853d" fill-opacity="0.85"/>
<circle cx="364.8" cy="1105.9" r="7.5" fill="#fae8d8" fill-opacity="0.85"/>
<circle cx="538.8" cy="1119.2" r="7.5" fill="#ed9759" fill-opacity="0.85"/>
<circle cx="552.2" cy="951.4" r="7.5" fill="#ec9150" fill-opacity="0.85"/>
<circle cx="262.4" cy="1076.6" r="7.2" fill="#cac9e9" fill-opacity="0.85"/>
<circle cx="404.7" cy="1061.3" r="7" fill="#f7d5bb" fill-opacity="0.85"/>
<circle cx="410.2" cy="1128.8" r="7" fill="#f7d3b7" fill-opacity="0.85"/>
<circle cx="404.7" cy="1135.9" r="6.5" fill="#f7d5bb" fill-opacity="0.85"/>
<circle cx="435.8" cy="1117.5" r="6.5" fill="#f5c7a5" fill-opacity="0.85"/>
<circle cx="510.4" cy="1095" r="6.5" fill="#efa46e" fill-opacity="0.85"/>
<circle cx="521.2" cy="1124.7" r="6.5" fill="#ef9f66" fill-opacity="0.85"/>
<circle cx="613.8" cy="920" r="6.3" fill="#e87423" fill-opacity="0.85"/>
<circle cx="298.5" cy="1105.3" r="6" fill="#e8e7f7" fill-opacity="0.85"/>
<circle cx="282.2" cy="1125.7" r="6" fill="#dcdbf2" fill-opacity="0.85"/>
<circle cx="405.7" cy="1093" r="6" fill="#f7d5bb" fill-opacity="0.85"/>
<circle cx="409.8" cy="1127.7" r="6" fill="#f7d3b8" fill-opacity="0.85"/>
<circle cx="417.4" cy="1120.2" r="6" fill="#f6cfb2" fill-opacity="0.85"/>
<circle cx="524.7" cy="1106.9" r="6" fill="#ee9d64" fill-opacity="0.85"/>
<circle cx="522.4" cy="1125.2" r="6" fill="#ef9e65" fill-opacity="0.85"/>
<circle cx="569.4" cy="1132" r="6" fill="#eb8943" fill-opacity="0.85"/>
<circle cx="542.4" cy="1002.9" r="5.8" fill="#ed9557" fill-opacity="0.85"/>
<circle cx="93.1" cy="1068.1" r="5.7" fill="#2a23a2" fill-opacity="0.85"/>
<circle cx="371" cy="1130.2" r="5.5" fill="#f9e5d4" fill-opacity="0.85"/>
<circle cx="391.4" cy="1100" r="5.5" fill="#f8dbc5" fill-opacity="0.85"/>
<circle cx="445.4" cy="1086.9" r="5.5" fill="#f4c29e" fill-opacity="0.85"/>
<circle cx="426.2" cy="1110" r="5.5" fill="#f5cbac" fill-opacity="0.85"/>
<circle cx="512" cy="1134.9" r="5.5" fill="#efa36d" fill-opacity="0.85"/>
<circle cx="556.1" cy="1054.2" r="5.5" fill="#ec8f4d" fill-opacity="0.85"/>
<circle cx="107.2" cy="1135.9" r="5.3" fill="#2f29a4" fill-opacity="0.85"/>
<circle cx="251.9" cy="1081.3" r="5.1" fill="#bfbde4" fill-opacity="0.85"/>
<circle cx="239.3" cy="1121.6" r="5" fill="#b3b0df" fill-opacity="0.85"/>
<circle cx="282.2" cy="1135.9" r="5" fill="#dcdbf2" fill-opacity="0.85"/>
<circle cx="355" cy="1116.5" r="5" fill="#faece0" fill-opacity="0.85"/>
<circle cx="415.9" cy="1120.6" r="5" fill="#f6d0b3" fill-opacity="0.85"/>
<circle cx="426.2" cy="1068.1" r="5" fill="#f5cbac" fill-opacity="0.85"/>
<circle cx="438.2" cy="1092.6" r="5" fill="#f5c6a3" fill-opacity="0.85"/>
<circle cx="538" cy="1119.6" r="5" fill="#ed975a" fill-opacity="0.85"/>
<circle cx="590.6" cy="1031.3" r="5" fill="#ea7f34" fill-opacity="0.85"/>
<circle cx="542.4" cy="1100.7" r="5" fill="#ed9557" fill-opacity="0.85"/>
<circle cx="121.5" cy="1114.4" r="4.9" fill="#352fa7" fill-opacity="0.85"/>
<circle cx="222.9" cy="1135.3" r="4.5" fill="#a3a0d8" fill-opacity="0.85"/>
<circle cx="375.4" cy="1117.1" r="4.5" fill="#f9e3d1" fill-opacity="0.85"/>
<circle cx="432.3" cy="1070.5" r="4.5" fill="#f5c8a7" fill-opacity="0.85"/>
<circle cx="458.7" cy="1039.2" r="4.5" fill="#f3bc94" fill-opacity="0.85"/>
<circle cx="458.7" cy="1066.4" r="4.5" fill="#f3bc94" fill-opacity="0.85"/>
<circle cx="458.7" cy="1129.4" r="4.5" fill="#f3bc94" fill-opacity="0.85"/>
<circle cx="527.7" cy="1118.1" r="4.5" fill="#ee9c62" fill-opacity="0.85"/>
<circle cx="590.6" cy="1038.5" r="4.5" fill="#ea7f34" fill-opacity="0.85"/>
<circle cx="527.2" cy="1118" r="4.5" fill="#ee9c62" fill-opacity="0.85"/>
<circle cx="172.4" cy="1078.3" r="4.3" fill="#635dbb" fill-opacity="0.85"/>
<circle cx="244.4" cy="1122.6" r="4" fill="#b8b5e1" fill-opacity="0.85"/>
<circle cx="258.7" cy="1112.4" r="4" fill="#c6c4e8" fill-opacity="0.85"/>
<circle cx="374" cy="1087.9" r="4" fill="#f9e3d2" fill-opacity="0.85"/>
<circle cx="565" cy="1066.2" r="4" fill="#ec8b46" fill-opacity="0.85"/>
<circle cx="536.9" cy="988.5" r="3.8" fill="#ee985b" fill-opacity="0.85"/>
<circle cx="154.4" cy="1124.7" r="3.7" fill="#4640ae" fill-opacity="0.85"/>
<circle cx="190.8" cy="1124.7" r="3.7" fill="#7672c4" fill-opacity="0.85"/>
<circle cx="173" cy="1131.4" r="3.5" fill="#635ebb" fill-opacity="0.85"/>
<circle cx="173" cy="1138.6" r="3.5" fill="#635ebb" fill-opacity="0.85"/>
<circle cx="234.2" cy="1122.6" r="3.5" fill="#aeabdd" fill-opacity="0.85"/>
<circle cx="551.3" cy="1093.5" r="3.5" fill="#ed9150" fill-opacity="0.85"/>
<circle cx="521.2" cy="1136.1" r="3.5" fill="#ef9f66" fill-opacity="0.85"/>
<circle cx="414.9" cy="1077.7" r="3" fill="#f6d0b4" fill-opacity="0.85"/>
<circle cx="432.3" cy="1073.6" r="3" fill="#f5c8a7" fill-opacity="0.85"/>
<circle cx="455.6" cy="1095.6" r="3" fill="#f3bd96" fill-opacity="0.85"/>
<circle cx="455.6" cy="1107.9" r="3" fill="#f3bd96" fill-opacity="0.85"/>
<circle cx="536.5" cy="1058.2" r="3" fill="#ee985b" fill-opacity="0.85"/>
<circle cx="521.2" cy="1087.9" r="3" fill="#ef9f66" fill-opacity="0.85"/>
<circle cx="521.2" cy="1135.9" r="3" fill="#ef9f66" fill-opacity="0.85"/>
<circle cx="539" cy="1100.1" r="3" fill="#ed9759" fill-opacity="0.85"/>
<circle cx="536.9" cy="1114.4" r="3" fill="#ee985b" fill-opacity="0.85"/>
<circle cx="536.9" cy="1133.2" r="3" fill="#ee985b" fill-opacity="0.85"/>
<circle cx="193.9" cy="1115.5" r="2.5" fill="#7a76c6" fill-opacity="0.85"/>
<circle cx="193.9" cy="1118.5" r="2.5" fill="#7a76c6" fill-opacity="0.85"/>
<circle cx="289.3" cy="1126.3" r="2.5" fill="#e1e1f4" fill-opacity="0.85"/>
<circle cx="432.3" cy="1051.5" r="2.5" fill="#f5c8a7" fill-opacity="0.85"/>
<circle cx="455.6" cy="1125.3" r="2.5" fill="#f3bd96" fill-opacity="0.85"/>
<circle cx="503.8" cy="1047" r="2.5" fill="#f0a773" fill-opacity="0.85"/>
<circle cx="503.8" cy="1105.7" r="2.5" fill="#f0a773" fill-opacity="0.85"/>
<circle cx="503.8" cy="1115.1" r="2.5" fill="#f0a773" fill-opacity="0.85"/>
<circle cx="521.2" cy="1113.6" r="2.5" fill="#ef9f66" fill-opacity="0.85"/>
<circle cx="536.5" cy="1133.9" r="2.5" fill="#ee985b" fill-opacity="0.85"/>
<circle cx="217.2" cy="1115.1" r="2" fill="#9e9bd6" fill-opacity="0.85"/>
<circle cx="484.8" cy="1035.8" r="2" fill="#f1b081" fill-opacity="0.85"/>
<circle cx="484.8" cy="1110.4" r="2" fill="#f1b081" fill-opacity="0.85"/>
<line x1="70.6" y1="820.5" x2="70.6" y2="1160" stroke="#3a3a3a" stroke-width="1.1"/>
<line x1="70.1" y1="1160.9" x2="671.2" y2="1160.9" stroke="#8a8a8a" stroke-width="1.8"/>
<line x1="68.1" y1="1152.3" x2="70.6" y2="1152.3" stroke="#3a3a3a" stroke-width="1"/>
<text x="66.6" y="1156.8" font-size="12.3" fill="#222" stroke="#222" stroke-width="0.28" text-anchor="end">1.0</text>
<line x1="68.1" y1="1109.0" x2="70.6" y2="1109.0" stroke="#3a3a3a" stroke-width="1"/>
<text x="66.6" y="1113.5" font-size="12.3" fill="#222" stroke="#222" stroke-width="0.28" text-anchor="end">2.0</text>
<line x1="68.1" y1="1065.7" x2="70.6" y2="1065.7" stroke="#3a3a3a" stroke-width="1"/>
<text x="66.6" y="1070.2" font-size="12.3" fill="#222" stroke="#222" stroke-width="0.28" text-anchor="end">3.0</text>
<line x1="68.1" y1="1022.4" x2="70.6" y2="1022.4" stroke="#3a3a3a" stroke-width="1"/>
<text x="66.6" y="1026.9" font-size="12.3" fill="#222" stroke="#222" stroke-width="0.28" text-anchor="end">4.0</text>
<line x1="68.1" y1="979.0" x2="70.6" y2="979.0" stroke="#3a3a3a" stroke-width="1"/>
<text x="66.6" y="983.5" font-size="12.3" fill="#222" stroke="#222" stroke-width="0.28" text-anchor="end">5.0</text>
<line x1="68.1" y1="935.7" x2="70.6" y2="935.7" stroke="#3a3a3a" stroke-width="1"/>
<text x="66.6" y="940.2" font-size="12.3" fill="#222" stroke="#222" stroke-width="0.28" text-anchor="end">6.0</text>
<line x1="68.1" y1="892.4" x2="70.6" y2="892.4" stroke="#3a3a3a" stroke-width="1"/>
<text x="66.6" y="896.9" font-size="12.3" fill="#222" stroke="#222" stroke-width="0.28" text-anchor="end">7.0</text>
<line x1="68.1" y1="849.1" x2="70.6" y2="849.1" stroke="#3a3a3a" stroke-width="1"/>
<text x="66.6" y="853.6" font-size="12.3" fill="#222" stroke="#222" stroke-width="0.28" text-anchor="end">8.0</text>
<line x1="84.2" y1="1161.5" x2="84.2" y2="1163.8" stroke="#999" stroke-width="0.9"/>
<text x="84.2" y="1173.9" font-size="12.3" fill="#222" stroke="#222" stroke-width="0.28" text-anchor="middle">-3.0</text>
<line x1="164.4" y1="1161.5" x2="164.4" y2="1163.8" stroke="#999" stroke-width="0.9"/>
<text x="164.4" y="1173.9" font-size="12.3" fill="#222" stroke="#222" stroke-width="0.28" text-anchor="middle">-2.0</text>
<line x1="244.6" y1="1161.5" x2="244.6" y2="1163.8" stroke="#999" stroke-width="0.9"/>
<text x="244.6" y="1173.9" font-size="12.3" fill="#222" stroke="#222" stroke-width="0.28" text-anchor="middle">-1.0</text>
<line x1="324.8" y1="1161.5" x2="324.8" y2="1163.8" stroke="#999" stroke-width="0.9"/>
<text x="324.8" y="1173.9" font-size="12.3" fill="#222" stroke="#222" stroke-width="0.28" text-anchor="middle">0.0</text>
<line x1="405.0" y1="1161.5" x2="405.0" y2="1163.8" stroke="#999" stroke-width="0.9"/>
<text x="405.0" y="1173.9" font-size="12.3" fill="#222" stroke="#222" stroke-width="0.28" text-anchor="middle">1.0</text>
<line x1="485.2" y1="1161.5" x2="485.2" y2="1163.8" stroke="#999" stroke-width="0.9"/>
<text x="485.2" y="1173.9" font-size="12.3" fill="#222" stroke="#222" stroke-width="0.28" text-anchor="middle">2.0</text>
<line x1="565.4" y1="1161.5" x2="565.4" y2="1163.8" stroke="#999" stroke-width="0.9"/>
<text x="565.4" y="1173.9" font-size="12.3" fill="#222" stroke="#222" stroke-width="0.28" text-anchor="middle">3.0</text>
<line x1="645.6" y1="1161.5" x2="645.6" y2="1163.8" stroke="#999" stroke-width="0.9"/>
<text x="645.6" y="1173.9" font-size="12.3" fill="#222" stroke="#222" stroke-width="0.28" text-anchor="middle">4.0</text>
<text x="367.5" y="1180.5" font-size="12" fill="#1a1a1a" stroke="#1a1a1a" stroke-width="0.28" text-anchor="middle">Z-score</text>
<text transform="translate(41.4,1004.4) rotate(-90)" font-size="12" fill="#1a1a1a" stroke="#1a1a1a" stroke-width="0.28" text-anchor="middle">-log<tspan font-size="8.4" dy="2.6">10</tspan><tspan dy="-2.6">(p-value)</tspan></text>
<circle cx="92.9" cy="824" r="4.2" fill="#e2823e"/>
<circle cx="92.9" cy="839.8" r="4.2" fill="#4b45b0"/>
<text x="99.6" y="828.2" font-size="10.7" font-weight="bold" fill="#1a1a1a" text-anchor="start">Activation (positive z-score)</text>
<text x="99.6" y="842.6" font-size="10.7" font-weight="bold" fill="#1a1a1a" text-anchor="start">Inhibition (negative z-score)</text>
<circle cx="93" cy="862" r="4.2" fill="#d2d2d4"/>
<text x="112.1" y="865.6" font-size="10.5" font-weight="bold" fill="#1a1a1a" text-anchor="start">10</text>
<circle cx="93" cy="883.1" r="8.9" fill="#d2d2d4"/>
<text x="112.1" y="886.7" font-size="10.5" font-weight="bold" fill="#1a1a1a" text-anchor="start">20</text>
<circle cx="93" cy="914.1" r="14.5" fill="#d2d2d4"/>
<text x="112.1" y="917.7" font-size="10.5" font-weight="bold" fill="#1a1a1a" text-anchor="start">30</text>
<text x="205.3" y="881" font-size="10.9" font-weight="bold" fill="#1a1a1a" text-anchor="middle">Number of genes</text>
<text x="206.8" y="893.6" font-size="10.8" font-weight="bold" fill="#1a1a1a" text-anchor="middle">that overlap the pathways</text>
<rect x="295.4" y="818.8" width="150.6" height="19.9" fill="#e8e8e8"/>
<text x="372.3" y="831.7" font-size="12" font-weight="bold" text-anchor="middle" fill="#111"><tspan font-style="italic">Sh3</tspan><tspan font-size="7" dy="-4.2" dx="0.3">+/-</tspan><tspan dy="4.2" dx="0.2">+LPS vs. WT+LPS</tspan></text>
<text x="122.3" y="1031.1" font-size="10.75" font-weight="bold" fill="#1a1a1a" text-anchor="middle">CREB Signaling</text>
<text x="122.3" y="1043.5" font-size="10.75" font-weight="bold" fill="#1a1a1a" text-anchor="middle">in Neurons</text>
<text x="183" y="1096.5" font-size="10.75" font-weight="bold" fill="#1a1a1a" text-anchor="middle">Potassium Channel</text>
<text x="184" y="1108.9" font-size="10.75" font-weight="bold" fill="#1a1a1a" text-anchor="middle">Signaling Pathway</text>
<text x="274.2" y="1006" font-size="10.75" font-weight="bold" fill="#1a1a1a" text-anchor="middle">Acetylcholine Receptor</text>
<text x="274.9" y="1019" font-size="10.75" font-weight="bold" fill="#1a1a1a" text-anchor="middle">Signaling Pathway</text>
<text x="335.9" y="1068.5" font-size="10.75" font-weight="bold" fill="#1a1a1a" text-anchor="middle">Gap Junction</text>
<text x="337.4" y="1080.7" font-size="10.75" font-weight="bold" fill="#1a1a1a" text-anchor="middle">Signaling Pathway</text>
<text x="294.9" y="1141" font-size="10.75" font-weight="bold" fill="#1a1a1a" text-anchor="middle">Glutamatergic Receptor</text>
<text x="296.2" y="1153.3" font-size="10.75" font-weight="bold" fill="#1a1a1a" text-anchor="middle">Signaling Pathway</text>
<text x="417.5" y="939.6" font-size="10.75" font-weight="bold" fill="#1a1a1a" text-anchor="middle">Pathogen Induced Cytokine</text>
<text x="419.4" y="952.7" font-size="10.75" font-weight="bold" fill="#1a1a1a" text-anchor="middle">Storm Signaling Pathway</text>
<text x="441.7" y="999.1" font-size="10.75" font-weight="bold" fill="#1a1a1a" text-anchor="middle">Neuroinflammation</text>
<text x="442.9" y="1011.8" font-size="10.75" font-weight="bold" fill="#1a1a1a" text-anchor="middle">Signaling Pathway</text>
<text x="560.9" y="880.2" font-size="10.75" font-weight="bold" fill="#1a1a1a" text-anchor="middle">Interferon gamma</text>
<text x="560.3" y="891.8" font-size="10.75" font-weight="bold" fill="#1a1a1a" text-anchor="middle">signaling</text>
<text x="623.4" y="955.5" font-size="10.75" font-weight="bold" fill="#1a1a1a" text-anchor="middle">Interferon alpha/beta</text>
<text x="621.8" y="968.7" font-size="10.75" font-weight="bold" fill="#1a1a1a" text-anchor="middle">signaling</text>
<text x="620" y="1075.9" font-size="10.75" font-weight="bold" fill="#1a1a1a" text-anchor="middle">Multiple Sclerosis</text>
<text x="621.8" y="1089.1" font-size="10.75" font-weight="bold" fill="#1a1a1a" text-anchor="middle">Signaling Pathway</text>
<text x="599.7" y="1152.9" font-size="10.75" font-weight="bold" fill="#1a1a1a" text-anchor="middle">Cachexia Signaling Pathway</text>
<line x1="124.4" y1="1053.5" x2="106" y2="1091.6" stroke="#333" stroke-width="0.9"/>
<line x1="172.4" y1="1081.7" x2="172.4" y2="1088.9" stroke="#333" stroke-width="0.9"/>
<line x1="262.4" y1="1026.6" x2="262.4" y2="1067.4" stroke="#333" stroke-width="0.9"/>
<line x1="251.5" y1="1106.3" x2="251.5" y2="1130.8" stroke="#333" stroke-width="0.9"/>
<line x1="278.1" y1="1092" x2="300.6" y2="1084.8" stroke="#333" stroke-width="0.9"/>
<line x1="479.4" y1="959.3" x2="507" y2="976.5" stroke="#333" stroke-width="0.9"/>
<line x1="479.7" y1="1019.4" x2="507.3" y2="1036.8" stroke="#333" stroke-width="0.9"/>
<line x1="608.1" y1="880.2" x2="637.9" y2="880.2" stroke="#333" stroke-width="0.9"/>
<line x1="613.8" y1="929.5" x2="613.8" y2="947.7" stroke="#333" stroke-width="0.9"/>
<line x1="591" y1="1050.6" x2="598.3" y2="1063.8" stroke="#333" stroke-width="0.9"/>
<line x1="653.7" y1="1118.5" x2="626" y2="1139.7" stroke="#333" stroke-width="0.9"/>
</svg></body></html>
